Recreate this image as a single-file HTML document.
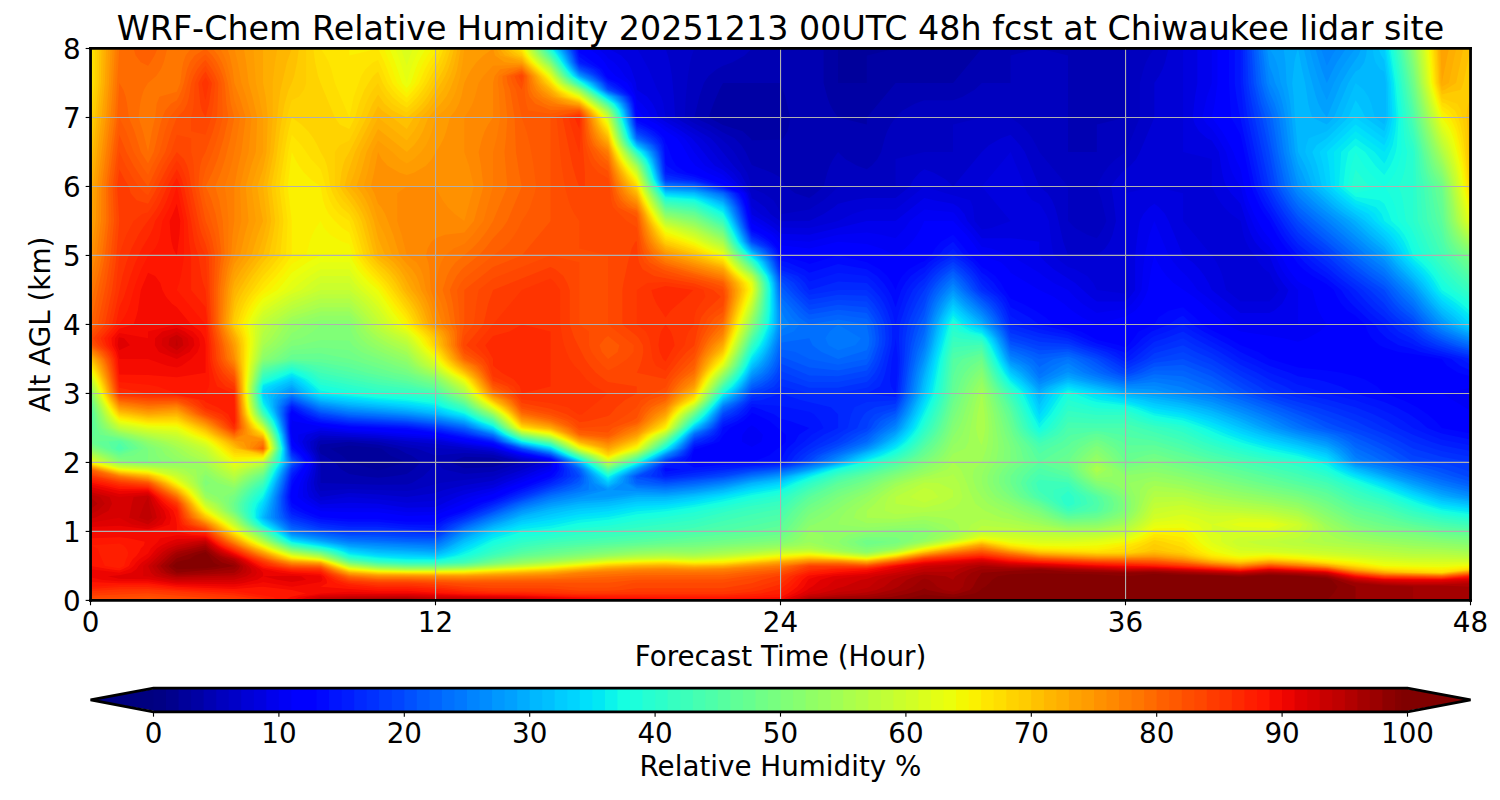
<!DOCTYPE html>
<html lang="en"><head><meta charset="utf-8"><title>WRF-Chem Relative Humidity</title>
<style>html,body{margin:0;padding:0;background:#fff;overflow:hidden}svg{display:block}</style></head>
<body>
<svg  width="1500" height="800" viewBox="0 0 1080 576"><defs><style type="text/css">*{stroke-linejoin: round; stroke-linecap: butt}</style></defs><g id="figure_1"><g id="patch_1"><path d="M0 576l1080 0l0-576l-1080 0z" style="fill: #ffffff"/></g><g id="axes_1"><g id="patch_2"><path d="M65.2 432.3l993.6 0l0-397.4l-993.6 0z" style="fill: #ffffff"/></g><g id="patch_3"><path d="M65.2 432.3l993.6 0l0-397.4l-993.6 0z" clip-path="url(#p21d3d19bf5)" style="fill: #000084"/></g><g id="patch_4"><path d="M65.2 432.3l993.6 0l0-397.4l-993.6 0z" clip-path="url(#p21d3d19bf5)" style="fill: #00008d"/></g><g id="patch_5"><path d="M65.2 432.3l993.6 0l0-397.4l-993.6 0z" clip-path="url(#p21d3d19bf5)" style="fill: #00009b"/></g><g id="patch_6"><path d="M65.2 432.3l993.6 0l0-397.4l-414 0l-20.7 5l0 19.9l-20.7 0l0-24.9l-538.2 0zM272.2 338.5l-3-0.6l-17.7-5l-5.2-4.9l-8.6-5l13.8-2.2l20.7 1.8l2.3 0.4l6.5 5l11.9 4.9l-17.8 5z" clip-path="url(#p21d3d19bf5)" style="fill: #0000a4"/></g><g id="patch_7"><path d="M65.2 432.3l993.6 0l0-397.4l-351.9 0l-20.7 24.9l-41.4 0l-20.7 24.8l0 24.8l0-19.8l-20.7-5l-3.5-5l-2.5-4.9l-1.8-5l-2.6-9.9l0-24.9l-527.8 0zM272.2 344l-10.4-1.1l-10.3-1.7l-6-3.3l-4.4-5l-7.8-4.9l-2.5-1.3l-1.2-3.7l1.2-3l20.7-2l20.7 2.3l13.8 2.7l6.9 3.7l3.4 1.3l6.9 4.9l-5.5 5l-4.8 3.3l-10.4 1.7zM334.3 337.1l-10.4-4.2l10.4-4.1l20.7 0.8l10.3 3.3l-10.3 3.4zM541.3 100.9l-1-1.4l-5.6-5l-14.1-4.5l-10.4-5.4l3.5-9.9l4.3-10l2.6-4.9l41.4 0l3.4 9.9l3.5 14.9l-0.7 5l-1.2 4.9l-3.1 5l-1.9 1.2z" clip-path="url(#p21d3d19bf5)" style="fill: #0000b2"/></g><g id="patch_8"><path d="M65.2 432.3l993.6 0l0-397.4l-248.4 0l0 49.7l-20.7 5l0 19.8l-20.7 0l0-69.5l-20.7-5l-20.7 5l0 19.9l-20.7 0l-5.2 4.9l-8.6 5l-6.9 2.5l-20.7 0l-6.9 2.5l-8.7 4.9l-5.1 5l-3.5 5l-2.5 4.9l-1.8 5l-2.6 9.9l-2.6 5l-4.3 5l-3.4 2.4l-6.9-2.4l-8.7-5l-5.1-5l-3.5 5l-2.5 5l-1.8 4.9l-2.6 10l-5.7 4.9l-4.6 3.3l-10.1-3.3l-6.7-4.9l-3.9-6.5l-6.2-3.5l-14.5-5.5l-4.4-9.4l-3.1-4.9l-4.8-5l-8.4-4.1l-9.8-5.8l-10.9-5l3.6-14.9l3.3-9.9l3.4-5l5.8-5l4.6-2.5l6.9-2.4l8.6-5l5.2-5l-476.1 0zM230.8 347.8l0-14.9l-1.2-4.9l-2-5l1.4-5l1.8-1l20.7-0.2l20.7 1.2l20.7 4.1l6.9 0.9l13.8 5l20.7-1.8l20.7 1.2l20.7 5.5l-20.7 6.7l-20.7 1.6l-15.1-3.3l-5.6-5l-3.7 5l-5.2 5l-8.1 4.9l-3.7 1l-20.7 0.2z" clip-path="url(#p21d3d19bf5)" style="fill: #0000bf"/></g><g id="patch_9"><path d="M65.2 432.3l993.6 0l0-397.4l-227.7 0l-3.5 5l-2.5 5l-1.8 4.9l-2.6 10l0 24.8l-2.1 5l-8.2 19.8l-6.9 5l-5 5l-3.7 4.9l-2.8 5l-2.3 5l3.4 9.9l3.5 14.9l-2.2 5l-2.9 4.9l-1.8 2.5l-6.9-2.5l-8.7-4.9l-5.1-5l0-24.8l-20.7-24.9l-2.3-4.9l-2.9-5l-3.7-5l-4.9-4.9l-6.9-5l-20.7 0l-20.7 5l0 19.8l-20.7 0l-20.7 5l0 19.9l-41.4 0l-4.6 4.9l-5.8 5l-10.3 6.6l-20.7 3.5l-2-5.1l-3.1-5l-7.2-5l-8.4-3.6l-1.7-6.3l-1.7-5l-9.4-14.9l-4.2-4.9l-3.7-3.1l-1.8-1.9l-7.5-5l-11.4-5.8l-6.9-4.1l0.8-14.9l1.5-14.9l1.6-9.9l1.2-5l1.8-5l-434.7 0zM230.8 353.6l-0.6-0.8l-1.9-5l1.2-14.9l-1.4-4.9l-2.4-5l0.5-5l4.6-2.8l20.7 0.4l20.7 1.2l11.5 1.2l9.2 1.9l20.7 2.6l20.7 1.4l20.7 2.2l5.6 1.9l15.1 4l6.9 0.9l-6.9 2.8l-7.2 2.2l-13.5 5l-38.5 4.9l-18.5 5l-5.1 0.8l-41.4-1.5z" clip-path="url(#p21d3d19bf5)" style="fill: #0000c8"/></g><g id="patch_10"><path d="M65.2 432.3l993.6 0l0-397.4l-217.4 0l-2.6 10l-1.8 4.9l-2.5 5l-3.4 5l0 24.8l-10.4 24.8l-2.6 5l-4.3 5l-3.4 2.4l-2.6 2.5l-4.3 5l-3.5 5l1.7 9.9l1.8 14.9l-2.5 9.9l-2.1 5l-3.3 5l-5.9 4.9l-20.7 0l-3.5-9.9l-4.5-19.9l-1.4-4.9l-2.1-5l-3.3-5l-5.9-4.9l-10.4-24.9l-3.4-4.9l-6.9-7.5l-6.9 2.5l-8.7 5l-5.1 4.9l-20.7 24.9l-5.2-5l-8.6-5l-6.9-2.5l-3.5 2.5l-4.3 5l-2.6 5l-10.3 8.2l-20.7 0l-10.4 1.7l-10.3 2.5l-3 2.5l-7.4 4.9l-10.3 5l-20.7 0.2l-7.3-5.2l-3.8-4.9l-6.8-5l-2.8-1.4l-0.8-3.6l-2.2-4.9l-5.4-10l-4.7-4.9l-11.8-14.9l-4.7-5l-25.6-14.9l-0.9-14.9l-1.4-14.9l-1.7-9.9l-1.2-5l-1.7-5l-414 0zM230.8 357.8l-3.7-5l-1.2-5l2.4-14.9l-1.7-4.9l-2.9-5l-0.4-5l7.5-4.6l41.4 2.2l41.4 4.1l41.4 5.2l9.4 3.1l11.3 3l13.8 1.9l-13.8 5.5l-13.3 4.5l-7.4 3.3l-20.7 3.1l-14.8 3.5l-5.9 2.2l-20.7 2.8l-20.7-1.7l-20.7-1.1z" clip-path="url(#p21d3d19bf5)" style="fill: #0000d6"/></g><g id="patch_11"><path d="M65.2 432.3l993.6 0l0-397.4l-207 0l0 74.5l20.7 5l0 19.9l2.3 4.9l2.8 5l3.7 5l5 4.9l6.9 5l2.1 9.9l1.7 5l2.5 5l4 4.9l2.6 5l4.3 5l3.5 2.5l3.6 7.4l3.3 5l-3.5 4.9l-3.4 3.3l-20.7 0l-10.4-8.2l-2.6-10l-1.8-4.9l-2.5-5l-3.4-5l-20.7-24.8l0-19.9l-20.7-4.9l-20.7 4.9l0 44.7l1.1 10l1.2 14.9l-2.3 2.7l-20.7-2.7l-2.6-5l-4.3-5l-8.7-4.9l-5.1-1.7l-4.6-3.3l-5.8-5l-1.7-9.9l-1.7-14.9l-2.2-5l-2.9-4.9l-1.8-2.5l-5.2-2.5l-3.7-5l-1.5-4.9l-10.3-24.9l-20.7 24.9l20.7 24.8l-13.8 5l-6.9 1.2l-5.2-6.2l-1.1-9.9l-2-5l-17.6-5l-15.5-4.9l-20.7 16.5l-20.7 0l-10.4 3.3l-10.3 5l-20.7 5l-20.7-0.3l-6.3-4.7l-8.2-5l-6.2-5.3l-2.1-9.6l-3.5-4.9l-7.7-10l-6.5-4.9l-4.3-5l-7.7-9.9l-4.9-5l-15.9-9.9l-9.5-5l-1.6-9.9l-1.5-5l-2.9-5l-6.1-14.9l-5.4-9.9l-3.2-5l-393.3 0zM230.8 360.5l-4.2-2.7l-2.5-5l-0.6-5l3.6-14.9l-2-4.9l-3.3-5l-1.4-5l5.8-4.9l4.6-1.4l41.4 2.6l20.7 2.1l20.7 1.1l20.7 3.6l20.7 2.5l13.1 4.4l7.6 2l20.7 2.9l-26.7 10l-14.7 6.1l-20.7 3.8l-15.6 5l-5.1 2.7l-20.7 1.4l-20.7-2.5l-20.7-1.6z" clip-path="url(#p21d3d19bf5)" style="fill: #0000df"/></g><g id="patch_12"><path d="M65.2 432.3l993.6 0l0-397.4l-196.7 0l0 24.9l-1.7 9.9l-1.7 14.9l1.7 5l2.9 4.9l5.7 5l3.5 1.6l5.1 8.3l2.3 14.9l1.2 5l1.7 5l3.5 4.9l6.9 7.5l5.6 17.4l2 4.9l2.7 5l4 5l6.4 4.9l3.9 10l2.6 4.9l3.2 5l4.1 5l-1.8 4.9l-2.8 5l-5.8 5l-3.4 1.6l-20.7 0l-20.7-16.5l-2.3-5l-2.9-5l-3.7-4.9l-4.9-5l-6.9-5l-10.4-24.8l-2.6-5l-4.3-4.9l-3.4-2.5l-3.5 2.5l-4.3 4.9l-2.6 5l-1.7 9.9l-1.7 14.9l0 24.9l-3.7 4.9l-3.2 3.3l-20.7 0l-4.6-3.3l-11-9.9l-15.5-9.9l-5.7-5l-4.6-5l0-9.9l-20.7-2.5l-20.7 0l-6-7.4l-4.4-5l-2.1-5l-4.1-4.9l-4.1-2.5l-13.8-2.5l-6.9-1.7l-20.7 16.6l-20.7 0l-41.4 9.9l-20.7-0.7l-4.8-4.2l-7.5-5l-8.4-4.6l-1.8-10.3l-1.6-5l-14.8-14.9l-2.5-1.9l-6-3l-4.3-5l-7.7-9.9l-2.7-2.8l-1.8-2.2l-7.2-5l-16.9-9.9l-1.7-5l-2.4-4.9l-3.9-5l-7.5-5l-0.6-4.9l-3.4-10l-2.6-4.9l-4.6-5l-9.5-5l-372.6 0zM230.8 363.2l-8.3-5.4l-1.5-5l0-5l4.9-14.9l-2.3-4.9l-3.8-5l-2.3-5l2.9-4.9l10.4-3.2l20.7 1.9l20.7 1.3l20.7 1.9l20.7 1.3l20.7 3.6l20.7 2.7l20.7 6.4l20.7 3.5l0.9 0.4l-0.9 2.1l-8.1 2.9l-12.6 5.4l-12.3 4.5l-8.4 3.6l-7.8 1.4l-12.9 3.3l-5.2 1.7l-15.5 7.2l-20.7 0.6l-20.7-2.9l-20.7-0.8z" clip-path="url(#p21d3d19bf5)" style="fill: #0000ed"/></g><g id="patch_13"><path d="M65.2 432.3l993.6 0l0-397.4l-186.3 0l0 24.9l-3.5 9.9l-3.4 14.9l3.4 5l3.5 3.3l1.2 1.6l3.4 5l5.7 9.9l2.6 10l1.8 4.9l2.5 5l3.5 5l2.4 9.9l1.6 5l6.3 14.9l2.7 4.9l3.8 5l3.9 3.7l4.1 6.2l4.7 10l3.1 4.9l3.9 5l4.9 5l0 24.8l-20.7 0l-20.7 0l-24.5-19.9l-6.6-4.9l-3.4-5l-4.4-5l-5.1-4.9l-4.3-5l-3.5-5l-10.3-24.8l-3.5 9.9l-3.4 14.9l-1.2 10l-1.1 14.9l-2.8 4.9l-4.1 5l-4.6 3.9l-10.4 1.1l-10.3 1.6l-10.4-6.6l-5.7-5l-4.6-4.9l-10.4-5l-7.4-5l-2.9-2.4l-20.7-12.5l-13.8-4.9l-6.9-1.3l-6.6-8.7l-9-9.9l-3.8-5l-1.3-1.2l-20.7-2.1l-10.4 8.3l-3.4 5l-6.9 7.4l-10.4-2.5l-10.3-1.6l-20.7 1.6l-20.7 5l-20.7-1.3l-2.8-3.7l-7.1-4.9l-10.8-6.4l-2.8-13.5l-1.8-5l-12.6-9.9l-3.5-3.3l-13-6.6l-7.7-9.6l-3.3-5.3l-3.8-5l-7.6-5l-6-3.4l-1.9-1.5l-8.5-5l-2.6-5l-4-4.9l-3.7-3.3l-0.3-1.7l-3.4-9.9l-5-5l-3.1-5l-4.7-4.9l-4.2-3l-1.5-2l-5.4-5l-365.7 0zM292.9 368.8l-20.7-2.9l-41.4-0.2l-5.7-3l-6.8-4.9l-0.3-5l0.6-5l6.1-14.9l-2.6-4.9l-4.2-5l-3.2-5l0-4.9l16.1-5l20.7 2.5l20.7 1.2l41.4 3.3l20.7 3.7l20.7 3.1l2.7 1.1l18 5l20.7 4l1.8 0.9l-1.8 4.2l-41.4 16.5l-16.6 4.2l-24.8 10.6z" clip-path="url(#p21d3d19bf5)" style="fill: #0000f6"/></g><g id="patch_14"><path d="M65.2 432.3l993.6 0l0-136.6l-20.7-12.4l20.7-4.2l0-244.2l-182.2 0l0 24.9l-2 14.9l-2.1 9.9l7.3 9.9l3 5l5.2 9.9l1.7 5l3.5 7.4l2.5 12.5l2.9 9.9l4.2 9.9l5.4 10l3.5 4.9l2.2 2.5l4.6 7.5l3.6 4.9l5.6 10l3.6 4.9l3.3 3.8l10.3 6.2l2.6 9.9l1.8 5l2.5 4.9l3.5 5l-5.2 5l-8.6 4.9l-6.9 2.5l-10.4-2.5l-31-4.9l-10.4-5l-10.3-8.3l-6.9-6.6l-6.3-5l-14.4-9.9l-5-5l-3.7-4.9l-2.8-5l-2.3-5l-2.3 10l-2.3 14.9l-2 4.9l-2.8 5l-4.4 5l-6.9 4.4l-3 0.5l-17.7 5l-10.4-5l-7.4-4.9l-5.9-5l-7.4-5l-10.3-4.9l-20.7-12.4l-1.6-2.5l-5.3-5l-13.8-5l-7.2-9.9l-4.1-5l-9.4-9.9l-20.7 0l-2.3 5l-2.9 4.9l-3.7 5l-4.9 5l-6.9 4.9l-10.4-4.9l-10.3-3.3l-20.7-1.7l-20.7 5l-20.7-2.4l-1.6-2.6l-4.5-5l-14.6-8.2l-3.8-16.6l-2.1-5l-14.8-9.7l-11.4-5.2l-8.5-4.9l-4-5l-5.5-9.9l-3.7-5l-8.3-5.2l-5.9-4.7l-9.7-5l-5.1-6.6l-1.2-8.3l-5.6-9.9l-8.4-5l-5.5-5.9l-2.5-4l-4.3-5l-7-5l-358.8 0zM230.8 368.1l-10.4-5.4l-6.2-4.9l0.7-5l1.2-5l2.2-4.9l5.2-10l-2.9-4.9l-8.8-10l-1.7-3.7l-0.5-6.2l0.5-6.2l1 1.2l19.7 4l20.7 2.3l20.7 1.2l41.4 3.2l22.5 4.2l18.9 3.1l4.5 1.9l16.2 4.5l20.7 4l2.8 1.4l-1.8 5l-1 1.2l-20.7 8.3l-14.7 5.4l-6 2.9l-8.3 2.1l-33.1 13l-20.7 0.8l-20.7-2.8l-20.7 0zM541.3 321.9l-7.1-3.9l0.3-4.9l3.9-5l2.9-2l3.3 2l4.7 5l-1.1 4.9z" clip-path="url(#p21d3d19bf5)" style="fill: #0000ff"/></g><g id="patch_15"><path d="M65.2 432.3l993.6 0l0-124.2l-20.7-12.4l-3-2.5l-7.4-5l-10.3-4.9l0-19.9l0 5l20.7 2.5l6.9 2.4l13.8 1.7l0-240.1l-178.1 0l0 24.9l-1.3 24.8l6.5 9.9l2.7 5l4.6 9.9l5.1 24.9l3.4 9.9l2.1 5l2.7 4.9l7.4 11.2l5 8.7l3.4 5l4 4.9l2.9 5l5.4 7.5l2.9 2.4l7.4 5l10.4 5l1.2 4.9l1.7 5l2.7 5l4.7 4.9l10.4 5l0 24.8l-41.4 0l-10.4-4.9l-10.3-3.3l-3.5-1.7l-17.2-5l-9.4-4.9l-11.3-5l-4.5-5l-5.1-4.9l-6-5l-5.1-3.7l-10.4-1.3l-10.3-4.9l-1.1 4.9l-1.6 5l-2.5 5l-4.6 4.9l-10.9 5l0 9.9l-20.7-3.7l-1.9-1.2l-18.8-5l-4.6-5l-5.8-4.9l-7.4-5l-9.8-5l-13.8-4.9l-2-5l-2.9-5l-4.7-4.9l-8.8-5l-2.3-0.8l-4.2-4.2l-7.5-9.9l-9-9.9l-13 4.9l-4.3 5l-2.1 5l-1.3 4.9l-13.8 5l-5.3 5l-1.6 2.5l-1.9-2.5l-5.9-5l-12.9-5l-20.7-4.9l-20.7 4.9l-20.7-3.6l-0.5-1.3l-3.3-5l-5.6-5l-11.3-5.4l-3.3-14.4l-1.5-5l-2.4-5l-13.5-8.1l-19-6.8l-7.8-4.9l-3.5-5l-4.6-9.9l-3.4-5l-3.1-1.9l-2.7-3.1l-7.2-4.9l-10.8-5l-1-9.9l-1.1-5l-7.8-9.9l-10.8-4.8l-1.9-5.2l-4.8-4.9l-5.3-5l-8.7-5l-351.9 0zM292.9 373.8l-20.7-2.2l-20.7 0l-20.7-1.4l-6.2-2.5l-8.9-5l-5.6-4.9l3.6-10l2.6-4.9l5.9-10l-3.1-4.9l-9-9.1l-0.9-10.8l0.9-10.5l1 0.6l5.2 4.9l14.5 2.9l20.7 2.1l41.4 2.8l20.7 1.8l27.2 5.3l14.2 2.3l6.3 2.7l14.4 4l20.7 4.1l3.7 1.8l-0.9 5l-2.8 3.1l-17.3 6.8l-13.8 5l-10.3 5l-16.2 4.9l-4.5 2.3l-20.7 8.2zM541.3 327.4l-16.6-4.4l-0.6-5l3.7-4.9l4.2-5l7.8-5l1.5-1.4l3.1 1.4l7.9 5l5.1 5l0.6 4.9z" clip-path="url(#p21d3d19bf5)" style="fill: #0000ff"/></g><g id="patch_16"><path d="M65.2 432.3l993.6 0l0-120.1l-20.7-4.1l-4.6-5l-5.8-4.9l-7.4-5l-9.8-5l-13.8-4.9l-5.2-5l-8.6-5l-6.9-2.4l-10.4-2.5l-10.3-1.7l-20.7-2.1l-20.7-6.2l-7.8-4.9l-12.9-5l-8.7-5l-12-5.8l-6.9-4.1l-5-5l-8.8-7.4l-10.4 2.5l-7.4 4.9l-2.9 5l-11.3 5l-3.4 4.9l-4 5l-2 1.7l-4.6-1.7l-16.1-3.9l-11.3-6l-19.8-5l-5.7-5l-7.2-4.9l-9.3-5l-8.8-3.7l-4.2-6.2l-2.7-5l-4.1-5l-6.6-4.9l-3.1-1.7l-2.8-3.3l-5.5-5l-7.9-9.9l-4.5-5l-8.7 5l-4.3 5l-2.6 4.9l-5.1 4.2l-2.3 0.8l-8.9 5l-4.7 4.9l-2.9 5l-1.9 5l-2.5-5l-3.5-5l-5.3-4.9l-9.4-5l-20.7-5l-20.7 6.2l-2.6-1.2l-18.1-4.9l-1.9-5l-4.1-5l-6.7-5l-8-3.7l-4.1-16.1l-1.6-5l-2.7-5l-10-4.9l-2.3-1.5l-20.7-7.2l-5.4-1.3l-7.6-4.9l-2.9-5l-3.7-9.9l-1.1-1.7l-0.9-3.3l-4.6-5l-8.3-4.9l-6.9-3.2l-1.6-11.7l-1.4-5l-4.6-5l-5.4-4.9l-7.7-3.4l-1.5-1.6l-2.6-5l-13.1-9.9l-3.5-2l-0.8-3l-351.1 0zM251.5 373.8l-20.7-1.5l-11.4-4.6l-9.3-5.8l-0.9-4.1l0.9-7.2l1.2-2.8l2.9-4.9l6.8-10l-3.4-4.9l-7.5-7.1l-1.3-12.8l0.4-9.9l0.9-2.2l11.3 7.1l9.4 1.9l20.7 2.2l20.7 0.9l20.7 1.4l20.7 2.3l32 6.2l9.4 1.6l8.1 3.4l12.6 3.5l20.7 4.1l4.7 2.3l-0.1 5l-4.6 5l-26.8 9.9l-14.6 6.4l-11.7 3.5l-9 4.6l-15.8 5.4l-4.9 2.8l-20.7 0.2l-20.7-1.9zM499.9 334.3l-2.6-1.4l1-4.9l1.6-4.3l3.5-0.7l14.4-5l2.8-4.4l5-5.5l9.8-5l5.2-4.9l0.7-1l2.8 1l10 4.9l7.9 6.9l3.9 3.1l-0.1 4.9l-3.8 3.8l-2.1 1.2l-6.2 5l-12.4 4.9l-20.7 0zM1049.9 268.4l8.9 2.5l0-236l-173.9 0l0 24.9l1.4 24.8l3 5l3.9 7.4l7.7 37.3l1.8 4.9l4.5 10l3 4.9l3.7 5l5.3 9.9l3.2 5l3.7 5l4.3 4.9l4.2 6.2l3.8 3.8l6.5 4.9l10.4 5.8l5.1 4.2l2.2 4.9l3 5l4.7 5l5.7 3.7l6.9 6.2l1.7 5l2.9 4.9l5.7 5l3.5 1.7l10.3 3.3l10.4 1.4l20.7 3.5l3.7 5z" clip-path="url(#p21d3d19bf5)" style="fill: #0008ff"/></g><g id="patch_17"><path d="M65.2 432.3l993.6 0l0-115.9l-20.7-4.2l-10.4-4.1l-5.7-5l-7.2-4.9l-9.3-5l-8.8-3.7l-20.7-6.2l-10.4-5l-10.3-3.3l-6.9-1.7l-13.8-2.4l-6-2.5l-14.7-5l-20.7-9.9l-8-5l-18.7-9.9l-7.8-5l-6.9-6.2l-3 1.2l-7.4 5l-12.2 5l-6.7 4.9l-4.9 5l-7.2 5.8l-1.3-0.8l-14.8-5l-4.6-1.1l-20.7-8.8l-20.7-5l-6.9-5l-8.7-4.9l-5.1-2.5l-1-2.5l-2.7-5l-4.6-4.9l-3.6-5l-5.2-5l-3.6-2.4l-1.8-2.5l-4.5-5l-6.2-5l-8.2-9.9l-6.5 5l-3.9 4.9l-7 5l-3.3 3.3l-3.2 1.7l-6.6 4.9l-4 5l-2.8 5l-4.1 12.4l-2.6-7.5l-2.6-4.9l-3.4-5l-4.7-5l-7.4-4.9l-20.7-3.8l-20.7 6.3l-3.7-2.5l-11.8-5l-5.2-1.4l-1-3.6l-2.3-4.9l-5-5l-7.7-5l-4.7-2.2l-1.2-2.7l-3.7-14.9l-1.8-5l-3-5l-11-4.9l-20.7-7l-12.3-3l-7.6-4.9l-0.8-1.6l-1-13.3l-1.9-5l-5.4-5l-12.4-6.3l-0.9-3.6l-1.3-9.9l-1.7-5l-5.6-5l-6.6-4.9l-4.6-2.1l-2.7-2.9l-3.5-5l-8.9-4.9l-5.6-4l-1.6-6l-350.3 0zM292.9 377.6l-20.7-1.9l-20.7 0l-20.7-1.8l-4.2-1.2l-12.4-5l-4.1-2.5l-0.8-2.5l-0.9-4.9l1.7-11.6l2-3.3l7.7-10l-3.7-4.9l-6-5l-1.7-14.9l0.1-9.9l1.6-3.7l6.2 3.7l10.3 4.9l4.2 0.9l20.7 2.3l41.4 1.8l20.7 2.8l41.4 7.9l9.9 4.2l10.8 3l20.7 4.2l5.6 2.7l0.8 5l-3.5 5l-2.9 1.6l-22.5 8.3l-18.9 7.7l-7.2 2.2l-13.5 6.1l-11.6 3.9l-9.1 5.2zM479.2 339.4l-1-1.5l1-0.9l11.2 0.9zM499.9 336.6l-7.2-3.7l4.1-4.9l3.1-6l13.6-4l5.1-4.9l2-5.4l10.3-4.6l6.7-4.9l3.7-5.2l2 0.2l13.9 5l4.8 3.3l6.5 1.6l14.2 5l-7.5 5l-2.9 4.9l-5.7 5l-2.9 5l-1.7 4.9l-41.4 1.7zM1051.2 263.4l7.6 3.3l0-231.8l-169.8 0l0 24.9l1.2 9.9l1.7 9.9l11.6 54.7l4.3 9.9l2.7 5l3.4 4.9l8.6 14.9l3.5 5l4 5l9.2 9.9l5.7 5l10.4 6.6l10.3 8.3l3.1 4.9l4.3 5l10.7 9.9l6.1 5l3.4 5l5.2 4.9l8.6 5l10.4 2.8l5.1 2.2l15.6 3.2l6.9 1.7z" clip-path="url(#p21d3d19bf5)" style="fill: #0014ff"/></g><g id="patch_18"><path d="M65.2 432.3l993.6 0l0-111.8l-20.7-4.1l-9.2-3.3l-11.5-5l-6.9-5l-8.7-4.9l-11.1-5l-14.7-5l-20.7-4.9l-15.6-5l-5.1-1.2l-7.8-3.8l-12.9-4.9l-9.4-5l-11.3-5l-7.4-4.9l-26.6-14.9l-7.4-5l-11.5 5l-9.2 3.3l-2.5 1.6l-18.2 14.9l-7.3-4.9l-16.5-5l-17.6-7.4l-13-2.5l-7.7-1.9l-10.4-3.1l-10.3-6.2l-1.2-3.7l-2.2-5l-3.3-5l-5.8-4.9l-4.3-5l-3.9-3.3l-4.8-6.6l-4.9-5l-6.9-5l-4.1-4.9l-5.2 4.9l-8.1 5l-5.4 5l-2 2.5l-3.7 2.4l-5.2 5l-3.6 5l-2.1 4.9l-3.5 10l-2.6 9.9l0 9.9l1.6 14.9l-0.3 10l-1.3 14.9l-3.2-5l-0.8-5l1.4-14.9l2.1-9.9l0.5-5l0-9.9l-2.6-9.9l-1.9-5l-2.4-5l-3.5-4.9l-4.3-5l-6-5l-20.7-2.4l-20.7 6.2l-3.1-3.8l-9.9-4.9l-7.7-2.9l-2-7.1l-2.7-4.9l-5.8-5l-10.2-5.7l-1.8-4.2l-3.9-14.9l-2-5l-3.3-5l-9.7-4.3l-20.7-6l-19.2-4.6l-1.5-1l-1.2-13.9l-1-4.9l-2.7-5l-6.3-5l-9.5-4.6l-1.3-5.3l-1.5-9.9l-2-5l-6.6-5l-7.8-4.9l-1.5-0.7l-8.4-9.3l-10.9-4.9l-1.4-1.1l-2.4-8.9l-349.5 0zM251.5 377.6l-20.7-2.1l-9.4-2.8l-11.3-4.6l-0.3-0.4l-1.5-5l-0.8-4.9l2.6-14.9l8.5-10l-4-4.9l-4.5-3.7l-0.3-1.3l-1.8-14.9l-0.1-9.9l2.2-5.2l8.8 5.2l11.9 4.7l20.7 2.5l41.4 1.9l6.9 0.8l13.8 1.9l41.4 8l11.7 5l9 2.5l20.7 4.2l6.5 3.2l1.7 5l-2.3 5l-5.9 3.3l-20.7 7.4l-23.4 9.1l-18 7.5l-7.5 2.5l-10.1 4.9l-3.1 2.7l-20.7-1l-20.7-1.7zM479.2 341.6l-2.5-3.7l2.5-2.3l9-2.7l7.1-4.9l4.6-7.3l9.3-2.7l7.2-4.9l4.2-7.3l5.9-2.7l8.1-4.9l6.7-7.3l20.7 1.5l20.7 4.1l3.4 1.7l4.3 4.9l2.6 5l-8.6 5l-5.6 4.9l-6.5 5l-4.3 5l-2.6 4.9l-3.4 0.7l-41.4 2.7l-20.7 2.3zM1051.9 258.4l6.9 4.2l0-227.7l-165.6 0l0 24.9l1.9 19.8l0.6 5l10.4 49.7l4.7 9.9l15.1 24.8l3.7 5l5 5.8l5.1 4.1l5.2 5l6.5 5l3.9 2.5l8.8 7.4l6.7 5l3.9 4.9l9.8 10l5.7 4.9l6.5 5l3.8 5l6.5 4.9l10.4 4.3l1 0.7l12.8 5l6.9 1.4z" clip-path="url(#p21d3d19bf5)" style="fill: #001cff"/></g><g id="patch_19"><path d="M65.2 432.3l993.6 0l0-107.6l-20.7-4.2l-7.8-2.5l-12.9-4.9l-10.4-5l-8-5l-10.1-4.9l-12.9-5l-20.7-5.8l-20.7-4.1l-9.2-5l-11.5-5l-8.7-4.9l-12-5.8l-14.8-9.1l-18.7-10l-7.9-4.9l-13 4.9l-7.7 2.5l-15.6 12.4l-5.1 2.5l-13.4-7.4l-15.6-5l-12.4-5l-20.7-3.7l-20.7-6.2l-1.4-5l-1.8-4.9l-2.6-5l-4-5l-6.8-4.9l-4.1-4.2l-3.7-5.8l-4-4.9l-5.4-5l-7.6-5l-9.1 5l-6.1 5l-5.5 6.6l-4 3.3l-4.3 5l-4.6 9.9l-4.9 14.9l-0.5 9.9l0.7 14.9l-0.5 10l-1.4 14.9l-1.2 2.5l-20.7-2.5l9.5-5l2.3-5l1.5-4.9l4.5-19.9l0.5-5l-0.2-9.9l-3.3-9.9l-2.3-5l-3.1-5l-4.3-4.9l-5.1-5l-20.7-1.2l-20.7 6.2l-3.1-5l-5.1-5l-12.5-4.6l-1.2-5.3l-1.7-5l-3.2-4.9l-6.6-5l-8-4.3l-2.4-5.6l-4.2-14.9l-2.1-5l-3.6-5l-8.4-3.7l-20.7-5.7l-5.8-0.5l-14.9-3.6l-2-16.3l-1.3-4.9l-3.6-5l-7.1-5l-6.7-3.2l-1.8-6.7l-0.6-5l-1.1-4.9l-2.2-5l-15-9.4l-5.2-5.5l-5.4-5l-10.1-4.3l-3.2-10.6l-348.7 0zM313.6 382.6l-41.4-3.3l-20.7 0l-20.7-2.3l-14.5-4.3l-6.2-2.5l-1.5-2.5l-1.3-5l-0.6-4.9l1.6-10l1.8-6.9l7.3-8l-4.3-4.9l-3-2.5l-0.7-2.5l-1.8-14.9l-0.4-9.9l1.8-5l1.1-1.1l2.4 1.1l8.9 5l9.4 3.7l20.7 2.7l41.4 2l20.7 2.4l20.7 4.1l20.7 4.4l13.5 5.5l7.2 2l20.7 4.2l7.5 3.7l2.5 5l-1.2 5l-8.8 4.9l-20.7 7.2l-44.8 17.7l-11.4 4.9zM479.2 343.3l-1.8-0.4l-2.1-5l3.9-3.6l4.5-1.4l10-4.9l6.2-8.5l5-1.5l9.3-4.9l3.8-5l2.6-4.3l11-5.6l9.7-9.4l6.9-0.6l13.8-4.9l15.1 4.9l21.1 5l5.2 5l0 9.9l-10.4 5l-14.9 9.9l-5.8 5l-3.4 4.9l-6.9 1.4l-20.7 1.4l-41.4 4.6zM1058.8 258.4l0-223.5l-164 0l0.2 24.9l1.8 14.9l1.5 9.9l10.4 49.7l7.8 14.9l9.3 14.9l3.4 4.9l5.4 6.7l16.1 13.2l4.6 3.3l7.5 6.6l13.2 10l9.2 9.9l5.4 5l6.1 4.9l10.3 10l10.4 5.6l6.5 4.3l15.2 5z" clip-path="url(#p21d3d19bf5)" style="fill: #0028ff"/></g><g id="patch_20"><path d="M65.2 432.3l993.6 0l0-103.5l-20.7-4.1l-6-1.7l-14.7-5l-9.4-4.9l-11.3-5l-9.2-5l-11.5-4.9l-14.8-5l-17.8-5l-8.8-1.8l-10.4-3.1l-10.3-5l-8-5l-12.7-6.6l-20.7-12.4l-12.1-5.8l-8.6-5l-14.8 5l-5.9 1.7l-10.4 8.2l-10.3 5l-8.3-5l-11.2-4.9l-14.7-5l-7.2-2.9l-20.7-2.7l-20.7-6.2l-1.5-3.1l-1.6-5l-2.1-4.9l-3-5l-4.6-5l-7.9-4.9l-2.8-5l-3.5-5l-4.4-4.9l-5.9-5l-4.1-2.7l-5 2.7l-6.8 5l-4.8 4.9l-4.1 5.8l-4.2 4.2l-2.7 4.9l-4.5 10l-3.4 9.9l-1.1 9.9l-0.1 14.9l-1.2 14.9l-1.1 10l-2.4 4.9l-20.7 1.3l-8.9 3.7l-2.4 5l-2.5 9.9l-6.9 4.1l-20.7 11.4l-6.1 4.4l-4.3 4.9l-10.3 2.1l-20.7 1.6l-12.1 1.3l-35.6 5l-14.4 1.4l-6.2-1.4l0.8-5l5.4-5l13-4.9l4.3-5l3.4-4.7l12.2-5.2l4.7-5l3.8-5.9l8-4l6.3-5l5.3-5l1.1-1.4l13.2-3.5l7.5-5.4l20.7 5.4l20.7 0l20.7-4.2l1.6-0.8l5.3-5l2.7-4.9l1.9-5l4-14.9l0.5-5l-0.5-9.9l-3.9-9.9l-2.8-5l-3.7-5l-5.1-4.9l-20.7 0l-20.7 3.5l-3.6-3.5l-3.4-5l-6.3-5l-7.4-2.7l-2-7.2l-1.9-5l-3.6-4.9l-7.4-5l-5.8-3.1l-3-6.8l-4.4-14.9l-2.3-5l-3.8-5l-7.2-3.2l-20.7-5.5l-13.2-1.2l-7.5-1.8l-0.9-3.2l-1.9-14.9l-1.7-4.9l-4.5-5l-7.8-5l-3.9-1.9l-2.2-8l-0.7-5l-1.2-4.9l-2.5-5l-14.1-8.3l-1.3-1.6l-5.2-5l-6.3-5l-7.9-3.4l-1-1.5l-3-10l-347.9 0zM292.9 382.6l-20.7-1.6l-20.7 0l-20.7-2.5l-20.7-6.2l-2.7-4.6l-1.1-5l-0.5-4.9l1.8-10l2.5-8.9l6-6l-6-6.2l-1.7-8.7l-1.2-9.9l-0.6-9.9l1.5-5l2-1.9l4.5 1.9l9.4 5l6.8 2.7l20.7 2.8l41.4 2.1l20.7 2.3l20.7 4.1l2.5 0.9l18.2 3.8l1.9 1.1l13.4 5l5.4 1.5l20.7 4.3l8.4 4.1l3.3 5l0.1 5l-8.1 4.9l-24.4 8.6l-16.7 6.3l-36.6 14.9l-6.8 5l-2 1.2zM1044.6 253.5l14.2 3.6l0-222.2l-162.5 0l0.6 24.9l1.3 9.9l1.7 9.9l11.4 54.7l7.9 14.9l9.7 14.9l5.7 7.4l8.8 7.5l11.9 9.1l12.2 10.7l13.6 10l9.8 9.9l5.8 5l4.5 4.9l5.8 5l6.5 5l3.9 2.1l3.1 2.8l8.8 5z" clip-path="url(#p21d3d19bf5)" style="fill: #0030ff"/></g><g id="patch_21"><path d="M65.2 432.3l993.6 0l0-99.4l-20.7-4.1l-20.7-5.8l-8.7-5l-10.2-4.9l-12.2-5l-10.3-5l-13-4.9l-14.6-5l-13.8-3.7l-20.7-6.2l-7.4-5l-13.3-7.4l-20.7-12.5l-11.3-4.9l-9.4-5l-20.7 5.8l-5.2 4.1l-15.5 7.5l-12.5-7.5l-8.2-3.5l-20.7-7.2l-20.7-1.7l-20.7-6.2l-7.2-16.1l-3.4-5l-5.3-5l-4.8-3l-2.1-1.9l-3-5l-3.7-5l-4.8-4.9l-7.1-5.5l-8.3 5.5l-5.3 4.9l-4 5l-6.2 9.9l-2.7 5l-4.3 9.9l-1.8 5l-1.6 9.9l-0.9 14.9l-2.7 24.9l-3.6 7.4l-14.8 2.5l-5.9 3.3l-1.9 1.7l-2.9 4.9l-2.1 5l-9.5 5l-4.3 3.3l-3 1.6l-11.5 5l-6.2 3.7l-1.8 1.3l-5.1 4.9l-13.8 2.8l-24.2 2.2l-34.2 5l-24.4 2.5l-10.6-2.5l3.7-5l5.9-5l12.5-4.9l4.9-5l4.3-5.7l10-4.2l5.8-5l4.9-7.4l5-2.5l7.3-5l5.9-5l2.5-3.4l5.8-1.5l10.2-5l4.7-5.8l20.7 6.6l20.7 0l20.7-4.1l1.9-1.7l4-4.9l2.6-5l1.8-5l2.8-9.9l0.5-5l-0.7-9.9l-2-5l-2.5-4.9l-3.3-5l-5.1-5.8l-20.7-0.6l-20.7 3.6l-7.2-7.1l-3.7-5l-7.6-5l-2.2-0.8l-2.7-9.1l-2.2-5l-4-4.9l-11.8-6.9l-3.6-8l-4.6-14.9l-2.5-5l-4.1-5l-5.9-2.6l-20.7-5.5l-20.7-1.8l-1.3-5l-2.3-14.9l-2.1-4.9l-5.3-5l-9.7-5.5l-2.6-9.4l-0.8-5l-1.3-4.9l-2.8-5l-13.2-7.1l-2.1-2.8l-5.6-5l-7.2-5l-5.8-2.5l-1.6-2.4l-3.2-10l-347.1 0zM251.5 382.6l-20.7-2.7l-20.7-6l-1.3-1.2l-2.6-5l-0.9-5l-0.3-4.9l3.1-14.9l2-5.5l4.8-4.5l-4.8-4.9l-1.3-5l-2-14.9l-0.9-9.9l1.3-5l2.9-2.8l20.7 9.4l20.7 3l41.4 2.2l20.7 2.4l20.7 4l5.1 1.7l15.6 3.3l2.9 1.6l17.8 6l20.7 4.3l9.4 4.6l4.1 5l1.2 5l-7.2 4.9l-42 14.9l-36.7 14.9l-7.5 5l-4.1 2.3l-41.4-2.3zM1050 253.5l8.8 2.2l0-220.8l-160.9 0l0.9 24.9l0.7 4.9l1.8 10l12.6 59.6l5 9.9l6.1 9.9l9.6 13.3l7.5 6.6l13.2 9.9l10.8 10l6.1 4.9l14.1 10l10.4 9.9l3.9 5l5.1 4.9l11.7 8.6l1.2 1.4l5.9 4.9l10.3 5z" clip-path="url(#p21d3d19bf5)" style="fill: #003cff"/></g><g id="patch_22"><path d="M65.2 432.3l993.6 0l0-92.4l-5.2-2l-15.5-5l-20.7-4.9l-8-5l-9.3-5l-11-4.9l-13.1-5l-11.5-5l-13-4.9l-44.5-14.9l-34.5-20.7l-10.4-4.2l-10.3-4.9l-20.7 4.9l-9.8 5l-10.9 5l-9-5l-7.6-5l-4.1-1.7l-20.7-7.1l-20.7-0.5l-20.7-6.2l-1.7-4.3l-2.8-5l-2-5l-2.7-4.9l-3.8-5l-5.9-5l-1.8-1.1l-4.2-3.8l-3.2-5l-4-5l-5.2-4.9l-4.1-3.2l-4.9 3.2l-5.8 4.9l-4.3 5l-3.4 5l-2.3 6.2l-4.7 8.7l-2.2 4.9l-2 5l-2.2 9.9l-4.8 39.8l-4.8 9.9l-15.2 5l-3.9 4.9l-1.6 5l-10.9 5l-7.1 4.9l-12.1 5l-9.3 5l-5.5 4.9l-17.2 3.5l-20.7 2l-28.3 4.5l-33.8 3.5l-15-3.5l15-11.1l9.9-3.8l5.6-5l5.2-6.6l7.9-3.3l6.7-5l3.8-5l2.3-3.9l10.3-6l6.5-5l3.9-5.3l11.7-4.6l5.7-5l3.3-6.1l15.3 6.1l5.4 1.7l20.7 0l20.7-4.1l2.2-2.5l3.2-5l2.3-5l3.1-9.9l0.5-5l-1-9.9l-2.3-5l-2.9-4.9l-5.1-6.7l-20.7-1.1l-20.7 3.5l-10.7-10.6l-4-5l-6-3.7l-3.5-11.2l-2.3-5l-4.5-4.9l-10.4-5.7l-4.2-9.2l-4.8-14.9l-2.7-5l-4.4-5l-4.6-2l-20.7-5.4l-20.7-1.8l-1.8-5.7l-1.4-9.9l-1.2-5l-2.5-4.9l-6.1-5l-7.7-4.3l-1.8-5.6l-1.3-5l-0.7-5l-1.5-4.9l-3.1-5l-12.3-6l-3-3.9l-6-5l-8.1-5l-3.6-1.5l-2.2-3.4l-1.5-5l-1.9-5l-346.3 0zM292.9 385.3l-20.7-1.4l-20.7-0.2l-20.7-2.5l-20.7-5.7l-2.8-2.8l-2.3-5l-0.7-5l-0.2-4.9l2.1-10l3-9.9l0.9-1.6l3.6-3.4l-3.6-3.7l-0.5-1.2l-1.9-10l-2.4-19.8l1-5l3.8-3.7l20.7 9.3l20.7 3.1l41.4 2.3l20.7 2.4l20.7 4l7.7 2.5l13 2.7l3.9 2.2l15 5l22.5 4.9l10.3 5l5 5l2.4 5l-6.4 4.9l-43 14.9l-9.7 4.3l-27 10.6l-14.4 8.5zM1055.5 253.5l3.3 0.8l0-219.4l-159.3 0l1.2 24.9l1.8 9.9l3.6 14.9l10.1 49.7l5.2 9.9l6.4 9.9l6.8 9.1l6.3 5.8l5.9 5l8.5 6.4l9.4 8.5l11.3 9.2l7.8 5.7l7.7 5l5.2 4.9l3.5 5l4.4 5l5.6 4.9l7.2 5l4.4 5l6.7 4.9l9.6 4.3z" clip-path="url(#p21d3d19bf5)" style="fill: #0044ff"/></g><g id="patch_23"><path d="M65.2 432.3l993.6 0l0-88.3l-20.7-6.9l-20.7-4.2l-7.4-4.9l-8.6-5l-9.9-5l-11.8-4.9l-14.1-5l-10.3-4.1l-13.2-5.8l-42-14.9l-27.6-16.6l-20.7-8.3l-20.7 2.8l-15 7.2l-5.7 1.6l-5-1.6l-8.5-5l-7.2-5l-20.7-7.1l-20.7 0.9l-10.4-3.7l-10.3-3l-2.9-6.9l-3.1-5l-2.2-5l-3-4.9l-4.2-5l-5.3-4.2l-6.3-5.7l-3.4-5l-4.3-5l-6.7-5.8l-7.7 5.8l-4.8 5l-3.6 5l-2.3 4.9l-2.3 7.5l-6 12.4l-1.5 5l-2.3 9.9l-4.9 34.8l-4.8 9.9l-1.2 2.3l-8.3 2.7l-6.6 4.9l-2.9 5l-2.9 2.5l-5.5 2.5l-8 4.9l-22.4 10l-5.5 4.9l-20.7 4.2l-20.7 2.2l-20.7 3.8l-41.4 4.3l-19.4-4.5l9.6-5l9.8-6.7l8.4-3.2l6.3-5l6-7.5l5.7-2.4l7.8-5l4-5l3.2-5.3l8.2-4.6l7.1-5l5.4-7l7.4-2.9l7.1-5l3.5-4.9l2.7-6.6l20.7 8.6l20.7 0.5l20.7-4.2l2.4-3.3l2.7-5l3.3-9.9l0.5-5l-1.2-9.9l-2.6-5l-5.1-7.4l-20.7-1.8l-20.7 3.6l-9.6-9.3l-9-9.9l-2.1-1.3l-0.9-3.7l-3.3-9.9l-2.6-5l-4.9-4.9l-9.3-5l-4.5-9.9l-5-14.9l-2.9-5l-4.7-5l-3.3-1.5l-20.7-5.3l-20.7-1.7l-0.9-1.4l-1.3-5l-1.6-9.9l-1.3-5l-3-4.9l-6.9-5l-5.7-3.2l-2.2-6.7l-2.1-10l-1.6-4.9l-3.4-5l-11.5-5l-3.7-4.9l-6.4-5l-10.5-5.6l-2.8-4.3l-1.6-5l-2-5l-345.5 0zM272.2 385.3l-20.7-0.5l-20.7-2.2l-20.7-5.6l-4.4-4.3l-1.9-5l-0.5-5l0-4.9l2.2-10l3.1-9.9l1.5-2.7l2.4-2.3l-2.4-2.4l-0.9-2.5l-1.8-10l-2.7-19.8l0.8-5l4.6-4.6l20.7 9.2l20.7 3.2l41.4 2.5l20.7 2.4l20.7 3.9l10.3 3.3l10.4 2.2l4.9 2.7l15.8 5l20.7 4.5l11.3 5.4l5.8 5l3.6 5l-5.7 4.9l-43.8 14.9l-11.6 5l-25.1 9.9l-17.3 9.7l-20.7-0.7zM1044.4 248.5l14.4 4.4l0-218l-157.7 0l1.5 24.9l3.2 14.9l2.9 9.9l5.2 24.8l4.6 24.9l5.5 9.9l3.1 5l7.5 9.9l10.8 9.9l9.9 7.8l20.7 17.8l12.8 9.2l7.9 5l3.2 4.9l3.9 5l4.8 5l8.8 6.8l2.5 3.1l5 5l7.6 4.9z" clip-path="url(#p21d3d19bf5)" style="fill: #0050ff"/></g><g id="patch_24"><path d="M65.2 432.3l993.6 0l0-85.6l-13.2-3.8l-15.1-5l-13.1-2.9l-6.9-2.1l-13.8-8.2l-13.8-6.7l-6.9-2.8l-3.5-2.1l-17.2-5l-9.6-5l-24.4-9.9l-28.1-9.9l-20.7-12.4l-20.7-8.3l-20.7 1.4l-9.2 4.4l-11.5 3.3l-9.9-3.3l-16-10l-15.5-5.3l-20.7 2.2l-3.9-1.8l-16.8-5.5l-4.1-9.4l-3.3-5l-2.5-5l-3.3-4.9l-4.7-5l-11.1-9.9l-3.7-5l-4.6-5l-4.1-3.6l-4.8 3.6l-5.1 5l-3.9 5l-2.6 4.9l-2 5l-2.3 8.7l-3 6.2l-3.3 9.9l-2.5 10l-2.5 14.9l-2.1 14.9l-4.8 9.9l-2.5 4.5l-1.4 0.5l-9.4 4.9l-4 5l-5.9 5l-9 4.9l-11.1 5l-12.4 5l-6.4 4.9l-23.2 4.9l-20.7 2.4l-20.7 3.8l-41.4 4.5l-6.9-0.7l-13.8-3.1l-0.9-1.8l10.4-5l11.2-7.3l6.9-2.6l6.9-5l6.9-8.4l3.6-1.5l8.7-5l4.3-5l4.1-6.4l6.2-3.5l7.7-5l4.3-4.9l2.5-3.8l3.1-1.2l8.5-5l4.3-4.9l2.5-5l2.3-6.9l20.7 8.1l20.7 2.1l20.7-4.1l2.5-4.2l3.6-9.9l0.4-5l-1.4-9.9l-5.1-8.3l-20.7-2.3l-20.7 3.5l-3.4-2.8l-9.8-10l-7.5-8.1l-1.4-6.8l-3.5-9.9l-2.9-5l-5.3-4.9l-7.6-4l-0.9-1l-4.5-9.9l-5.3-14.9l-3-5l-4.9-5l-2.1-0.9l-20.7-5.2l-20.7-1.7l-1.4-2.1l-1.3-5l-1.7-9.9l-1.5-5l-3.3-4.9l-11.5-7.1l-2.7-7.8l-2.1-10l-1.8-4.9l-3.6-5l-11.2-5l-3.9-4.9l-6.9-5l-9.2-4.8l-3.4-5.1l-1.6-5l-2.2-5l-344.7 0zM292.9 387.9l-20.7-1.3l-20.7-0.7l-25.9-3.3l-15.5-4.1l-5.9-5.8l-1.6-5l-0.3-5l0.1-4.9l3.8-14.9l1.8-5l2.1-3.9l1.2-1.1l-1.2-1.2l-1.3-3.7l-4.8-29.8l0.6-5l4.6-5l0.9-0.5l20.7 9.1l20.7 3.3l41.4 2.6l20.7 2.4l20.7 3.8l12.9 4.2l7.8 1.6l5.9 3.3l14.8 4.7l20.7 4.5l12.2 5.7l6.7 5l1.8 2.5l1.2 2.5l-1.2 3.3l-1.9 1.6l-12.9 5l-5.9 1.4l-25.9 8.5l-36.8 14.9l-9.8 5l-10.3 5.8zM1048.9 248.5l9.9 3l0-216.6l-156.1 0l1.8 24.9l3.5 14.9l3.3 9.9l9.5 49.7l5.7 9.9l3.3 5l4.8 6.3l9.4 8.6l29.4 24.8l12.9 9.9l10.4 6.9l2.9 3.1l3.5 4.9l4.3 5l5.2 5l4.8 3.7l5.1 6.2l5.5 5l8.5 4.9z" clip-path="url(#p21d3d19bf5)" style="fill: #005cff"/></g><g id="patch_25"><path d="M65.2 432.3l993.6 0l0-83.3l-20.7-5.7l-17-5.4l-3.7-0.8l-13.8-4.2l-8.4-4.9l-9.7-5l-9.5-4.2l-9.2-5.7l-18.4-5l-21.6-9.9l-25.9-10l-14.6-4.9l-13.8-8.3l-20.7-8.3l-20.7 0l-3.5 1.7l-17.2 4.9l-14.8-4.9l-16.3-10l-10.3-3.5l-20.7 3.5l-10.4-4.9l-10.3-3.3l-5.3-11.6l-3.6-5l-2.7-5l-3.6-4.9l-15.9-14.9l-3.9-5l-6.4-6.3l-7.3 6.3l-4.2 5l-3 4.9l-2.2 5l-1.6 5l-2.4 9.9l-3.9 9.9l-3 10l-3.1 14.9l-2.2 14.9l-4.7 9.9l-3.8 6.6l-6.7 3.3l-5.2 5l-6.3 5l-2.5 2.5l-4.5 2.4l-24.5 10l-7.3 4.9l-25.8 5.6l-20.7 2.6l-20.7 3.8l-20.7 2.5l-20.7 2.1l-18.3-1.7l-2.4-0.5l-2.1-4.4l10.1-5l12.7-7.9l5.3-2l7.6-5l7.8-9.3l11.2-5.6l4.6-5l4.9-7.6l12.5-7.3l4.6-4.9l3.6-5.4l8.8-4.6l4.9-4.9l3-5l2-5l2-7l10.7 2.1l10 4.9l20.7 4.2l20.7-4.2l3.7-9.9l0.5-5l-0.8-4.9l-0.9-5l-2.5-4.1l-20.7-3l-20.7 3.6l-2.1-1.5l-5.4-4.9l-13.2-14.2l-0.8-5.7l-1.1-5l-3.8-9.9l-3-5l-5.8-4.9l-6.2-3.3l-1.4-1.7l-4.6-9.9l-5.5-14.9l-3.1-5l-5.3-5l-0.8-0.3l-20.7-5.2l-20.7-1.5l-1.8-2.9l-1.4-5l-1.8-9.9l-1.7-5l-3.7-4.9l-10.3-5.9l-3.1-9l-2.2-10l-1.9-4.9l-3.9-5l-10.9-5l-4.2-4.9l-7.2-5l-8-4.1l-4-5.8l-1.7-5l-2.3-5l-343.9 0zM272.2 387.9l-20.7-0.9l-31.1-4.4l-10.3-2.7l-7.5-7.2l-1.2-5l-0.1-5l0.3-4.9l3.9-14.9l1.9-5l2.7-5l-1.7-4.9l-5-29.8l0.3-5l4.1-5l2.3-1.4l20.7 9.1l20.7 3.3l41.4 2.7l20.7 2.4l20.7 3.8l15.5 5l5.2 1.1l6.9 3.8l13.8 4.4l20.7 4.4l13.1 6.1l7.6 5l2.3 5l-1.3 4.9l-1 1l-9.9 4l-10.8 2.6l-23 7.3l-39.1 15.8l-8.3 4.1l-12.4 7l-20.7-0.5zM1053.4 248.5l5.4 1.7l0-215.3l-154.5 0l2 24.9l4 14.9l3.6 9.9l4.1 24.8l5.1 24.9l5.9 9.9l3.4 5l2.2 2.8l2.3 2.1l39.1 33.4l8.1 6.4l12.6 8.7l5.9 6.2l3.8 4.9l4.5 5l6.5 5.6l7.7 9.3l6.1 5l9.2 4.9z" clip-path="url(#p21d3d19bf5)" style="fill: #0064ff"/></g><g id="patch_26"><path d="M65.2 432.3l993.6 0l0-81.4l-20.7-5.5l-41.4-12.5l-8.9-4.9l-11.8-5.7l-4.8-4.3l-10.2-4.9l-19.5-5l-21.2-9.9l-25.8-10l-15.1-4.9l-6.9-4.2l-20.7-8.2l-20.7-1.4l-12.1 3.8l-8.6 1.3l-5.2-1.3l-14.6-4.9l-16.5-10l-5.1-1.7l-10.4 1.7l-8.9 5l-1.4 1.2l-0.7-1.2l-4.5-5l-11.7-4.9l-3.8-1.3l-3.9-8.7l-2.6-4.9l-3.9-5l-2.9-5l-3.9-4.9l-16-14.9l-4.1-5l-4.1-4.1l-4.7 4.1l-4.5 5l-3.3 4.9l-2.5 5l-3.3 9.9l-2.4 11.2l-5.1 13.7l-3.5 14.9l-2.4 14.9l-4.6 9.9l-5.1 8.7l-2.5 1.2l-13.2 10l-5 4.9l-25.6 10l-8.1 4.9l-28.4 6.4l-20.7 2.7l-20.7 3.8l-20.7 2.7l-20.7 2l-20.7-1.7l-1.7-1l-1.6-4.9l9.9-5l14.1-8.5l3.8-1.4l8.2-5l8.7-10.1l10-4.8l4.9-5l5.8-8.7l11-6.2l5-4.9l4.7-6.9l5.9-3.1l5.7-4.9l3.4-5l2.3-5l3.4-11.7l20.7-3.2l0-9.9l-7.3-5l-8.5-9.9l-4.9-5.2l-1.2-9.7l-1.3-5l-3.9-9.9l-3.3-5l-6.2-4.9l-4.8-2.6l-2-2.4l-4.6-9.9l-5.7-14.9l-3.3-5l-5.1-4.7l-20.7-5.1l-20.7-1.5l-2.3-3.6l-1.3-5l-2.1-9.9l-1.8-5l-4.1-4.9l-9.2-5l-3.4-9.9l-2.3-10l-2-4.9l-4.2-5l-8.7-3.8l-2-1.2l-4.3-4.9l-7.7-5l-6.7-3.5l-1.4-1.5l-3.2-4.9l-1.8-5l-2.4-5l-343.1 0zM292.9 390.2l-41.4-2.1l-36.3-5.5l-5.1-1.4l-9-8.5l-0.9-5l0.5-9.9l4.2-14.9l1.9-5l2.7-5l-1.5-4.9l-2.3-14.9l-3-14.9l0.1-5l3.5-5l3.8-2.3l20.7 9l20.7 3.5l41.4 2.7l20.7 2.5l20.7 3.8l20.7 6.2l7.8 4.4l12.9 4.1l20.7 4.3l14.1 6.5l6.6 4.4l0.8 0.6l2.7 5l-0.5 4.9l-3 3l-5 2l-15.7 3.8l-20.7 6.4l-41.4 16.5l-6.2 3.1l-14.5 8.1zM603.4 258.4l20.7-6.2l1.4-3.7l0.4-5l-1.8-9.9l-20.7-3.5l-20.7 3.5l0 9.9l2.3 5l6.5 5zM1057.9 248.5l0.9 0.3l0-213.9l-152.9 0l2.3 24.9l2.7 9.9l5.3 14.9l3.9 24.8l5.3 24.9l6.1 9.9l3.8 5l40.7 34.7l12.6 10l8.1 5.6l8.8 9.3l4.1 4.9l7.8 7.5l5.9 7.4l4.4 5l6.6 5l3.8 2.1l6.1 2.8z" clip-path="url(#p21d3d19bf5)" style="fill: #0070ff"/></g><g id="patch_27"><path d="M65.2 432.3l993.6 0l0-79.5l-20.7-5.4l-29.9-9.5l-18.4-5l-13.8-7l-2.5-2.9l-6.3-5l-11.9-4.9l-20.7-5l-9.2-5l-23.7-9.9l-13.7-5l-15.5-4.9l-20.7-8.3l-10.4-1.7l-10.3-1.1l-3.5 1.1l-17.2 2.5l-10.4-2.5l-14.5-4.9l-16.5-10l-11.9 5l-6.5 5l-2.3 1.2l-3.9-6.2l-6.5-5l-10.3-4.1l-4.9-10.8l-2.8-4.9l-4.2-5l-3.1-5l-4.1-4.9l-16.1-14.9l-6.2-6.8l-6.9 6.8l-3.7 4.9l-2.7 5l-2 5l-3 9.9l-2.4 11.9l-3.3 8l-2.9 9.9l-2 9.9l-1.6 10l-4.6 9.9l-2.6 5l-3.7 5.8l-13.2 9.1l-5.3 4.9l-2.2 1.4l-22.1 8.6l-9 4.9l-31 7.1l-20.7 2.9l-20.7 3.8l-20.7 2.8l-20.7 2.1l-20.7-1.6l-3.9-2.2l-0.6-4.9l9.6-5l9-5l6.6-4l2.3-0.9l8.9-5l9.5-10.7l8.9-4.2l5.1-5l6.7-9.8l9.6-5.1l5.3-4.9l5.8-8.4l3-1.6l6.4-4.9l3.9-5l2.5-5l1.9-4.9l3-11.2l9.5-3.7l4.2-5l-5.5-5l-3.3-4.9l-4.9-6.2l-1.7-13.7l-1.3-5l-4.2-9.9l-3.5-5l-6.6-4.9l-3.4-1.8l-2.6-3.2l-4.6-9.9l-5.9-14.9l-3.5-5l-4.1-3.8l-3.4-1.2l-17.3-4.2l-20.7-1.4l-2.7-4.3l-3.6-14.9l-2-5l-4.5-4.9l-7.9-4.3l-0.5-0.7l-3.4-9.9l-2.4-10l-2.1-4.9l-4.5-5l-7.8-3.4l-2.6-1.6l-4.6-4.9l-8-5l-5.5-2.8l-1.9-2.2l-3.3-4.9l-1.9-5l-2.5-5l-342.3 0zM272.2 390.2l-20.7-1.1l-41.4-6.5l-4.9-5l-5.7-4.9l-0.5-5l0.9-9.9l4.3-14.9l2-5l2.7-5l-1.3-4.9l-2.2-14.9l-3.3-14.9l-0.2-5l3-5l5.2-3.2l20.7 9l20.7 3.4l41.4 2.9l20.7 2.5l20.7 3.9l3.3 1.4l17.4 5l8.8 4.9l11.9 3.8l20.7 4.3l15 6.8l7.3 5l3.1 5l0.3 4.9l-5 5l-20.7 5l-20.7 6.3l-41.4 16.4l-20.7 11.4zM596.5 248.5l6.9 3.7l12.4-3.7l4.1-5l-16.5-9.9l-6 5l-3.2 4.9zM1048 243.5l10.8 3.9l0-212.5l-151.3 0l2.6 24.9l2.9 9.9l3.9 9.9l1.6 5l3.6 24.8l3.2 14.9l2.4 10l3 4.9l3.9 5.7l4.6 4.3l40.9 34.7l6.2 5l10.4 7.5l16.1 17.3l4.6 4.4l4.2 5.6l8.7 9.9l7.8 5.3z" clip-path="url(#p21d3d19bf5)" style="fill: #0078ff"/></g><g id="patch_28"><path d="M65.2 432.3l993.6 0l0-77.8l-20.7-5.2l-35.7-11.4l-19.5-5l-6.9-3.5l-5.5-6.4l-7.3-5l-7.9-3.3l-20.7-5l-5.2-1.6l-9.8-5l-11.5-4.9l-14.9-5.9l-20.7-7l-10.4-2l-10.3-4.2l-3-0.8l-17.7-3.3l-20.7 2.1l-15.6-3.8l-14.5-4.9l-11.3-6.9l-4.5 1.9l-8.2 5l-8 4.3l-7.2-9.3l-8.4-5l-5.1-2l-5.9-12.9l-3-4.9l-4.4-5l-3.4-5l-4-4.5l-11.4-10.4l-9.3-9.4l-4.6 4.5l-4 4.9l-3 5l-2.2 5l-3.3 9.9l-3.6 16.6l-1.5 3.3l-3.2 9.9l-2.2 9.9l-1.7 10l-4.5 9.9l-2.6 5l-5 7.8l-10.6 7.1l-5.7 4.9l-4.4 2.7l-19.2 7.3l-9.3 4.9l-33.6 7.9l-20.7 2.9l-20.7 4l-20.7 2.8l-20.7 2.1l-20.7-1.4l-6-3.4l0.3-4.9l18.8-10l7.6-4.6l10.3-5.3l10.4-11.2l7.7-3.7l5.5-5l7.5-10.6l8.2-4.3l5.6-4.9l3.7-5l3.2-4.9l7.3-5l4.3-5l2.8-5l2-4.9l3-10l1.3-5.6l6.8-4.3l-3.8-5l-3-6l-2.2-18.8l-1.3-5l-4.4-9.9l-3.7-5l-7.1-4.9l-2-1.1l-3.2-3.9l-4.7-9.9l-6.1-14.9l-3.6-5l-3.1-2.9l-5.9-2.1l-14.8-3.6l-20.7-1.3l-3.2-5l-3.7-14.9l-2.2-5l-4.9-4.9l-6.7-3.6l-1-1.4l-3.3-9.9l-2.5-10l-2.2-4.9l-4.8-5l-6.9-3l-3.2-2l-4.8-4.9l-12.7-7.2l-2.5-2.8l-3.3-4.9l-2-5l-2.6-5l-341.5 0zM313.6 393l-62.1-2.9l-41.4-6.8l-12.1-10.6l-0.2-5l1.3-9.9l4.5-14.9l2-5l2.8-5l-1.2-4.9l-0.5-5l-1.7-9.9l-3.6-14.9l-0.4-5l2.5-5l6.6-4l20.7 8.8l20.7 3.5l41.4 3.1l20.7 2.5l20.7 3.9l4.9 2.1l15.8 4.5l9.8 5.4l10.9 3.5l20.7 4.2l16 7.2l7.2 5l3.4 5l1.1 4.9l-0.4 5l-27.3 6.4l-11.3 3.5l-9.4 2.5l-41.4 16.4l-10.3 6zM1051.9 243.5l6.9 2.5l0-211.1l-149.7 0l2.9 24.9l1.9 6.2l3.9 8.7l3 9.9l3.4 24.8l5.8 24.9l4.6 7.1l8.4 7.8l12.3 9.9l28.9 24.8l12.5 9.3l4.7 5.6l16 16.2l6.5 8.7l9 9.9l5.2 3.6l2.6 1.4z" clip-path="url(#p21d3d19bf5)" style="fill: #0084ff"/></g><g id="patch_29"><path d="M65.2 432.3l993.6 0l0-76.2l-20.7-5.1l-41.4-13.1l-20.7-5l-3.5-4.9l-5.1-5l-8.2-5l-3.9-1.6l-20.7-5.2l-10.4-3.1l-10.3-5l-11.5-4.9l-12.9-5l-17-5.8l-20.7-4.1l-17.8-5l-2.9-0.5l-20.7 0.5l-20.7-5l-14.5-4.9l-6.2-3.8l-6.9 3.8l-13.8 6.6l-10.4-11.6l-10.3-5l-6.9-14.9l-3.2-4.9l-4.7-5l-3.6-5l-2.3-2.6l-13.6-12.3l-7.1-7.2l-6.7 7.2l-3.2 5l-2.4 5l-2 4.9l-1.6 5l-3.2 14.9l-6.2 19.9l-2.7 14.9l-4.5 9.9l-2.6 5l-6.3 9.9l-8.1 5l-6 4.9l-6.6 4l-16.6 6l-9.3 4.9l-36.2 8.6l-20.7 3l-20.7 4.1l-20.7 3l-20.7 2l-20.7-1.3l-8.2-4.5l1.2-4.9l7-3.9l12.2-6.1l8.1-4.9l9.8-5l9.2-9.9l2.1-1.9l6.5-3.1l5.8-5l8.4-11.3l6.7-3.6l5.9-4.9l4-5l4.1-6.3l5.1-3.6l4.7-5l3.2-5l2.2-4.9l3.3-10l2.1-9.9l-0.5-9.9l-2.1-19.9l-1.4-5l-4.5-9.9l-4-5l-8.1-5.3l-3.8-4.6l-4.7-9.9l-1.8-5l-4.5-9.9l-3.8-5l-2.1-2l-8.4-3l-12.3-3l-20.7-1.3l-3.6-5.6l-3.9-14.9l-2.3-5l-5.4-4.9l-5.5-3l-1.4-2l-3.4-9.9l-2.5-10l-2.4-4.9l-5-5l-6-2.6l-3.8-2.4l-5-4.9l-11.9-6.6l-3.1-3.4l-3.3-4.9l-2.1-5l-2.7-5l-340.7 0zM292.9 393.2l-41.4-2.3l-41.4-7l-2-1.3l-11.7-9.9l0.2-5l1.6-9.9l4.7-14.9l2.1-5l2.8-5l-1.1-4.9l-0.3-5l-1.7-9.9l-2.4-10l-1.5-4.9l-0.7-5l1.9-5l8.1-4.9l20.7 8.8l20.7 3.4l41.4 3.3l20.7 2.5l20.7 4.1l6.6 2.7l14.1 4l10.8 5.9l9.9 3.1l20.7 4.3l16.9 7.5l7.1 5l3.8 5l1.9 4.9l4.3 5l-20.2 5l-13.8 2.7l-6.9 2.2l-13.8 3.7l-41.4 16.2l-12.5 7.5l-8.2 4zM1055.7 243.5l3.1 1.1l0-209.7l-96.6 0l-3.1 5l-3.8 7.4l-4.2-12.4l-40.4 0l3.2 24.9l2.8 4.9l2.2 5l3 9.9l1.2 5l3.2 24.8l6 24.9l2.3 3.5l12.2 11.4l12.6 9.9l22.9 19.9l14.4 11.1l7.4 8.7l13.3 13.1l8.9 11.8l9.2 9.9l2.6 1.8l6 3.2z" clip-path="url(#p21d3d19bf5)" style="fill: #008cff"/></g><g id="patch_30"><path d="M65.2 432.3l993.6 0l0-74.5l-20.7-5l-45.8-14.9l-16.3-3.9l-2.1-1.1l-3.9-4.9l-5.6-5l-9.1-5l-20.7-5.2l-15.6-4.7l-10.6-5l-11.8-4.9l-24.1-8.7l-20.7-4.5l-10.4-1.7l-10.3-2.8l-20.7-1l-25.9-6.2l-14.5-4.9l-1-0.6l-20.7 9.3l-8-8.7l-5.6-5l-7.1-3.4l-8-16.5l-3.4-4.9l-4.9-5l-4.4-5.7l-10.4-9.2l-10.3-9.9l-4.7 4.9l-3.5 5l-2.6 5l-2.1 4.9l-1.8 5l-3.3 14.9l-2.7 9.9l-3.3 10l-2.8 14.9l-6.9 14.9l-6.3 9.9l-1.4 1.6l-5.6 3.4l-6.3 4.9l-8.4 5l-14.4 5l-9.3 4.9l-38.8 9.4l-20.7 3.1l-20.7 4.2l-20.7 3l-20.7 2.1l-38.2-1.9l7.2-5l2.1-4.9l8.2-4.6l11.3-5.4l8.1-4.9l9.8-5l5-5l4.4-4.9l2.8-2.4l5.4-2.6l6-5l9.3-12.1l5.3-2.8l6.2-4.9l4.1-5l5.1-7.8l3-2.1l5.1-5l3.4-5l2.5-4.9l3.5-10l2.3-9.9l-0.3-9.9l-1.4-14.9l-0.6-5l-1.4-5l-4.8-9.9l-4.1-5l-7.2-4.6l-4.4-5.3l-11.2-24.8l-4-5l-1.1-1.1l-10.8-3.9l-9.9-2.4l-20.7-1.3l-4-6.2l-4.1-14.9l-2.5-5l-5.7-4.9l-4.4-2.4l-1.8-2.6l-3.4-9.9l-2.6-10l-2.5-4.9l-5.3-5l-5.1-2.2l-4.5-2.8l-5.2-4.9l-11-5.9l-3.6-4.1l-3.3-4.9l-2.2-5l-2.9-5l-339.9 0zM313.6 395.2l-41.4-2l-20.7-1.5l-41.4-7.1l-3-2l-12.2-9.9l0.5-5l2-9.9l4.9-14.9l2.1-5l2.8-5l-0.9-4.9l-0.2-5l-1.8-9.9l-2.5-10l-1.6-4.9l-1-5l1.4-5l6.5-4.9l3-1.6l2 1.6l18.7 8l20.7 3.2l41.4 3.5l20.7 2.5l20.7 4.2l8.2 3.4l12.5 3.6l11.8 6.3l8.9 2.8l20.7 4.2l17.8 7.9l7 5l4.2 5l2.7 4.9l8.9 5l-19.9 5l-20.7 4.1l-20.7 5.6l-12.3 5.2l-8.4 2.9l-17.8 7l-2.9 1.4l-14.8 8.6zM1047.4 238.6l11.4 4.7l0-208.4l-89.7 0l-6.5 10l-2.7 4.9l-4.6 10l-3.8-10l-4.5-14.9l-34.7 0l1.6 12.4l2.8 7.5l1.3 5l2.3 4.9l1.7 5l1.4 5l2 9.9l3 24.8l6.2 24.9l10.3 9.9l5.8 5l12.8 9.9l22.8 19.9l10.4 8l5.5 6.9l4.5 4.9l10.7 10l7.2 9.9l8.5 9.9l5 5z" clip-path="url(#p21d3d19bf5)" style="fill: #0098ff"/></g><g id="patch_31"><path d="M65.2 432.3l993.6 0l0-73.3l-6.9-1.2l-13.8-3.3l-20.7-6.7l-29.4-9.9l-12-2.9l-4.2-2.1l-4.2-4.9l-6.3-5l-6-3.3l-25.3-6.6l-16.1-5l-20.7-9l-20.7-7.5l-20.7-4.8l-20.7-3.5l-20.7-2.5l-31.1-7.5l-10.3-3.5l-8.7 3.5l-12 5.8l-10.4-10.7l-6.5-5l-3.8-1.9l-1.9-3.1l-7.1-14.9l-3.6-4.9l-5.2-5l-2.9-3.8l-12.5-11.1l-8.2-7.9l-2.8 2.9l-3.7 5l-2.8 5l-2.3 4.9l-1.8 5l-3.4 14.9l-5.8 19.9l-3 14.9l-6.8 14.9l-6.1 9.9l-2.9 3.1l-3.1 1.9l-6.6 4.9l-8.3 5l-14.1 5l-9.3 4.9l-41.4 10.2l-20.7 3.1l-20.7 4.4l-20.7 3l-20.7 2.1l-20.7-0.7l-20.7 2.8l-20.7 1.6l-20.7 4l-20.7 5.4l-9.1 3.9l-11.6 4l-14.8 5.9l-5.9 2.8l-12.3 7.2l-8.4 3.6l-41.4-2l-20.7-1.6l-41.4-7.3l-4-2.7l-12.8-9.9l2-10l2.8-9.9l3.5-9.9l2.2-5l2.9-5l-0.8-4.9l-0.2-5l-1.7-9.9l-2.7-10l-1.8-4.9l-1.1-5l0.8-5l5-4.9l5.9-3.1l4.1 3.1l16.6 7.1l20.7 3.2l41.4 3.5l20.7 2.6l20.7 4.3l9.9 4.1l10.8 3.1l2.9 1.9l9.9 4.9l7.9 2.5l20.7 4.2l18.8 8.2l6.9 5l4.5 5l3.5 4.9l7.7 4.1l8.2-4.1l3.1-4.9l8.8-5l10.9-5l8.3-4.9l9.8-5l5.1-5l4.5-4.9l3.4-3l4.2-2l6.4-5l10.1-12.8l3.9-2.1l6.5-4.9l4.3-5l3.5-5l2.5-4.3l6.4-5.6l3.7-5l2.7-4.9l3.7-10l2.5-9.9l-0.2-9.9l-1.2-14.9l-0.6-5l-1.4-5l-5-9.9l-4.4-5l-6.2-4l-4.9-5.9l-11.5-24.8l-4.3-5.2l-13.3-4.8l-7.4-1.8l-20.7-1.2l-4.5-6.9l-4.2-14.9l-2.7-5l-6.1-4.9l-3.2-1.8l-2.3-3.2l-3.3-9.9l-2.7-10l-2.6-4.9l-5.7-5l-4.1-1.8l-5.1-3.2l-5.4-4.9l-10.2-5.3l-4.2-4.7l-3.3-4.9l-2.3-5l-3-5l-339.1 0zM1050.7 238.6l8.1 3.3l0-207l-82.8 0l-3.9 5l-6.5 9.9l-5.2 10l-5.1 12.4l-3.5-7.5l-3.4-9.9l-3-9.9l-2.6-10l-28.9 0l3.1 5l2 5l1.4 4.9l1.7 10l1.8 4.9l2.3 10l1.5 9.9l2.7 24.8l4.2 16.6l3.4 8.3l10.6 9.9l12 9.9l7.1 5l16.7 14.9l12.3 9.9l8 10l4.7 4.9l8 7.5l9.4 12.4l8.8 9.9l5.4 5z" clip-path="url(#p21d3d19bf5)" style="fill: #00a0ff"/></g><g id="patch_32"><path d="M65.2 432.3l993.6 0l0-72.2l-13.8-2.3l-6.9-1.7l-54.4-18.2l-7.7-1.8l-6.2-3.2l-4.7-4.9l-6.8-5l-3-1.6l-31.1-8.3l-10.3-3.2l-5.2-1.8l-11.2-5l-12.4-4.9l-14.1-5l-19.2-4.6l-31.1-5.3l-10.3-1.3l-36.3-8.7l-5.1-1.7l-16.2 6.7l-4.5 2.9l-12.7-12.8l-8-5.3l-2.9-4.7l-7.1-14.9l-3.8-4.9l-5.5-5l-1.4-1.9l-9.3-8l-11.4-10.8l-4.8 5.8l-3 5l-4.4 9.9l-3.5 14.9l-6.8 24.8l-1.9 10l-6.7 14.9l-5.9 9.9l-4.4 4.7l-7.5 5.2l-8.3 5l-13.7 5l-9.9 4.9l-40.4 10l-3 1.1l-20.7 3l-20.7 4.6l-20.7 3.1l-20.7 2l-20.7-0.3l-20.7 3l-20.7 1.7l-20.7 3.8l-20.7 5.3l-5.9 2.5l-14.8 5.2l-11.9 4.7l-8.8 4.2l-9.9 5.8l-5 2.4l-5.8 2.2l-41.4-2l-20.7-1.8l-3.1-0.8l-38.3-6.7l-18.3-13.2l3.9-14.9l3.4-10l4.1-9.9l2.9-5l-0.6-4.9l-0.1-5l-1.8-9.9l-2.8-10l-1.9-4.9l-1.4-5l0.2-5l3.5-4.9l8.9-4.7l6.2 4.7l14.5 6.2l20.7 3.1l41.4 3.6l20.7 2.8l20.7 4.3l11.6 4.8l9.1 2.6l3.7 2.4l10.1 4.9l6.9 2.2l20.7 4.1l7.8 3.7l11.9 4.9l6.8 5l4.9 5l4.3 4.9l5.7 3l6-3l4.1-4.9l9-5l11-5l8.4-4.9l9.7-5l5.3-5l4.5-4.9l4.1-3.5l3.1-1.5l6.6-5l11-13.6l2.5-1.3l6.8-4.9l4.4-5l3.6-5l3.4-5.8l4.7-4.1l4-5l2.8-4.9l2.3-5l1.8-5l2.7-9.9l-0.1-9.9l-1.1-14.9l-0.6-5l-1.5-5l-5.2-9.9l-4.6-5l-5.2-3.4l-5.5-6.5l-9.1-19.9l-2.6-4.9l-3.5-4.2l-15.8-5.8l-4.9-1.2l-20.7-1.2l-2-2.5l-2.9-5l-4.4-14.9l-2.9-5l-6.5-4.9l-2-1.1l-2.7-3.9l-3.3-9.9l-2.8-10l-2.7-4.9l-6-5l-3.2-1.4l-5.7-3.6l-5.6-4.9l-9.8-5l-4.4-5l-3.3-4.9l-2.4-5l-3.1-5l-338.3 0zM1054.1 238.6l4.7 1.9l0-205.6l-78.7 0l-2 5l-6.7 9.9l-5.8 10l-10.3 24.8l-3.5-5l-2.5-4.9l-1.8-5l-5.4-19.9l-3.4-14.9l-14.5 0l1.3 10l0.8 14.9l1.1 4.9l1.6 10l3.5 34.7l2.1 8.3l3.1 6.6l3.8 10l16.6 14.9l6.4 4.9l7.3 5l16.4 14.9l8.5 6.8l6.2 8.1l4.4 5l10.1 9.9l11.7 14.9l9 9.9l5.9 5z" clip-path="url(#p21d3d19bf5)" style="fill: #00acff"/></g><g id="patch_33"><path d="M65.2 432.3l993.6 0l0-71l-20.7-3.5l-20.7-7l-7.4-3l-30.6-9.9l-3.4-0.8l-8.3-4.2l-5-4.9l-7.4-5l-41.4-11.3l-10.4-3.6l-11.4-5l-12.7-4.9l-6.9-2.5l-8.9-2.5l-11.8-2.8l-41.4-7.1l-41.4-10l-13 5l-7.7 5l-4.5-5l-10.6-9.9l-5.6-3.8l-3.8-6.2l-4.5-9.9l-2.7-5l-4-4.9l-17.2-14.9l-9.2-8.7l-3.1 3.7l-3.2 5l-2.6 4.9l-2.1 5l-3.5 14.9l-6.8 24.8l-1.9 10l-6.6 14.9l-5.7 9.9l-5.9 6.2l-5.3 3.7l-8.2 5l-13.4 5l-10.4 4.9l-40 10l-5.5 2l-20.7 2.9l-20.7 4.8l-20.7 3.1l-20.7 2.1l-20.7 0l-20.7 3.3l-20.7 1.6l-20.7 3.8l-20.7 5.1l-16 6l-4.7 1.5l-8.9 3.5l-11.8 5.5l-12.2 6.9l-8.5 3.1l-41.4-1.9l-20.7-2l-6.3-1.6l-35.1-6l-19.9-13.9l4.6-14.9l3.6-10l4.2-9.9l2.9-5l-0.4-4.9l0-5l-1.8-9.9l-3-10l-3.7-9.9l-0.3-5l2-4.9l9-5l2.8-1.2l8.2 6.2l12.5 5.3l20.7 3l41.4 3.6l20.7 3l20.7 4.4l13.2 5.5l7.5 2.1l4.4 2.9l10.3 4.9l6 1.9l20.7 4.1l8.5 4l12.2 4.9l6.6 5l10.4 9.9l3.7 2l3.9-2l5-4.9l9.1-5l11.1-5l8.6-4.9l9.6-5l5.4-5l4.7-4.9l4.7-4.1l1.9-0.9l6.9-5l11.9-14.3l8.2-5.5l4.6-5l3.7-5l4.2-7.3l3-2.6l4.3-5l3-4.9l2.4-5l3.5-9.9l1.3-5l0-9.9l-0.9-14.9l-0.6-5l-1.5-5l-5.4-9.9l-4.8-5l-4.3-2.8l-2.2-2.1l-3.9-5l-9.3-19.9l-2.7-4.9l-2.6-3.2l-3.9-1.8l-16.8-5.6l-20.7-1.2l-2.5-3.1l-2.9-5l-2.8-9.9l-1.7-5l-3.1-5l-7.7-5.4l-3.1-4.5l-3.3-9.9l-2.8-10l-2.9-4.9l-6.3-5l-2.3-1l-6.3-4l-5.9-4.9l-9.5-5l-4.3-5l-3.4-4.9l-2.5-5l-3.2-5l-337.5 0zM1057.4 238.6l1.4 0.5l0-204.2l-74.6 0l-0.6 5l-1.3 5l-3.4 4.9l-2.9 1.7l-2.2 3.3l-3 5l-10.4 24.8l-5.1 5l-10.4-5l-1.7-5l-1.2-4.9l-2.3-14.9l-2.3-10l-2.8-14.9l-1.6 5l-1 5l-1.6 14.9l1 9.9l0.9 14.9l2.3 24.8l5.1 10l2 4.9l3.2 10l16.8 14.9l6.6 4.9l7.7 5l10.3 9.9l10.4 8.7l8.6 11.2l4.5 5l9.8 9.9l11.7 14.9l6.8 7.5l8.8 7.4z" clip-path="url(#p21d3d19bf5)" style="fill: #00b8ff"/></g><g id="patch_34"><path d="M65.2 432.3l993.6 0l0-69.8l-20.7-3.3l-20.7-7l-11.1-4.4l-30.3-9.7l-10.4-5.2l-5.4-4.9l-4.9-3.3l-42.6-11.6l-14.4-5l-11.7-5l-14.1-5.3l-16.3-4.6l-4.4-1.1l-20.7-3.5l-20.7-4.1l-41.4-9.9l-9.7 3.7l-8.5 5l-2.5 4.1l-1.8-4.1l-4.5-5l-11.1-9.9l-3.3-2.2l-4.7-7.8l-4.6-9.9l-2.7-5l-4.2-4.9l-4.5-4l-2.3-1l-18.4-16.6l-4.8 6.7l-2.8 4.9l-2.2 5l-10.2 39.7l-2 10l-6.4 14.9l-5.6 9.9l-7.4 7.8l-11.3 7.1l-13.1 5l-10.8 4.9l-20.7 5l-6.2 1.9l-12.7 3.1l-8 2.9l-20.7 3.2l-20.7 4.6l-20.7 3.1l-20.7 2.5l-20.7 0.2l-20.7 3.3l-20.7 1.8l-20.7 3.6l-20.7 4.9l-12 4.6l-8.7 2.7l-6 2.3l-14.7 6.9l-9.5 5.5l-6.1 2.5l-5.1 1.5l-41.4-1.8l-20.7-2.2l-9.4-2.4l-32-5.3l-21.1-14.6l5-14.9l5.7-14.9l2.2-5l3-5l-0.1-9.9l-1.9-9.9l-3.1-10l-4.1-9.9l-0.8-5l0.4-4.9l8.5-5l6.3-2.8l10.3 7.8l10.4 4.4l20.7 2.8l41.4 3.8l20.7 2.8l3.3 1.1l17.4 3.7l14.9 6.2l5.8 1.7l5.1 3.3l10.6 4.9l5 1.6l20.7 4l9.3 4.4l12.1 4.9l6.8 5l11.5 9.9l1.7 0.9l1.7-0.9l6-4.9l9.2-5l11.3-5l18.2-9.9l5.6-5l4.8-4.9l5.3-4.6l8-5.4l12.7-15.1l7.1-4.7l4.7-5l3.8-5l5.1-8.8l5.8-6.1l3.3-4.9l2.5-5l3.7-9.9l1.4-5l0-14.9l-0.6-9.9l-0.6-5l-1.5-5l-5.7-9.9l-5-5l-3.3-2.1l-2.9-2.8l-3.8-5l-9.4-19.9l-2.8-4.9l-1.8-2.2l-6.1-2.8l-14.6-5l-20.7-1.2l-3-3.7l-2.8-5l-2.9-9.9l-1.8-5l-3.3-5l-6.9-4.8l-3.5-5.1l-6.2-19.9l-3.1-4.9l-6.5-5l-8.4-5l-6-4.9l-7.7-3.9l-1.6-1.1l-4.3-5l-3.4-4.9l-2.6-5l-3.3-5l-336.7 0zM1049.9 233.6l8.9 4.1l0-202.8l-70.4 0l0.6 5l1.3 5l3.4 4.9l3 1.7l1.1 8.3l0.3 24.8l-1.4 5l-6.9-5l-2.5-9.9l-2.1-5l-3.3-5l-5.9-4.9l-10.4 24.8l-10.3 9.9l-13 5l-1.8 5l-0.8 4.9l4.3 10l4.4 14.9l10.9 9.9l6 5l14.1 9.9l10.6 9.9l6.7 5.6l3.6 4.4l3.3 4.9l4.1 5l14.2 14.9l11.7 14.9l4.5 5l6.2 4.9z" clip-path="url(#p21d3d19bf5)" style="fill: #00c0ff"/></g><g id="patch_35"><path d="M65.2 432.3l993.6 0l0-68.6l-20.7-3.2l-20.7-6.9l-14.8-5.8l-26.6-8.5l-3.3-1.4l-9.2-5l-5.8-4.9l-2.4-1.7l-20.7-5.8l-10.4-2.5l-17.2-4.9l-13.8-5l-20.7-8.3l-20.7-5.9l-20.7-3.5l-7.8-2.2l-12.9-2.4l-41.4-10l-6.5 2.5l-9.1 5l-5.1 8.3l-3.5-8.3l-4.7-5l-5.4-5l-7.1-5.5l-5.7-9.4l-4.5-9.9l-2.8-5l-4.4-4.9l-3.3-2.9l-4.6-2.1l-16.1-14.5l-3.3 4.6l-2.9 4.9l-2.4 5l-8.9 34.8l-3.2 14.9l-6.4 14.9l-5.5 9.9l-4.3 5l-4.5 4.3l-9 5.6l-12.8 5l-11.4 4.9l-20.7 5l-8.2 2.5l-10.1 2.5l-10.6 3.8l-20.7 3.4l-20.7 4.6l-41.4 5.8l-20.7 0.6l-20.7 3.4l-20.7 1.8l-8.3 1.4l-12.4 2.5l-10.4 2.5l-10.3 1.8l-8 3.1l-12.7 3.8l-3 1.2l-10 5l-7.7 3.4l-6.8 4l-5.7 2.5l-8.2 2.4l-41.4-1.8l-20.7-2.2l-2.3-0.9l-10.2-2.4l-28.9-4.7l-15.6-10.3l-5.1-3.5l-1.3-1.4l1.3-5l9.6-24.8l2.3-5l3.1-5l0.1-9.9l-1.9-9.9l-3.3-10l-4.5-9.9l-2.4-9.9l7.9-5l9.8-4.3l6.3 4.3l6.1 5l8.3 3.5l20.7 2.7l41.4 3.9l20.7 2.7l6.6 2.1l14.1 3l3.9 1.9l12.6 5l4.2 1.2l5.9 3.8l10.8 4.9l4 1.3l20.7 3.9l10.1 4.8l12 4.9l6.9 5l12.4 9.8l6.5-4.8l9.4-5l11.4-5l18.3-9.9l16.5-15.1l7.1-4.8l13.6-15.8l6-4l4.9-5l3.9-5l3.1-4.9l2.8-5.4l4.4-4.6l3.5-4.9l2.6-5l3.9-9.9l1.5-5l0.2-14.9l-0.5-9.9l-0.6-5l-1.6-5l-5.8-9.9l-5.3-5l-2.3-1.5l-3.5-3.4l-3.8-5l-9.5-19.9l-2.9-4.9l-1-1.3l-8.2-3.7l-12.5-4.2l-20.7-1.4l-3.4-4.3l-2.9-5l-2.9-9.9l-1.9-5l-3.4-5l-6.2-4.3l-4-5.6l-6.2-19.9l-3.2-4.9l-6.8-5l-8.1-5l-6.3-4.9l-6.8-3.5l-2.2-1.5l-4.3-5l-3.4-4.9l-2.7-5l-3.4-5l-335.9 0zM1052.8 233.6l6 2.8l0-201.5l-66.3 0l2 5l2.2 3.3l2.3 16.6l0.6 24.8l-2.9 9.9l-13.8-9.9l-2.2-5l-2.9-4.9l-1.8-2.5l-5.2 12.4l-15.5 14.9l-7.4 5l-3 4.9l3.5 10l3.4 14.9l10.8 9.9l6.2 5l14.1 9.9l13.8 12.4l2.3 2.5l3.9 5l3 4.9l18.2 19.9l7.5 9.9l4.2 5l2.3 2.5l9.4 7.4z" clip-path="url(#p21d3d19bf5)" style="fill: #00ccff"/></g><g id="patch_36"><path d="M65.2 432.3l993.6 0l0-67.3l-20.7-3.1l-20.7-6.9l-18.5-7.2l-22.9-7.4l-6-2.5l-8.5-5l-6.2-4.9l-20.7-5.9l-20.7-5.1l-12.7-3.9l-8-2.9l-20.7-8.3l-11.7-3.7l-9-2.5l-20.7-3.6l-14.3-3.9l-6.4-1.2l-41.4-9.9l-3.3 1.2l-9.7 5l-7.7 12l-5.2-12l-4.8-5l-5.6-5l-5.1-4l-0.7-0.9l-5.9-10l-4.5-9.9l-2.9-5l-4.6-4.9l-2.1-1.9l-6.9-3.1l-13.8-12.4l-4.9 7.4l-2.4 5l-6.5 24.8l-5.6 24.9l-6.4 14.9l-5.3 9.9l-4.2 5l-5.1 4.9l-7.8 5l-24.3 9.9l-20.7 5l-10.3 3.1l-7.6 1.9l-13.1 4.8l-20.7 3.5l-20.7 4.5l-13.8 2.1l-6.9 1.4l-20.7 2.7l-20.7 0.8l-20.7 3.6l-20.7 1.8l-22.5 4.6l-18.9 3.4l-4 1.5l-16.7 5l-9.7 5l-11 5l-4.1 2.4l-5.3 2.5l-8.3 2.5l-3 0.6l-41.4-1.6l-20.7-2.3l-4.5-1.7l-11.1-2.4l-25.8-4.2l-17-10.8l-3.7-2.6l-2.3-2.3l1.1-5l8.1-19.9l4.4-9.9l3.1-5l0.4-9.9l-2-9.9l-3.4-10l-9.4-19.8l7.4-5l13.3-5.7l1.4 0.7l7.1 5l6 5l6.2 2.6l20.7 2.5l41.4 3.9l20.7 2.8l10 3.1l10.7 2.2l5.3 2.7l15.4 5.7l6.6 4.3l11.1 4.9l3 1l20.7 3.9l10.8 5.1l12 4.9l18.6 13.9l5.2-3.9l9.6-5l11.5-5l18.4-9.9l5.9-5l4.9-4.9l6.6-5.7l6.2-4.3l4.7-4.9l9.8-11.6l4.9-3.3l5-5l4-5l3.3-4.9l3.5-6.9l3-3.1l3.6-4.9l2.8-5l2.3-5l3.4-9.9l0.5-9.9l-0.5-14.9l-0.6-5l-1.6-5l-6-9.9l-5.5-5l-1.4-0.9l-4.1-4l-3.8-5l-7-14.9l-5.8-10.2l-10.4-4.7l-10.3-3.5l-20.7-1.5l-3.9-4.9l-2.8-5l-3-9.9l-2-5l-3.6-5l-5.4-3.7l-4.4-6.2l-6.3-19.9l-3.3-4.9l-6.7-4.8l-8.2-5.2l-6.5-4.9l-6-3.1l-2.8-1.9l-4.2-5l-3.5-4.9l-2.7-5l-3.6-5l-335.1 0zM1055.8 233.6l3 1.4l0-200.1l-62.1 0l3.4 24.9l1 24.8l-2.4 9.9l-2 5l-20.7-14.9l-25.9 24.8l2.6 10l2.6 14.9l5 4.9l5.6 5l10.1 7.4l4.7 2.5l16.7 14.9l4.6 5l3.5 5l2.7 4.9l4.3 5l9.8 9.9l4.1 5l3.4 5l8.3 9.9l6.6 5l5.9 4.9z" clip-path="url(#p21d3d19bf5)" style="fill: #00d4ff"/></g><g id="patch_37"><path d="M65.2 432.3l993.6 0l0-66.1l-20.7-2.9l-1.9-0.6l-18.8-6.3l-22.3-8.6l-19.1-6.3l-8.8-3.6l-7.8-5l-4.1-3.3l-20.7-6l-23.3-5.6l-18.1-5.8l-23-9.1l-15.9-4.9l-2.5-0.7l-20.7-3.6l-20.7-5.7l-41.4-9.9l-10.4 5l-6.2 9.9l-4.1 5.6l-6.9-15.5l-5-5l-8.8-7.4l-4.9-7.5l-2.7-5l-4.5-9.9l-3-5l-5.6-5.8l-9.2-4.1l-11.5-10.3l-3.5 5.3l-2.6 5l-6.6 24.8l-5.3 24.9l-6.5 14.9l-5.1 9.9l-4.1 5l-4.9 4.9l-2.8 2.3l-4.5 2.7l-24.5 9.9l-20.7 5l-17.5 5l-15.6 6l-20.7 3.5l-20.7 4.3l-6.9 1.1l-13.8 2.7l-20.7 2.9l-20.7 1.1l-20.7 3.6l-20.7 2.1l-20.7 4.1l-20.7 3.3l-20.7 6.7l-20.7 9.9l-6.2 3.3l-7.9 2.5l-6.6 1.3l-20.7-0.5l-20.7-0.9l-20.7-2.4l-6.7-2.5l-12-2.4l-22.7-3.6l-18.3-11.4l-2.4-1.7l-3.2-3.2l0.7-5l10.8-24.8l2.4-5l3.1-5l0.7-9.9l-2.1-9.9l-3.5-10l-8.9-17.2l-0.4-2.6l0.4-2.3l3.9-2.7l16.8-6.9l3.9 1.9l6.9 5l5.7 5l4.2 1.7l41.4 4.5l20.7 1.7l20.7 2.8l13.3 4.2l7.4 1.5l6.7 3.4l14 5.2l7.4 4.8l11.3 4.9l2 0.7l20.7 3.9l11.6 5.4l12 4.9l17.8 13l4-3l9.7-5l11.7-5l18.4-9.9l6-5l5.1-4.9l7.2-6.3l5.4-3.7l4.7-4.9l10.6-12.4l3.8-2.5l5.2-5l4.1-5l3.3-4.9l4.3-8.3l5.4-6.6l3-5l2.3-5l3.6-9.9l0.6-9.9l-0.3-14.9l-0.6-5l-1.6-5l-6.3-9.9l-6.1-5.3l-4.7-4.6l-3.8-5l-7.1-14.9l-5.1-9.1l-12.5-5.8l-8.2-2.8l-20.7-1.5l-4.4-5.6l-2.8-5l-3-9.9l-2.1-5l-3.8-5l-4.6-3.2l-1.6-1.7l-3.2-5l-6.4-19.9l-3.4-4.9l-6.1-4.4l-8.8-5.6l-6.7-4.9l-5.2-2.7l-3.4-2.3l-4.2-5l-3.5-4.9l-2.8-5l-3.7-5l-334.3 0zM1058.8 233.6l0-198.7l-61.1 0l3.6 24.9l1.3 24.8l-2 9.9l-1.5 5l-2.4 5l-20.7-14.9l-20.7 19.8l1.6 10l1.3 14.9l5.2 4.9l5.9 5l6.7 5l9.4 4.9l4.4 5l11 9.9l4.1 5l3.1 5l2.5 4.9l14.3 14.9l3.8 5l3.2 5l6.3 7.4l10 7.5l5.6 4.9z" clip-path="url(#p21d3d19bf5)" style="fill: #00e0fb"/></g><g id="patch_38"><path d="M65.2 432.3l993.6 0l0-64.8l-20.7-2.8l-6.6-2l-14.1-4.9l-26.3-10l-15.1-5.1l-11.5-4.8l-9.2-6.6l-20.7-6.1l-10.4-2.2l-19.4-5l-15.1-4.9l-17.2-7.1l-8.1-2.9l-12.6-3.9l-20.7-3.5l-6.6-2.5l-14.1-3.7l-8.7-1.3l-12-2.9l-5.2-2l-15.5-3.8l-7.8 3.8l-6.2 9.9l-3.6 5l-3.1 3.7l-2-3.7l-6.7-14.9l-5-5l-7-5.9l-2.9-4l-5.6-10l-4.5-9.9l-3.1-5l-4.6-4.7l-11.5-5.2l-9.2-8.3l-4.9 8.3l-6.6 24.8l-5.1 24.9l-6.5 14.9l-5 9.9l-4 5l-4.7 4.9l-4.6 3.6l-2.3 1.4l-11.4 5l-7 2.3l-6.2 2.6l-20.8 5l-17 5l-13 4.9l-5.1 2.4l-20.7 3.4l-41.4 8.3l-20.7 3l-20.7 1.4l-20.7 3.9l-20.7 2.1l-20.7 4.1l-20.7 2.9l-20.7 6.6l-23.8 11.6l-7.4 2.5l-10.2 2l-20.7-0.3l-20.7-1.1l-20.7-2.4l-8.9-3.2l-11.8-2.3l-20.7-3.2l-10.9-6.9l-8.8-5l-5.1-4.9l0.4-5l2.1-5l1.6-2l10.1-22.8l3.2-5l0.9-9.9l-2.1-9.9l-3.7-10l-8.4-14.6l-0.8-5.2l0.8-4.7l0.4-0.3l13.3-5l7-3l6.4 3l6.6 5l5.6 5l2.1 0.9l41.4 4.2l20.7 1.6l20.7 3l16.7 5.2l4 0.8l8.1 4.1l12.6 4.7l8.1 5.3l11.6 4.9l21.7 4.2l12.3 5.8l12 4.9l17.1 12.1l2.8-2.1l9.8-5l11.8-5l18.5-9.9l6.2-5l13-11.8l4.5-3.1l4.9-4.9l11.3-13.1l2.7-1.8l5.3-5l4.2-5l3.4-4.9l5.1-9.8l4.2-5.1l3.1-5l2.5-5l3.7-9.9l0.8-9.9l-0.1-14.9l-0.7-5l-1.6-5l-6.5-9.9l-5.8-5l-5-4.9l-3.6-5l-7.3-14.9l-4.4-7.9l-14.6-7l-6.1-2.1l-20.7-1.5l-4.9-6.3l-2.7-5l-3.1-9.9l-2.2-5l-4-5l-3.8-2.6l-2.1-2.3l-3.2-5l-6.4-19.9l-3.5-4.9l-21.9-14.9l-4.3-2.2l-4-2.8l-4.2-5l-3.5-4.9l-2.9-5l-3.8-5l-333.5 0zM1056.9 228.6l1.9 1.9l0-195.6l-60 0l3.6 24.9l1.7 24.8l-1.5 9.9l-1.1 5l-1.8 5l-3 4.9l-20.7-14.9l-15.6 14.9l0.8 24.9l5.4 4.9l9.4 7.5l7.4 2.5l6.7 4.9l3.1 5l5.9 5l5.1 4.9l3.7 5l2.7 5l2.2 4.9l4.6 5l5.4 5l4.4 4.9l3.7 5l3 5l4.2 4.9l7.1 5l6.2 5z" clip-path="url(#p21d3d19bf5)" style="fill: #02e8f4"/></g><g id="patch_39"><path d="M65.2 432.3l993.6 0l0-63.5l-20.7-2.7l-11.3-3.4l-9.4-3.3l-20.7-8l-23.7-8.5l-11.2-5l-6.5-5l-20.7-6.2l-17.8-3.7l-18.5-5l-14.3-4.9l-11.5-5l-13.8-5l-6.9-2.1l-20.7-3.5l-11.3-4.3l-9.4-2.5l-17.3-2.5l-3.4-0.8l-10.4-4.1l-10.3-2.5l-5.2 2.5l-9.7 14.9l-5.8 6.8l-3.7-6.8l-6.7-14.9l-5.2-5l-5.1-4.3l-4-5.6l-5.4-10l-4.6-9.9l-3.1-5l-3.6-3.7l-4.6-1.2l-9.2-5l-6.9-6.2l-3.7 6.2l-6.7 24.8l-4.8 24.9l-4.3 9.9l-7.2 14.9l-3.7 5l-4.6 4.9l-6.4 5l-10.9 5l-9.8 3.2l-4.2 1.7l-20.7 5l-16.5 5l-12.8 4.9l-7.9 3.7l-20.7 3.5l-20.7 4.4l-20.7 4l-20.7 3.1l-20.7 1.6l-20.7 4.2l-20.7 2l-20.7 4.2l-20.7 2.5l-20.7 6.6l-15.1 7.4l-12.4 5l-12.5 2.5l-22.1 0l-20.7-1.2l-20.7-2.4l-3.1-1.4l-8-2.5l-9.6-1.9l-20.7-3l-11.9-7.5l-9-5l-4.8-4.9l0-5l1.9-5l3.1-4l7.1-15.8l2.4-5l3.2-5l1.2-9.9l-2.2-9.9l-1.7-5l-2.1-5l-7.9-13.1l-1.2-6.7l1.2-5.9l11-4.1l9.7-4.2l8.8 4.2l6.5 5l5.4 5l41.4 4.1l20.7 1.5l20.7 2.8l3.1 1.5l17.6 5.1l9.5 4.8l11.2 4.2l8.8 5.8l11.9 4.9l20.7 3.9l13.1 6.1l11.9 4.9l16.4 11.2l1.6-1.2l10-5l11.9-5l18.5-9.9l6.4-5l13.7-12.4l3.7-2.5l4.9-4.9l12.1-13.9l7.1-6l4.3-5l3.5-4.9l2.8-5l3-6.3l2.9-3.6l3.3-5l2.6-5l3.9-9.9l0.9-9.9l0.1-14.9l-0.7-5l-1.7-5l-6.7-9.9l-5.7-5l-4.9-4.9l-3.6-5l-7.3-14.9l-3.8-6.7l-6.1-3.2l-10.7-5l-3.9-1.3l-20.7-1.6l-5.4-7l-2.7-5l-3.1-9.9l-2.3-5l-4.2-5l-3-2.1l-2.5-2.8l-3.2-5l-6.5-19.9l-3.7-4.9l-22-14.9l-3.5-1.8l-4.6-3.2l-4.1-5l-3.6-4.9l-3-5l-3.8-5l-332.8 0zM1054.8 223.7l4 3.7l0-192.5l-58.9 0l3.7 24.9l1.9 24.8l-0.9 9.9l-1.9 10l-4.2 9.9l-1.8 3.3l-6.9-8.3l-13.8-9.9l-10.4 9.9l-1.5 24.9l5.6 4.9l6.3 5l14.7 5l4.1 4.9l1.9 5l6.6 5l4.4 4.9l3.2 5l2.3 5l1.9 4.9l2.3 2.5l8.1 7.5l4.2 4.9l3.4 5l2.9 5l2.1 2.5l10.7 7.4z" clip-path="url(#p21d3d19bf5)" style="fill: #0cf4eb"/></g><g id="patch_40"><path d="M65.2 432.3l993.6 0l0-62.1l-20.7-2.8l-16-4.7l-25.4-9.9l-27.4-9.9l-10.2-5l-3.8-2.9l-5.2-2.1l-15.5-4.6l-20.7-4.2l-20.7-5.6l-15-5.4l-10.9-5l-15.5-5.3l-20.7-3.6l-16-6l-4.7-1.2l-20.7-2.5l-4.5-1.3l-11.1-4.9l-5.1-1.3l-2.6 1.3l-9.6 14.9l-8.5 9.9l-5.3-9.9l-6.8-14.9l-8.6-7.8l-5.1-7.1l-2.9-5l-6.9-14.9l-3.2-5l-2.6-2.7l-8.5-2.2l-7.6-5l-4.6-4.1l-2.5 4.1l-6.7 24.8l-4.6 24.9l-4.2 9.9l-7.2 14.9l-3.6 5l-4.4 4.9l-6.2 5l-10.2 5l-14.6 4.9l-20.7 5l-15.7 5l-12.9 4.9l-10.7 5l-20.7 3.6l-20.7 4.7l-20.7 4l-20.7 3l-20.7 2.1l-20.7 4.1l-20.7 2.1l-20.7 4.1l-20.7 2.1l-6.8 2.5l-13.9 4.1l-16.8 8.3l-7.1 2.5l-11.8 2.5l-5.7 0.7l-20.7-0.1l-20.7-1.1l-20.7-2.4l-4.7-2.1l-8.6-2.5l-7.4-1.4l-20.7-3.1l-5.3-2.9l-7.6-5l-8.9-5l-4.8-4.9l-0.3-5l1.6-5l4.6-5.9l6.4-13.9l2.5-5l3.2-5l1.5-9.9l-2.2-9.9l-1.8-5l-2.2-5l-7.4-11.6l-0.9-3.3l-0.7-4.9l0.8-5l0.8-1.9l8.3-3.1l12.4-5.3l11.3 5.3l9.4 7.9l10.3 2.1l31.1 3.1l20.7 1.4l20.7 2.7l5.7 2.7l15 4.4l10.9 5.5l9.8 3.7l1.6 1.3l8 5l11.1 4.6l20.7 3.8l13.8 6.5l11.9 4.9l15.7 10.3l10.5-5.3l12.1-5l18.8-10l6.3-4.9l14.4-13l2.8-1.9l5.1-4.9l9-10l3.8-4.6l6.1-5.3l4.5-5l3.5-4.9l2.9-5l3.7-7.8l5.1-7.1l2.7-5l4.1-9.9l1-9.9l0.3-14.9l-0.6-5l-1.8-5l-6.9-9.9l-5.7-5l-4.8-4.9l-3.6-5l-7.4-14.9l-3.1-5.5l-8.3-4.4l-12.4-5.6l-20.7-1.6l-5.8-7.7l-2.7-5l-3.2-9.9l-2.5-5l-4.2-5l-2.3-1.6l-3-3.3l-3.1-5l-6.6-19.9l-3.8-4.9l-30.1-19.9l-4.1-5l-6.7-9.9l-3.9-5l-332 0zM1058.1 223.7l0.7 0.6l0-189.4l-57.8 0l3.7 24.9l2.3 24.8l-1.2 19.9l-0.9 4.9l-1.7 5l-2.2 5l-4.3 6.6l-6.4-6.6l-7.4-10l-6.9-4.9l-5.2 4.9l-2 10l-1.7 14.9l8.9 7.4l17.2 2.5l3.5 2.5l3.4 7.4l1.7 5l5.6 5l3.7 4.9l2.7 5l3.6 9.9l6 5l4.9 5l3.8 4.9l3.3 5l2.7 5l7.6 4.9l6.6 5z" clip-path="url(#p21d3d19bf5)" style="fill: #16ffe1"/></g><g id="patch_41"><path d="M65.2 432.3l993.6 0l0-60.7l-20.7-2.8l-20.7-6.1l-20.7-8.2l-31.1-11.6l-10.3-5.8l-10.4-4.2l-10.3-3.1l-20.7-3.9l-20.7-5.4l-7.8-2.5l-12.9-4.9l-10.4-5l-10.3-3.5l-20.7-3.6l-20.7-7.8l-20.7-1.6l-11.9-3.4l-8.8-4.9l-9.6 14.9l-8.2 9.9l-2.9 1.8l-1.9-1.8l-2.7-5l-9.2-19.8l-6.9-6.2l-3-3.8l-6-9.9l-6.8-14.9l-3.3-5l-1.6-1.6l-12.3-3.3l-8.4-7.1l-1.3 2.1l-6.8 24.8l-4.4 24.9l-3.9 9.9l-7.3 14.9l-3.5 5l-4.2 4.9l-5.9 5l-4.1 2.5l-5.5 2.5l-15.2 4.9l-20.7 5l-14.8 5l-13 4.9l-13.6 6.7l-20.7 3.3l-20.7 4.9l-20.7 4l-20.7 3.5l-20.7 2.1l-20.7 4.1l-20.7 2.1l-20.7 4.1l-20.7 2.1l-8.6 2.9l-12.1 3.4l-12.8 6.5l-7.4 2.5l-11.2 2.5l-10 1.2l-20.7-0.1l-20.7-0.9l-20.7-2.5l-6.3-2.7l-9.3-2.5l-25.8-4.1l-6.2-3.3l-7.6-5l-8.9-5l-4.8-4.9l-0.7-5l1.4-5l3.5-4.9l2.6-2.7l8.3-17.2l3.3-5l1.7-9.9l-0.9-5l-1.4-4.9l-1.8-5l-2.3-5l-6.9-10.1l-1.3-4.8l-0.6-4.9l0.7-5l1.2-2.9l5.6-2.1l11.1-4.9l4-1.4l4.5 1.4l9.3 4.9l6.9 5.8l20.7 4.2l20.7 2l20.7 1.4l20.7 2.5l8.2 4l12.5 3.6l12.3 6.3l8.4 3.2l2.2 1.8l8.1 5l10.4 4.3l20.7 3.8l14.6 6.8l11.9 4.9l14.9 9.6l9.4-4.6l12.2-5l19.8-10.6l5.5-4.3l15.2-13.5l1.9-1.4l5.3-4.9l9.1-10l4.4-5.4l5.2-4.5l4.5-5l3.6-4.9l3-5l4.4-9.3l4-5.6l2.9-5l4.2-9.9l1.2-9.9l0.4-14.9l-0.6-5l-1.8-5l-7.2-9.9l-5.6-5l-4.8-4.9l-3.5-5l-7.4-14.9l-2.5-4.3l-10.5-5.6l-10.2-4.9l-20.7-1.6l-6.3-8.4l-2.7-5l-3.3-9.9l-2.5-5l-9.4-9.9l-3-5l-4.8-14.9l-1.9-5l-3.9-4.9l-30.1-19.9l-4.1-5l-6.8-9.9l-4-5l-331.2 0zM1055.9 218.7l2.9 2.5l0-186.3l-56.7 0l3.8 24.9l2.6 24.8l0.6 24.8l-2.6 10l-2.1 4.9l-3 5l-4.7 5l3.4 4.9l2.5 5l1.8 5l2.6 9.9l4.6 5l3 4.9l6.2 14.9l5.7 5l4.5 5l3.6 4.9l3.5 5.8l4.1 4.2l7.4 4.9zM976 139.2l20.7-4.9l-5.7-5l-4.7-5l-4-4.9l-6.3-10l-3.2 10l-2.8 14.9z" clip-path="url(#p21d3d19bf5)" style="fill: #1cffdb"/></g><g id="patch_42"><path d="M65.2 432.3l993.6 0l0-59.3l-20.7-2.8l-10.2-2.5l-10.5-3.2l-20.7-8.4l-9.9-3.3l-11.8-5l-13.1-4.9l-6.6-3.7l-15.6-6.3l-5.1-1.5l-20.7-3.8l-20.7-5l-14.3-4.6l-6.4-2.4l-5.8-2.5l-9.8-5l-5.1-1.8l-20.7-3.5l-20.7-7.8l-20.7-1.3l-2.6-0.5l-16.7-5l-1.4-0.8l-6.9 10.8l-7.9 9.9l-5.9 3.6l-3.8-3.6l-11.8-24.8l-5.4-5l-3.9-5l-3.1-4.9l-2.7-5l-6.8-14.9l-3.3-5l-0.6-0.6l-16.1-4.3l-4.6-5l-6.9 24.8l-4.2 24.9l-3.8 9.9l-7.3 14.9l-3.4 5l-4.1 4.9l-5.5 5l-6.2 3.7l-2.8 1.3l-17.9 6l-20.7 4.9l-11.9 4l-13.1 4.9l-16.4 8.3l-20.7 3.8l-20.7 4.8l-16.6 3l-4.1 1.1l-20.7 3.5l-20.7 2.4l-20.7 3.8l-20.7 2l-20.7 3.8l-20.7 2.5l-20.7 6.2l-8.8 4.5l-7.4 2.5l-11 2.5l-14.2 1.8l-20.7-0.1l-20.7-1l-20.7-2.5l-7.8-3.2l-10-2.5l-23.6-3.7l-2.9-1.2l-11.9-7.5l-8.8-5l-4.8-4.9l-1-5l1.1-5l3.4-4.9l4.2-4.4l7.7-15.5l3.3-5l2-9.9l-0.9-5l-1.4-4.9l-1.9-5l-2.5-5l-6.7-9.9l-1.3-5l-0.6-4.9l0.7-5l1.6-3.9l13.8-6l6.9-2.3l7.7 2.3l8.5 4.9l4.5 3.8l31 6.2l10.4 1l20.7 1.2l20.7 2.5l10.8 5.2l9.9 2.9l3.4 2.1l10.3 4.9l7 2.7l2.8 2.3l8.2 5l9.7 4l20.7 3.8l15.4 7.1l11.8 4.9l14.2 9.1l8.4-4.1l12.3-5l18.9-9.9l1.8-1.2l4.8-3.8l22.3-19.8l9.3-10l5-6.2l4.2-3.7l4.7-5l3.7-4.9l3-5l5.1-10.8l3-4.1l2.9-5l4.4-9.9l1.3-9.9l0.6-14.9l-0.6-5l-1.9-5l-7.3-9.9l-5.6-5l-4.7-4.9l-3.5-5l-9.3-18.1l-12.8-6.7l-7.9-3.8l-20.7-2l-6.8-9.1l-2.6-5l-3.4-9.9l-2.6-5l-9.3-9.9l-3-5l-4.7-14.9l-2-5l-4-4.9l-30.1-19.9l-4-5l-6.9-9.9l-4.2-5l-330.4 0zM1053.4 213.7l5.4 4.4l0-183.2l-55.6 0l3.8 24.9l3 24.8l1.1 14.9l0.8 5l1.3 4.9l-1.3 10l-1 4.9l-1.5 5l-2.4 5l1.7 4.9l1.3 5l2.2 14.9l3.5 5l1.7 3.3l6.9 16.5l5.2 5l4.2 5l4.4 6.6l3 3.3l5.2 5zM973 134.3l3 2.4l10.3-2.4l-4.7-5l-5.6-7.5z" clip-path="url(#p21d3d19bf5)" style="fill: #26ffd1"/></g><g id="patch_43"><path d="M65.2 432.3l993.6 0l0-58l-20.7-2.7l-15.9-3.9l-4.8-1.5l-9.4-3.5l-11.3-4.9l-14.8-5l-23.7-9.9l-2.9-1.7l-9.8-3.3l-10.9-5l-27.6-4.9l-19.8-5l-14.7-5l-11.5-4.9l-9.2-5l-20.7-3.5l-5.2-1.5l-15.5-6.3l-20.7-0.6l-15.6-3l-5.1-1.6l-4.3 6.6l-7.6 9.9l-8.8 5.3l-5.7-5.3l-6.6-14.9l-5-9.9l-5.1-5l-3.7-5l-5.6-9.9l-6.7-14.9l-3-4.4l-4.6-0.6l-15.4-4.9l-0.7-0.9l-5.8 20.7l-3.9 24.9l-1.7 4.9l-4.1 10l-2.4 4.9l-6.1 10l-3.9 4.9l-5.3 5l-8.2 5l-13.8 4.9l-6.9 2.1l-20.7 4.9l-8.9 3l-13.3 4.9l-19.2 10l-47.6 9.9l-14.5 3.9l-20.7 3.1l-20.7 2.5l-20.7 3.3l-20.7 2.1l-14.7 2.5l-26.7 3.7l-20.7 6.2l-4.8 2.5l-7.4 2.5l-10.7 2.5l-18.5 2.3l-20.7 0l-20.7-1.1l-20.7-2.5l-9.4-3.7l-10.6-2.5l-21.4-3.3l-3.9-1.6l-11.9-7.5l-8.7-5l-4.8-4.9l-1.4-5l1-5l3.2-4.9l5.8-5.9l7.1-14l3.3-5l2.3-9.9l-0.9-5l-1.5-4.9l-2-5l-2.5-5l-5.8-8.3l-0.8-1.6l-1.3-5l-0.6-4.9l0.6-5l2.1-4.9l11-5l9.7-3.3l11 3.3l7.7 4.9l2 1.7l41.4 8.3l20.7 1.1l20.7 2.4l2.4 1.4l11 5l7.3 2.1l4.6 2.9l10.5 4.9l5.6 2.1l3.5 2.9l8.3 5l8.9 3.7l20.7 3.7l16.1 7.5l11.8 4.9l13.5 8.6l7.3-3.6l13.4-5.4l18.2-9.5l2.5-1.8l4.1-3.2l11.5-9.9l10.8-9.9l9.4-10l5.6-7l3.3-2.9l4.7-5l3.8-4.9l3.1-5l5.8-12.3l4.9-7.6l4.6-9.9l1.5-9.9l0.7-14.9l-0.6-5l-1.9-5l-7.5-9.9l-5.6-5l-4.6-4.9l-3.5-5l-8.7-16.9l-20.7-10.7l-20.7-2.3l-7.3-9.8l-2.6-5l-3.4-9.9l-2.7-5l-9.1-9.9l-3-5l-4.7-14.9l-2.1-5l-4.1-4.9l-23.1-15l-7-4.9l-4-5l-7-9.9l-4.2-5l-329.7 0zM1057.2 213.7l1.6 1.3l0-180.1l-54.5 0l3.9 24.9l4.4 34.7l0.9 5l1.4 5l2.5 4.9l0 49.7l10.3 24.8l4.9 5l5.5 7.5l6.9 7.4l5.5 5z" clip-path="url(#p21d3d19bf5)" style="fill: #2cffca"/></g><g id="patch_44"><path d="M65.2 432.3l993.6 0l0-56.6l-20.7-2.7l-20.7-5l-14.2-5.3l-6.5-2.8l-6.9-2.1l-12.9-5l-21.6-9.5l-15.9-5.4l-4.8-2.2l-10.4-2.8l-25.9-4.9l-18.4-5l-13.9-5l-14.2-6.8l-10.4-3.1l-10.3-1.8l-11.7-3.2l-9-4.3l-20.7 0l-20.7-3.1l-5.1 7.4l-3.8 5l-6.9 5l-4.9 2.1l-2.8-2.1l-4.8-5l-6.3-14.9l-5.1-9.9l-4.8-5l-3.5-5l-5.4-9.9l-6.7-14.9l-2-3l-16.1-2l-4.6-1.6l-4.6 16.5l-3.7 24.9l-3.5 9.9l-4.4 9.9l-2.7 5l-7.2 9.9l-5 5l-7.8 5l-2.5 1.2l-10.4 3.7l-10.3 3.2l-20.7 4.8l-18.9 6.9l-10 5l-9.1 5l-3.4 2.7l-20.7 3.7l-16.1 3.5l-25.3 6.6l-62.1 8.3l-20.7 2.1l-41.4 6.1l-14.8 4.2l-14 5l-12.6 3l-15.8 2l-25.6 0.2l-20.7-1l-20.7-2.5l-10.9-4.2l-9.8-2.2l-20.7-3.2l-4.8-2l-20.6-12.5l-4.8-4.9l-1.7-5l0.7-5l3.1-4.9l4.5-5l2.9-2.3l6.5-12.6l3.4-5l2.4-9.9l-0.9-5l-1.4-4.9l-2.1-5l-2.6-5l-5.3-7.4l-1.2-2.5l-1.3-5l-0.6-4.9l0.6-5l2.5-6.1l8.1-3.8l12.6-4.2l14.2 4.2l6.5 4.5l2 0.4l39.4 7.9l41.4 4.4l4.4 2.6l11.6 5l4.7 1.4l5.8 3.6l10.7 4.9l4.2 1.6l4.1 3.4l8.4 5l8.2 3.4l20.7 3.7l16.9 7.8l11.7 4.9l12.8 8.1l6.2-3.1l14.5-5.8l17.4-9.1l3.3-2.3l15-12.6l10.7-9.9l9.6-10l6.1-7.8l7.2-7.1l3.9-4.9l3.1-5l6.5-13.7l4-6.2l4.7-9.9l1.6-9.9l0.9-14.9l-0.6-5l-1.9-5l-7.8-9.9l-5.5-5l-4.5-4.9l-3.4-5l-8.2-15.8l-20.7-10.7l-20.7-2.6l-7.8-10.6l-2.5-5l-3.5-9.9l-2.8-5l-9-9.9l-2.9-5l-4.8-14.9l-2-5l-4.4-4.9l-14.9-10l-8.1-4.9l-7-5l-11.1-14.9l-4.3-5l-328.9 0zM769 364.6l-3-1.9l-2.2-4.9l5.2-4.2l4.1 4.2l0.6 4.9zM1054.6 208.8l4.2 3.1l0-177l-53.4 0l8.2 54.7l1 4.9l1.3 5l1.5 3.7l1.3 6.2l2.1 49.7l10.4 24.8l12.6 14.9l5 5z" clip-path="url(#p21d3d19bf5)" style="fill: #36ffc1"/></g><g id="patch_45"><path d="M65.2 432.3l993.6 0l0-55.2l-20.7-2.6l-9.5-1.8l-11.2-2.8l-6.4-2.2l-14.3-5.8l-13.8-4.1l-6.9-2.8l-4.2-2.2l-16.5-7.4l-8.9-2.5l-11.8-4.4l-20.7-5.6l-24.2-4.9l-17.2-5l-13-5l-7.7-3.7l-20.7-6.2l-18.2-5l-2.5-1.2l-20.7 0l-20.7-2.1l-6 8.3l-5.6 5l-9.1 3.9l-5.1-3.9l-4.3-5l-6.2-14.9l-2.5-5l-2.6-4.9l-4.5-5l-3.3-5l-2.8-4.9l-9-19.9l-1.1-1.7l-20.7-0.8l-3.5 12.4l-3.4 24.9l-3.3 9.9l-4.2 9.9l-2.6 5l-7.3 9.9l-4.7 5l-7.3 5l-5.1 2.5l-6.9 2.4l-13.8 4.2l-20.7 4.8l-15.1 5.9l-10.7 5l-8.7 5l-6.9 5.6l-25.3 4.3l-16.1 3.9l-20.7 5.5l-41.4 5.5l-41.4 4.2l-20.7 2.4l-20.7 3.4l-24.8 7.4l-16.6 3.9l-8.4 1.1l-12.3 0.6l-20.7 0l-20.7-0.9l-20.7-2.5l-12.5-4.7l-8.2-1.9l-20.7-3l-5.8-2.5l-20.5-12.5l-4.8-4.9l-2.1-5l0.5-5l2.9-4.9l4.4-5l4.7-3.7l5.9-11.2l3.4-5l2.7-9.9l-0.9-5l-1.5-4.9l-2.1-5l-2.7-5l-4.8-6.5l-1.6-3.4l-1.3-5l-0.6-4.9l0.6-5l2.9-7.5l5.3-2.4l15.4-5.2l17.4 5.2l3.3 2.2l12.4 2.7l29 5.8l20.7 2.4l10.3 1.8l10.4 1.2l6.5 3.7l14.2 5.6l7 4.4l13.7 6l4.7 3.9l8.6 5l7.4 3.1l20.7 3.7l17.6 8.1l11.8 4.9l12 7.5l5.1-2.5l15.6-6.2l16.6-8.7l6.7-5l11.7-9.9l15.7-14.9l4.7-5l6.7-8.7l6.3-6.2l4-4.9l3.2-5l7.2-15.2l3-4.7l4.9-9.9l1.8-9.9l1-14.9l-0.6-5l-2-5l-7.9-9.9l-5.5-5l-4.5-4.9l-3.3-5l-7.6-14.7l-20.7-10.8l-20.7-2.7l-8.3-11.5l-2.4-5l-3.6-9.9l-2.9-5l-8.9-9.9l-2.9-5l-4.7-14.9l-2.1-5l-4.5-4.9l-14.9-10l-8.3-4.9l-6.8-5l-11.2-14.9l-4.3-5l-328.2 0zM769 366.5l-6-3.8l-4.4-4.9l0-5l10.4-2.5l2.4 2.5l5.8 5l1.2 4.9zM1058.8 208.8l0-173.9l-52.3 0l6.9 44.7l1.9 10l2.1 7.4l2.5 12.4l1.2 14.9l1.4 10l1.8 24.8l10.3 24.8l8.1 10l4.6 4.9l5.3 5z" clip-path="url(#p21d3d19bf5)" style="fill: #3cffba"/></g><g id="patch_46"><path d="M65.2 432.3l993.6 0l0-53.8l-20.7-2.4l-20.7-4.2l-12-4.2l-8.7-3.6l-20.7-6.3l-9.4-5l-11.3-5.4l-16.3-4.5l-4.4-1.7l-31.1-8.3l-10.3-2l-12.1-2.9l-8.6-2.5l-7.4-2.5l-13.3-5.6l-41.4-12.4l-20.7 0l-20.7-1l-3 4.1l-4.5 5l-13.2 6l-7.4-6l-3.9-5l-5.9-14.9l-5.1-9.9l-4.2-5l-3.3-5l-4.9-9.9l-6.7-15.2l-6.9 0.3l-13.8 1.7l-2.3 8.2l-3.3 24.9l-3.1 9.9l-4 9.9l-2.4 5l-7.4 9.9l-4.5 5l-6.7 5l-7.7 3.7l-20.7 6.5l-20.7 4.7l-20.7 9l-10.4 5.9l-10.3 8.7l-8.3 1.2l-12.4 2.5l-41.4 9.7l-20.7 2.7l-82.8 8.3l-20.7 3.3l-10.9 3.3l-31.5 7.5l-19.7 0.9l-20.7 0l-20.7-0.8l-20.7-2.5l-14-5.1l-6.7-1.5l-20.7-3.1l-6.7-2.8l-20.5-12.5l-4.8-4.9l-2.4-5l0.2-5l2.8-4.9l4.2-5l6.5-5.1l5.3-9.8l3.4-5l3-9.9l-0.9-5l-1.5-4.9l-2.2-5l-2.8-5l-4.3-5.6l-2.1-4.3l-1.2-5l-0.6-4.9l0.6-5l3.3-8.8l2.4-1.1l14.1-5l4.2-1.1l7.7 1.1l13 5l22.7 4.9l18.7 3.8l20.7 2.6l20.7 3.6l8.5 4.9l12.2 4.8l8.2 5.2l12.5 5.5l5.4 4.4l8.6 5l6.7 2.8l20.7 3.6l7.3 3.5l22.8 9.9l11.3 7l4.1-2l16.6-6.6l15.9-8.3l6.7-5l11.8-9.9l15.6-14.9l4.8-5l7.3-9.5l5.5-5.4l4-4.9l3.3-5l7.9-16.7l4.8-8.1l2.3-5l1.9-9.9l1.2-14.9l-0.6-5l-2-5l-7.6-9.4l-6-5.5l-4.4-4.9l-3.3-5l-7-13.5l-20.7-10.9l-20.7-2.9l-8.7-12.4l-2.5-5l-3.6-9.9l-3-5l-8.8-9.9l-2.8-5l-4.7-14.9l-2.2-5l-4.6-4.9l-14.9-10l-8.4-4.9l-6.7-5l-11.3-14.9l-4.3-5l-327.5 0zM769 368.1l-8.9-5.4l-11.8-9.1l-0.7-0.8l-1.6-5l2.3-2.4l20.7 2l5.4 5.4l7 5l1.7 4.9l-11.2 5zM1056.5 203.8l2.3 1.9l0-170.8l-51.2 0l6.3 39.8l7.3 34.7l1.7 14.9l2.2 10l2.6 24.8l10.4 24.8l8 10l4.8 4.9z" clip-path="url(#p21d3d19bf5)" style="fill: #46ffb1"/></g><g id="patch_47"><path d="M65.2 432.3l993.6 0l0-52.4l-20.7-2.3l-20.7-3.8l-4.2-1.1l-16.5-6.3l-13.8-3.7l-6.9-2.2l-20.7-10.7l-62.1-16.9l-20.7-4.9l-14.8-5l-5.9-2.5l-20.7-6.2l-6.9-1.2l-13.8-5l-41.4 0l-3.4 5l-7.7 4.9l-9.6 3.9l-9.7-8.8l-3.5-5l-5.6-14.9l-5.1-9.9l-4-5l-3.1-5l-4.8-9.9l-5.6-13.2l-18.4 3.3l-2.3 0.8l-1.2 4.1l-3 24.9l-4.7 14.9l-4.3 9.9l-3.3 5l-8.4 9.9l-6.2 5l-10.3 4.9l-20.7 6.5l-15.3 3.5l-5.4 1.6l-20.7 9.1l-6.9 4.2l-6.3 4.9l-5.5 5l-2 2.5l-62.1 12.4l-74.6 7.5l-28.9 2.5l-20.7 3.3l-15.6 4.1l-5.1 0.8l-17.7 4.2l-3 0.3l-20.7 1l-20.7 0l-20.7-0.8l-20.7-2.5l-7.8-3l-7.8-2.5l-5.1-1.2l-20.7-3l-7.7-3.2l-20.4-12.5l-4.8-4.9l-2.8-5l0-5l2.7-4.9l4.1-5l8.2-6.3l4.7-8.6l3.5-5l3.2-9.9l-0.9-5l-1.6-4.9l-2.2-5l-2.9-5l-3.9-4.9l-2.4-5l-1.1-5l-0.7-4.9l0.6-5l3.7-10.1l13.1-4.8l7.6-2.1l14.2 2.1l6.5 2.5l33.1 7.4l8.3 1.7l20.7 3l20.7 4.1l10.5 6.1l10.2 4l9.5 6l11.2 4.9l6 5l8.7 5l6 2.5l20.7 3.6l8 3.8l22.8 9.9l10.6 6.5l3-1.5l17.7-7l15.1-7.9l6.8-5l11.9-9.9l15.6-14.9l4.8-5l7.9-10.3l4.6-4.6l4.2-4.9l3.4-5l8.5-18.2l3.9-6.6l2.4-5l2.1-9.9l0.6-5l0.7-9.9l-0.6-5l-2-5l-3.9-4.9l-3.2-3.8l-6.7-6.2l-4.3-4.9l-3.3-5l-6.4-12.4l-20.7-11l-20.7-3l-9.2-13.3l-2.4-5l-3.7-9.9l-3.1-5l-8.6-9.9l-2.8-5l-4.8-14.9l-2.2-5l-4.7-4.9l-15-10l-8.5-4.9l-6.5-5l-11.3-14.9l-4.5-5l-326.7 0zM769 369.4l-3.9-1.7l-8-5l-8.8-4.9l-4.2-5l-1.8-5l4.1-4.9l1.9-1.7l5.1 1.7l15.6 2.5l8.5 7.4l8 5l2.3 4.9l-7 5zM1054.5 198.8l4.3 3.8l0-167.7l-50.2 0l5.7 34.8l5.9 29.8l2.3 9.9l2.3 14.9l1.2 5l1.7 5l1.8 14.9l1.7 9.9l6.9 16.6l0.9 3.3l2 4.9l8.4 10z" clip-path="url(#p21d3d19bf5)" style="fill: #4dffaa"/></g><g id="patch_48"><path d="M65.2 432.3l993.6 0l0-51.1l-20.7-1.9l-10.4-1.7l-10.3-1.9l-11.4-3l-9.3-3.7l-20.7-5.7l-20.7-11l-72.5-19.4l-10.3-2.4l-8.7-2.5l-12-4.4l-20.7-6.2l-20.7-3.1l-2.6-1.2l-18.1-2.9l-18.2 2.9l-2.5 1.2l-4.2 3.7l-10.3 5l-6.2 3.7l-2.3-3.7l-9.7-9.9l-3.1-5l-5.3-14.9l-5.1-9.9l-3.8-5l-2.9-5l-2.4-4.9l-6.8-16.2l-6.9 1.3l-13.8 4.9l-2.8 24.9l-2.8 9.9l-3.6 9.9l-2.1 5l-3.1 5l-8.4 9.9l-5.7 5l-9.5 4.9l-3.4 1.4l-20.7 6.3l-9.8 2.3l-10.9 3.3l-20.7 9.5l-3.5 2.1l-6.2 4.9l-5.5 5l-5.5 6.6l-41.4 8.3l-74.6 7.5l-28.9 2.1l-20.7 2l-20.7 3.3l-10.4 2.5l-10.3 1.7l-14.1 3.3l-6.6 0.7l-20.7 0.9l-20.7 0l-20.7-0.8l-20.7-2.4l-9.1-3.4l-8-2.5l-3.6-0.8l-20.7-3l-8.6-3.6l-20.4-12.5l-4.8-4.9l-3.1-5l-0.3-5l2.6-4.9l3.9-5l6-5l4-2.6l4.1-7.3l3.5-5l3.5-9.9l-0.9-5l-1.6-4.9l-2.3-5l-3-5l-3.9-4.9l-2.3-5l-1.1-5l-0.6-4.9l0.5-5l4.1-11.4l9.6-3.5l11.1-3.1l20.7 3.1l20.7 4.4l23 5.5l18.4 2.9l7.3 2.1l13.4 2.6l3.4 2.4l9.1 4.9l8.2 3.2l2.2 1.8l8.5 5l10 4.4l6.6 5.5l8.9 5l5.2 2.2l20.7 3.5l8.7 4.2l22.8 9.9l9.9 6l20.7-8.4l14.3-7.5l6.8-5l12.1-9.9l4.8-5l10.8-9.9l4.8-5l8.5-11.1l3.8-3.8l4.2-4.9l3.5-5l9.2-19.7l3.1-5.1l2.4-5l2.2-9.9l0.7-5l0.8-9.9l-0.6-5l-2.1-5l-3.9-4.9l-2.6-3.1l-7.4-6.9l-4.3-4.9l-3.2-5l-5.8-11.3l-20.7-11l-20.7-3.2l-9.7-14.2l-2.4-5l-3.7-9.9l-3.2-5l-8.5-9.9l-2.7-5l-4.8-14.9l-2.3-5l-5-4.9l-14.8-10l-8.6-4.9l-6.4-5l-10.7-14.1l-5.2-5.8l-326 0l0 259.3l0.6 4l-0.6 9.9zM85.9 324.3l-2.9-1.3l2.9-4.1l3.4 4.1zM769 370.6l-6.8-2.9l-8-5l-9.4-4.9l-4.1-5l-2.1-5l3.1-4.9l6.6-5.8l18.1 5.8l2.6 0.4l11.5 9.5l9.2 5l2 4.9l-2 5zM1058 198.8l0.8 0.7l0-164.6l-49.1 0l5 29.8l5.6 29.8l3.5 14.9l1.6 10l1.2 4.9l1.5 5l2.2 5l2.3 14.9l2 9.9l3.5 8.3l1.5 6.6l1.7 5l2.7 4.9l8.8 10z" clip-path="url(#p21d3d19bf5)" style="fill: #56ffa0"/></g><g id="patch_49"><path d="M65.2 432.3l993.6 0l0-49.7l-20.7-1.6l-20.7-3.4l-18.7-4.9l-2-0.8l-20.7-5.8l-20.7-11.1l-6.9-2.2l-20-5l-55.9-14.9l-41.4-12.4l-20.7 0l-2.6-2.5l-13-4.9l-5.1-0.9l-5.2 0.9l-13 4.9l-2.5 2.5l-20.7 12.4l12.4 5l8.3 2.5l1.8 2.5l12.8 9.9l9.5 5l2.1 4.9l-1.8 5l-3.7 1.7l-20.7 2.5l-9.7-4.2l-11-6.6l-6.9-3.3l-4.2-5l-2.2-5l2-4.9l5-5l6.3-5l-3.5-4.9l-2.5-5l-8.3-9.9l-2.7-5l-3.7-11.6l-6.4-13.2l-3.6-5l-2.7-5l-8-19l-13.8 4.1l-4 5l-2.9 7.5l-1.4 12.4l-1.3 4.9l-2.9 10l-3.8 9.9l-2.9 5l-3.6 4.9l-10 10l-8.6 4.9l-6.9 2.8l-41.4 12.1l-20.7 10l-6.2 4.9l-5.6 5l-8.9 10.8l-20.7 4.1l-74.6 7.5l-49.6 3.6l-20.7 2.2l-20.7 2.9l-5.2 1.2l-15.5 2.5l-10.6 2.5l-10.1 1.1l-20.7 0.9l-20.7 0l-20.7-0.9l-20.7-2.3l-10.3-3.8l-8.4-2.5l-22.7-3.4l-9.6-4l-20.2-12.5l-4.9-4.9l-3.5-5l-0.5-5l2.4-4.9l3.9-5l5.9-5l5.8-3.8l3.5-6.1l3.5-5l3.8-9.9l-0.9-5l-1.7-4.9l-2.3-5l-3.1-5l-3.9-4.9l-2.2-5l-1.1-5l-0.6-4.9l0.4-5l3.4-9.9l1.2-2.7l6.2-2.3l14.5-4l20.7 1.5l20.7 3.7l12.4 3.8l22.1 4.9l6.9 1.1l13.4 3.9l7.3 1.4l5.1 3.6l9.5 4.9l6.1 2.4l3.3 2.6l8.6 5l8.8 3.9l7.3 6l8.9 5l4.5 1.8l20.7 3.6l9.4 4.5l22.9 9.9l9.1 5.4l20.7-8.2l13.6-7.1l7.1-5.1l11.9-9.8l4.7-5l10.8-9.9l4.9-5l7.4-9.9l8.9-9.9l3.6-5l4.9-9.9l5-11.2l4.7-8.7l2.4-9.9l1.3-10l0.3-4.9l-0.6-5l-2.1-5l-4.1-4.9l-1.9-2.3l-8.1-7.7l-4.2-4.9l-3.2-5l-5.2-10.2l-20.7-11.1l-20.7-3.3l-10.2-15.1l-2.3-5l-3.8-9.9l-3.3-5l-8.4-9.9l-2.7-5l-4.7-14.9l-2.4-5l-3.6-3.8l-1.6-1.1l-14.7-10l-8.8-4.9l-6.2-5l-10.1-13.3l-6-6.6l-325.2 0l0 256.7l1.5 6.6l0.1 9.9l-1.6 4.1zM85.9 325.5l-5.8-2.5l-1.8-5l7.6-0.6l2.3 0.6l4.6 5zM1056.1 193.9l2.7 2.5l0-161.5l-48 0l7.7 44.7l2.9 14.9l7 29.8l1.9 5l2.6 5l1.7 9.9l3.5 14.9l1.9 9.9l1.4 5l2.2 5l3.3 4.9z" clip-path="url(#p21d3d19bf5)" style="fill: #60ff97"/></g><g id="patch_50"><path d="M65.2 432.3l993.6 0l0-48l-20.7-1.7l-31.1-5l-31-8.6l-20.7-11.2l-15.6-5l-21.7-5l-55.9-14.9l-31-9.3l-20.7 3.1l-2.9-3.7l-6.2-5l-11.6-3.7l-11.7 3.7l-6.2 5l-2.8 3.7l-10.4 6.2l10.4 4.2l4.2 5.8l6.4 4.9l7 5l10 5l2 4.9l-1.5 5l-7.4 3.3l-15.6 1.7l-5.1 0.3l-1.3-0.3l-11.3-5l-8.1-5l-10.4-4.9l-4.1-5l-2.5-5l1-4.9l4.6-5l6.2-5l-2.6-4.9l-1.9-5l-6.9-9.9l-2.3-5l-3.1-9.9l-6.7-14.9l-3.4-5l-2.5-5l-6.8-16.9l-6.9 2l-6 5l-3.2 5l-2.1 4.9l-1.4 5l-2.3 9.9l-2.8 10l-3.6 9.9l-2.6 5l-3.3 4.9l-4.4 5l-5.4 5l-7.8 4.9l-10.3 4.2l-19.8 5.8l-21.6 7.2l-20.7 10.4l-8.3 7.2l-12.4 14.9l-74.6 7.5l-49.6 3.2l-20.7 1.7l-41.4 5l-20.7 3.3l-7.1 1.7l-13.6 1.5l-20.7 0.8l-20.7 0l-20.7-0.8l-20.7-2.3l-11.5-4.2l-8.7-2.5l-21.2-3l-10.5-4.4l-20.2-12.5l-4.9-4.9l-3.8-5l-0.7-5l2.2-4.9l3.7-5l5.9-5l7.6-5l6.5-9.9l4-9.9l-0.9-5l-1.8-4.9l-2.3-5l-3.2-5l-3.8-4.9l-2.2-5l-1.1-5l-0.6-4.9l0.4-5l3.2-9.9l1.8-4l20.7-6l20.7 0l20.7 3.1l22.5 6.9l18.9 4.1l1.9 0.8l18.8 5.2l6.9 4.8l9.7 4.9l4.1 1.6l4.3 3.4l8.8 5l7.6 3.3l7.9 6.6l9.1 5l3.7 1.5l20.7 3.6l10.1 4.8l22.9 9.9l8.4 4.9l20.7-8.1l12.8-6.7l7.9-5.6l11.3-9.3l4.6-5l10.9-9.9l4.9-5l7.3-9.9l8.9-9.9l3.6-5l4.9-9.9l5.7-12.7l3.9-7.2l2.5-9.9l1.5-10l0.3-4.9l-0.6-5l-2.1-5l-5.5-6.5l-8.8-8.4l-4.1-4.9l-3.1-5l-4.7-9l-20.7-11.2l-20.7-3.5l-10.7-16l-2.3-5l-3.9-9.9l-3.3-5l-8.2-9.9l-2.7-5l-4.7-14.9l-2.5-5l-3.1-3.3l-2.3-1.6l-14.6-10l-8.9-4.9l-6.1-5l-9.5-12.5l-6.7-7.4l-324.5 0l0 254.6l1.2 3.7l1.1 5l0.8 9.9l-0.1 5l-3 3.3zM85.9 326.7l-8.7-3.7l-8.3-5l17-1.4l5.1 1.4l5.2 5zM1054.4 188.9l4.4 4.3l0-158.3l-46.9 0l7.6 44.7l3 14.9l6.2 24.9l1.6 4.9l2.2 5l3 5l2.6 12.4l1.2 12.4l2.3 9.9l1.7 5l2.6 5z" clip-path="url(#p21d3d19bf5)" style="fill: #66ff90"/></g><g id="patch_51"><path d="M65.2 432.3l993.6 0l0-46.4l-20.7-1.6l-41.4-6.7l-20.7-5.7l-20.7-11.4l-6.9-2.7l-13.8-4.2l-27-5.8l-55.8-14.9l-20.7-6.2l-6.9 1.3l-13.8 4.9l-3.2-4.9l-4.4-5l-8-5l-5.1-1.6l-5.2 1.6l-8 5l-4.4 5l-3.1 4.9l2.7 5l3.8 5l6.6 4.9l7.6 5l10.3 5l2.1 4.9l-1.4 5l-11 5l-20.7 1.4l-5-1.4l-10.5-5l-5.2-3.2l-4.4-1.8l-9.4-4.9l-4.2-5l-2.7-5l0-4.9l4.1-5l6.2-5l-1.7-4.9l-1.2-5l-5.6-9.9l-5.3-14.9l-6.1-14.9l-3.1-5l-2.4-5l-4-9.9l-1.6-5l-7.9 5l-4.4 5l-2.6 4.9l-3.3 10l-2.5 6.2l-3.9 13.6l-1.8 5l-2.4 5l-3 4.9l-4 5l-5.6 5l-6.9 4.9l-12.1 5l-16.5 5l-5.9 2.5l-20.7 7l-20.7 11l-4.9 4.3l-12.4 14.9l-3.4 2.1l-53.9 5.4l-49.6 2.9l-27.6 2l-44.9 5l-10.3 0.8l-20.7 3.3l-3.6 0.9l-17.1 1.9l-20.7 0.7l-20.7 0l-20.7-0.8l-18.1-1.8l-2.6-0.4l-12.7-4.6l-8-2.3l-20.7-2.8l-11.5-4.8l-20.1-12.5l-4.9-4.9l-4.2-5l-1-5l2.2-4.9l3.6-5l5.7-5l7.3-4.9l2.2-1.1l5.9-8.9l4.3-9.9l-1-5l-1.7-4.9l-2.4-5l-7.1-9.9l-2.1-5l-1.1-5l-0.6-4.9l0.4-5l3-9.9l2.4-5.2l16.5-4.8l4.2-3.1l20.7-1l20.7 4.1l32 10l9.4 2l6.9 2.9l13.8 3.9l8.6 6.1l12.1 5.7l5.3 4.2l9 5l6.4 2.8l8.6 7.1l9.1 5l3 1.2l20.7 3.5l10.8 5.2l22.9 9.9l7.7 4.5l20.7-8.1l12-6.3l8.7-6.2l10.7-8.7l4.5-5l10.9-9.9l5-5l7.2-9.9l8.8-9.9l3.7-5l4.9-9.9l6.4-14.1l3.1-5.8l2.7-9.9l1.6-10l0.3-4.9l-0.6-5l-2.2-5l-4.9-5.8l-9.5-9.1l-4-4.9l-3.1-5l-4.1-7.9l-20.7-11.2l-20.7-3.7l-11.1-16.9l-6.3-14.9l-3.3-4.9l-4.5-5.1l-3.7-4.9l-2.6-5l-4.8-14.9l-2.5-5l-2.6-2.8l-3-2.1l-14.6-10l-9-4.9l-5.9-5l-8.9-11.7l-3.3-3.2l-4.1-5l-323.8 0l0 252.5l1.9 5.8l1.2 5l0.6 4.9l1 5l2.2 5l13.8 2.8l8 2.1l5.8 5l-13.8 5l-20.7-9.2zM1057.5 188.9l1.3 1.2l0-155.2l-45.8 0l7.5 44.7l4.4 19.9l5.4 19.9l1.8 4.9l2.5 5l3.5 5l2.4 24.8l1.1 5l1.6 4.9l2 5l3 5z" clip-path="url(#p21d3d19bf5)" style="fill: #70ff87"/></g><g id="patch_52"><path d="M65.2 432.3l993.6 0l0-44.7l-20.7-1.7l-6.1-0.8l-14.6-2.5l-20.7-2.5l-10.4-2.5l-10.3-2.8l-20.7-11.5l-13.8-5.5l-6.9-2.1l-37.3-7.9l-55.9-14.9l-10.3-3.1l-10.4 3.1l-10.3 2.1l-3.5-2.1l-3.7-4.9l-5.1-5l-8.4-4.5l-8.5 4.5l-5.1 5l-3.7 4.9l1.5 5l4 5l11.8 8.3l4.9 1.6l8.9 5l2 4.9l-1.1 5l-10 5l-4.7 1.3l-20.7 1.2l-8.8-2.5l-11.9-6.4l-8.7-3.6l-8.6-4.9l-4.3-5l-3.3-5l0-4.9l3.3-5l6-5l-1.4-9.9l-6.3-14.9l-3-9.9l-5.6-14.9l-2.9-5l-2.3-5l-4.3-11.8l-3 1.9l-5.5 5l-3.2 4.9l-5.8 14.9l-3.2 7.5l-3.8 12.4l-2.2 5l-2.7 4.9l-3.6 5l-5.1 5l-6.8 4.9l-11.2 5l-15.9 5l-10.8 4.5l-20.7 7.6l-5.2 2.8l-8.2 4.9l-7.3 3.8l-1.4 1.2l-12.4 14.9l-3.7 2.5l-3.2 1.7l-33.2 3.3l-28.9 2.1l-41.4 1.8l-13.8 1l-48.3 5l-20.7 1.7l-20.7 3.3l-20.7 2.3l-20.7 0.6l-20.7 0l-20.7-0.8l-20.7-2.1l-14-5l-6.7-1.9l-21.5-3.1l-11.7-4.9l-20-12.5l-9.5-9.9l-1.6-5l2.5-4.9l3.4-5l5.7-5l7.1-4.9l4.2-2.1l5.3-7.9l4.6-9.9l-1-5l-1.8-4.9l-2.4-5l-7.2-9.9l-2.1-5l-1-5l-0.6-4.9l0.4-5l2.9-9.9l2.9-6.4l12.4-3.6l8.3-6.2l20.7-2l20.7 2l1.4 1.3l8.9 4.9l31.1 10l11.8 4.9l8.9 2.5l10.3 7.5l10.4 4.9l6.4 5l9.1 5l5.2 2.2l9.2 7.7l9.2 5l2.3 0.9l20.7 3.5l11.5 5.5l9.2 4l2.8 1l10.9 4.9l7 4.1l20.7-8.2l11.2-5.8l6.6-5l2.9-1.7l10-8.2l4.5-5l11-9.9l5-5l7.2-9.9l8.6-9.9l3.8-5l5-9.9l6.6-14.9l2.7-5l2.8-9.9l1.7-10l0.5-4.9l-0.7-5l-2.2-5l-4.4-5.1l-10.2-9.8l-4-4.9l-3-5l-3.5-6.8l-20.7-11.1l-9-2l-11.7-2l-8.7-12.9l-2.9-4.9l-6.3-14.9l-2.8-4.2l-5-5.8l-3.7-4.9l-2.6-5l-4.7-14.9l-2.6-5l-2.1-2.3l-18.2-12.6l-9.1-4.9l-5.8-5l-8.3-11l-4.1-3.9l-4.1-5l-323 0l0 250.4l2.6 7.9l1.3 5l0.9 4.9l1.5 5l4.4 5l10 2l10.9 2.9l6.3 5l-6.9 5l-10.3 1.2l-2.2-1.2l-18.5-7.9zM624.1 392.6l-3.4-2.5l3.4-1.3l15.5 1.3zM1055.8 183.9l3 3.1l0-152.1l-44.7 0l3.3 18.6l3.2 21.2l3 14.9l2.5 9.9l5.8 19.9l2.1 4.9l4.1 6.9l0.9 3.1l2.7 24.8l1.3 5l1.7 4.9l2.4 5l3.4 5z" clip-path="url(#p21d3d19bf5)" style="fill: #77ff80"/></g><g id="patch_53"><path d="M65.2 432.3l993.6 0l0-43.1l-20.7-1.6l-20.7-2.9l-20.7-2.1l-20.7-5l-20.7-11.5l-6.9-3.4l-13.8-4.9l-25.3-5l-22.3-5l-55.9-14.9l-20.7 4.2l-6.9-4.2l-4.3-4.9l-5.8-5l-3.7-2l-3.8 2l-5.8 5l-4.2 4.9l0.3 5l4.1 5l9.4 6.6l9.8 3.3l7.4 5l2.1 4.9l-0.9 5l-9 5l-9.4 2.6l-20.7 1l-12.5-3.6l-8.2-4.6l-13-5.4l-7.7-4.9l-5.4-5l-2.9-5l0-4.9l2.9-5l5.4-5l0-9.9l-1.5-5l-2.2-4.9l-4.1-14.9l-5-14.9l-2.7-5l-5.2-13.7l-4.6 3.8l-3.8 4.9l-2.6 5l-5.7 14.9l-4 8.7l-1.9 6.2l-1.9 5l-2.5 4.9l-3.3 5l-4.5 5l-6.6 4.9l-10.4 5l-15.3 5l-12.3 4.9l-3.4 2l-20.7 8l-7.3 4.9l-13.4 7.5l-10.4 12.4l-3 2.5l-4.4 2.5l-2.9 1.2l-12.5 1.3l-49.6 3.6l-20.7 0.3l-20.7 1l-52.7 5l-30.1 2.5l-15.6 2.5l-24 2.5l-22.5 0.7l-20.7 0l-20.7-0.7l-20.7-2.2l-15.2-5.3l-5.5-1.6l-20.7-2.8l-1.8-0.6l-11.6-4.9l-12.4-7.5l-7.6-5l-8-8.4l-1.9-1.5l-2.2-5l0.6-4.9l3.5-2.1l2-2.9l5.6-5l6.9-4.9l6.2-3l4.8-7l4.8-9.9l-1-5l-1.8-4.9l-2.6-5l-7.1-9.9l-2.1-5l-1-5l-0.6-4.9l0.4-5l2.7-9.9l2-5l1.5-2.6l8.2-2.4l12.5-9.3l5.1-0.6l15.6-3.7l20.7 0.4l2.3 3.3l6.5 5l24.6 9.9l8 2.5l3.1 2.5l13.6 4.9l4 1.1l4.8 3.9l7.2 5l8.7 4.1l7.4 5.8l13.3 6.7l9.8 8.2l9.4 5l1.5 0.6l20.7 3.4l12.2 5.9l8.5 3.7l3.8 1.3l10.6 4.9l6.3 3.7l20.7-8.2l10.5-5.4l6.4-5l3.8-2.2l9.4-7.7l4.4-5l5.1-4.9l6-5l5-5l7.1-9.9l4-5l4.6-4.9l3.8-5l5-9.9l6.6-14.9l2.6-5l3-9.9l1.8-10l0.5-4.9l-0.7-5l-2.2-5l-3.9-4.4l-6.1-5.5l-4.8-5l-3.9-4.9l-5.9-10.7l-20.7-11l-14.3-3.2l-6.4-1.1l-9.2-13.8l-2.9-4.9l-6.3-14.9l-11.5-14.9l-2.5-5l-4.7-14.9l-2.7-5l-1.6-1.8l-4.4-3.1l-14.4-10l-9.3-4.9l-5.6-5l-7.7-10.2l-4.9-4.7l-4-5l-322.3 0l0 248.4l3.3 9.9l2.5 9.9l2.1 5l6.6 5l6.2 1.2l13.8 3.7l6.9 5l0 9.9l-20.7-2.4l-4.4-2.5l-16.3-6.6zM624.1 394.2l-5.8-1.6l-3.2-2.5l6-2.5l3-0.8l20.7 0l2.1 0.8l1.7 2.5l-3.8 1.3zM1058.8 183.9l0-149l-43.6 0l2.2 12.4l3.2 22.4l3 14.9l3.6 14.9l4.5 14.9l1.8 5l2.3 4.9l2.3 3.8l1.9 6.2l2.9 24.8l3.4 9.9l2.7 5l3.8 5z" clip-path="url(#p21d3d19bf5)" style="fill: #80ff77"/></g><g id="patch_54"><path d="M65.2 432.3l993.6 0l0-41.4l-20.7-1.7l-41.4-4.5l-10.4-2.1l-10.3-2.5l-5.2-2.5l-17.6-9.9l-10.6-5l-8-2.8l-41.4-8.1l-62.1-15.5l-20.7 3.3l-10.4-6.7l-4.8-4.9l-5.5-4.4l-5.6 4.4l-4.8 4.9l-0.9 5l4.2 5l7.1 4.9l14.7 5l6 5l1.6 4.9l-0.7 5l-0.9 1.1l-6.6 3.9l-14.1 3.9l-20.7 0.8l-16.3-4.7l-4.4-2.5l-6.9-2.5l-10.4-5l-8.6-4.9l-4.7-5l-2.6-5l0-4.9l2.6-5l4.7-5l0.8-9.9l-0.8-5l-1.5-4.9l-3.3-14.9l-1.4-5l-3-9.9l-2.5-5l-3.8-10.5l-5.2 5.5l-2.9 5l-2.3 5l-5.3 14.9l-2.2 4.9l-2.8 5l-1.7 5l-2.2 4.9l-2.9 5l-3.9 5l-5.9 4.9l-10.2 5l-14.6 5l-13 4.9l-7.7 4.5l-13.8 5.5l-23.9 14.9l-3.7 1.6l-9.4 10.8l-3.5 2.5l-5.3 2.5l-2.5 0.4l-41.4 2.8l-20.7 1.7l-20.7 0l-20.7 1.1l-82.8 7.2l-10.4 1.7l-25.4 2.5l-26.3 1l-20.7 0l-20.7-0.8l-20.7-2.1l-20.7-6.8l-20.7-2.8l-2.9-1l-11.5-4.9l-12.4-7.5l-7.5-5l-7.1-7.4l-3.3-2.5l-2.7-5l-1.8-4.9l7.8-4.6l5.7-5.4l6.7-4.9l8.3-4l4.2-6l2.8-4.9l2.3-5l-1-5l-1.9-4.9l-2.6-5l-7.2-9.9l-2-5l-1-5l-0.5-4.9l0.3-5l2.6-9.9l1.8-5l2.2-3.8l4.1-1.2l13.2-9.9l3.4-3.3l6.9-1.7l8.6-4.9l5.2-5l20.7 0l1.4 5l2.2 4.9l4.4 5l8.2 5l11.4 4.9l13.8 5l6.2 5l14.5 4.7l6.5 5.2l7.3 5l6.9 3.3l8.4 6.6l12.3 6.2l10.5 8.7l10.2 5.3l20.7 3.4l20.7 9.6l4.7 1.6l10.5 4.9l5.5 3.2l20.7-8.1l9.7-5l6.3-5l4.7-2.7l8.8-7.2l4.3-5l5-4.9l6.1-5l5.1-5l7-9.9l12.4-14.9l5-9.9l9.1-19.9l3.1-9.9l2-10l0.5-4.9l-0.6-5l-2.4-5l-3.3-3.8l-6.9-6.1l-4.8-5l-3.7-4.9l-5.3-9.5l-20.7-11l-20.7-4.6l-3.4-4.7l-9.2-14.9l-3.9-10l-2.4-4.9l-7.9-10l-3.5-4.9l-2.5-5l-4.8-14.9l-2.7-5l-1.1-1.2l-5.1-3.7l-14.3-10l-9.4-4.9l-5.5-5l-7.1-9.4l-5.7-5.5l-4-5l-321.5 0l0 247.1l4 11.2l2.9 9.9l2.6 5l8.9 5l18.9 4.9l4.1 2.9l4.7 2.1l1.7 5l3.9 4.9l-10.3 0.5l-10.4-0.5l-10.3-1.2l-6.5-3.7l-14.2-5.2zM148 350.3l-0.9-2.5l0.9-2.4l3.3 2.4zM624.1 395.9l-11.6-3.3l-3-2.5l4.2-2.5l10.4-2.9l20.7-2.1l20.7 0l-8 2.5l0 2.5l-4.1 2.5l-8.6 2.8l-16.9 2.1zM1055.1 179l3.7 3l0-147.1l-42.5 0l4.3 29.8l2.9 14.9l3.5 14.9l2.9 10l3.3 9.9l1.9 5l3 5.5l2.9 9.4l3.1 24.8l1.7 5l2.1 4.9l3 5z" clip-path="url(#p21d3d19bf5)" style="fill: #87ff70"/></g><g id="patch_55"><path d="M65.2 432.3l993.6 0l0-39.7l-30.1-2.5l-32-3.3l-9.8-1.7l-10.9-2.5l-10.4-5l-17.2-9.9l-13.8-5.8l-20.7-4.1l-27.6-5l-34.5-8.8l-20.7-4.4l-20.7 2.7l-6-4.4l-7.8-5l-6.9-6.2l-6.9 6.2l-2.1 5l4.3 5l4.7 3.3l11.5 1.6l9.2 5.8l3.4 4.2l0.8 4.9l-0.9 5l-3.3 3.9l-1.9 1.1l-18.8 5.2l-20.7 0.6l-4.9-0.9l-15.1-4.9l-13.4-5l-18.4-9.9l-4-5l-2.2-5l0-4.9l2.2-5l4-5l1.7-9.9l-0.2-5l-3.2-19.8l-1.2-5l-2.7-9.9l-2.3-5l-2.4-7.1l-2 2.1l-3.2 5l-2.6 5l-6.5 19.8l-2.3 5l-3.1 5l-1 1.2l-4 8.7l-3.4 5l-5.1 4.9l-10 5l-27.6 9.9l-12 7.2l-6.9 2.8l-8.3 4.9l-7 5l-6.1 5l-9.7 4.9l-3.4 0.9l-5.3 6.6l-2.6 2.5l-4.1 2.5l-8.7 1.7l-41.4 2.6l-20.7 2l-20.7-0.3l-20.7 1l-82.8 7l-5.2 0.9l-26.8 2.5l-9.4 0.7l-20.7 0.6l-20.7 0l-20.7-0.8l-20.7-2.1l-20.7-6.8l-20.7-2.8l-4-1.3l-11.3-4.9l-12.6-7.5l-7.3-5l-6.2-6.4l-4.6-3.5l-3.3-5l-4.2-4.9l-8.6-4.2l-2.4-5.8l1.3-4.9l1.1-1.3l8.8 6.2l11.9 3.6l3.9-3.6l6.5-4.9l10.3-5l3.6-5l3-4.9l2.4-5l-1-5l-1.9-4.9l-2.7-5l-7.3-9.9l-1.9-5l-1-5l-0.5-4.9l0.3-5l2.4-9.9l1.7-5l2.9-5l13.2-9.9l5-5l2.5-3.7l2.5-1.2l7.8-5l10.4-3.1l20.7 0l2.9 3.1l2.1 5l3.1 4.9l5.7 5l9.3 5l11.4 4.9l6.9 2.5l2.3 2.5l7.1 5l11.3 3.7l15.5 11.2l5.2 2.5l9.5 7.4l11.2 5.6l11.1 9.3l9.6 5l20.7 3.4l3.9 1.5l9.7 5l7.1 3.1l5.7 1.9l10.2 4.9l4.8 2.8l20.7-8.1l8.9-4.6l6.3-5l5.5-3.2l8.2-6.7l4.2-5l4.9-4.9l3.4-2.4l8-7.6l10.8-14.9l4.6-4.9l3.9-5l5.1-9.9l8.9-19.9l3.3-9.9l2-10l0.6-4.9l-0.6-5l-2.4-5l-2.8-3.2l-2.4-1.7l-10-10l-3.6-4.9l-4.7-8.4l-20.7-11l-20.7-4.8l-4.1-5.6l-9-14.9l-3.9-10l-2.4-4.9l-7.9-10l-3.5-4.9l-2.4-5l-4.8-14.9l-2.7-5l-6.5-4.9l-14.3-10l-9.5-4.9l-5.3-5l-6.5-8.7l-6.5-6.2l-3.9-5l-320.8 0l0 245.9l4.7 12.4l3.3 9.9l3.1 5l9.6 4.7l19.5 5.2l1.2 0.9l9.4 4.1l3.5 5l7.8 4.9l-20.7 1l-20.7-1l-8.7-4.9l-12-4.4zM624.1 397.5l-10.6-2.5l-6.8-2.4l-2.8-2.5l2.4-2.5l4.7-2.5l13.1-2.5l20.7-2.1l20.7-0.6l6.9 2.7l-3.4 2.5l-2.3 2.5l-18.2 5l-3.7 1.3l-9.1 1.1zM1057.4 179l1.4 1.1l0-145.2l-41.4 0l3.3 24.9l3.8 19.8l3.7 14.9l3 10l3.4 9.9l3.5 7.4l3.9 12.5l3.4 24.8l1.8 5l2.3 4.9l3.2 5z" clip-path="url(#p21d3d19bf5)" style="fill: #90ff66"/></g><g id="patch_56"><path d="M65.2 432.3l993.6 0l0-38.1l-41.4-3.3l-20.7-2.1l-8.9-1.2l-11.8-2.2l-6.9-2.8l-25.6-14.9l-8.9-3.7l-20.7-4.1l-20.7-3.3l-18.4-3.8l-23-6.1l-20.7-3.8l-18.3 4.9l4.5 10l0 4.9l-1.3 5l-4.1 5l-1.5 1.1l-13 3.8l-7.7 1.5l-20.7 0.4l-11-1.9l-9.7-3.3l-6.9-1.6l-22.7-10l-6.7-4.9l-3.3-5l-1.8-5l0-4.9l1.8-5l3.3-5l2.6-9.9l0.4-5l-0.4-9.9l-1.3-9.9l-3.3-14.9l-3.1-8.3l-5.2 8.3l-5.5 19.8l-3.5 10l-3.4 4.9l-3.1 2.5l-4 7.5l-4.3 4.9l-8.6 5l-13.6 5l-10.9 3.3l-4.4 1.6l-24.6 14.9l-6.5 5l-4.1 5l-1.8 4.9l20.7 2.3l41.4-2.8l2.3 0.5l11.5 5l-4.6 2.5l-3.2 2.5l-8.4 2.5l-11.8 2.5l-6.5 2.3l-20.7 3l-5.2-0.4l-12.5-2.5l-13.4-4.9l0-5l-10.3-2.5l-1.3 2.5l-1.7 2.5l-2.7 2.5l-12.1 2.5l-2.9 0.3l-41.4 2.7l-20.7 2.1l-20.7-0.6l-20.7 0.9l-41.4 3.2l-69.7 6.3l-13.1 0.9l-20.7 0.7l-20.7 0l-20.7-0.8l-20.7-2.1l-20.7-6.7l-20.7-2.8l-5-1.7l-11.3-4.9l-12.6-7.5l-7.2-5l-5.3-5.3l-6-4.6l-3.8-5l-6.6-4.9l-4.3-2.1l-3.9-7.9l0.2-4.9l3.7-4.4l5.2 4.4l9.1 4.9l6.4 2l8.4-6.9l9.6-5l2.7-0.8l3.1-4.2l3.1-4.9l2.4-5l-0.9-5l-2-4.9l-2.7-5l-7.3-9.9l-1.9-5l-1-5l-0.5-4.9l0.2-5l2.3-9.9l1.6-5l2.7-5l0.9-3.1l9.1-6.8l4.9-5l6.7-9.9l20.7-6.2l20.7 0l5.9 6.2l2.6 5l4.1 4.9l6.9 5l9.7 5l12.2 4.9l4.6 5l7.9 5l8.2 2.7l17.2 12.2l3.5 1.6l3.8 3.3l6.7 5l10.2 5.1l6.2 4.8l5.5 5l9 4.6l20.7 3.4l4.7 1.9l9.6 5l6.4 2.8l6.6 2.2l10 4.9l4.1 2.4l20.7-8.1l8.2-4.2l6.1-5l6.4-3.7l7.6-6.2l4.1-5l4.8-4.9l4.2-2.9l7.4-7.1l10.6-14.9l8.6-9.9l5.1-9.9l8.9-19.9l3.3-9.9l2.2-10l0.6-4.9l-0.6-5l-2.4-5l-2.3-2.6l-3.3-2.3l-9.8-10l-3.6-4.9l-4-7.3l-20.7-10.9l-5.9-1.7l-14.8-3.4l-4.7-6.5l-8.8-14.9l-4-10l-2.4-4.9l-4.2-5l-7.2-9.9l-2.4-5l-4.7-14.9l-2.8-5l-20.9-14.9l-9.6-4.9l-5.2-5l-5.9-8l-2.4-1.9l-4.9-5l-3.8-5l-320.1 0l0 244.6l1.7 3.8l7.4 19.8l3.6 5l8 3.9l5.1 1.1l18.5 4.9l11.2 5l5.3 5l8.2 4.9l-6.9 1.4l-20.7 0.1l-20.7-1l-1.8-0.5l-9-4.9l-9.9-3.6zM787.3 342.9l2.4 1.6l11.5-1.6l-0.5-5l-7.6-5l-3.4-3.1l-3.5 3.1l-3.3 5zM1054.6 174l4.2 4.2l0-143.3l-40.5 0l4.1 29.8l1.9 10l3.6 14.9l4.5 14.9l3.6 9.9l2.3 5l4.7 14.9l3.6 24.8l1.9 5l2.6 4.9z" clip-path="url(#p21d3d19bf5)" style="fill: #97ff60"/></g><g id="patch_57"><path d="M65.2 432.3l993.6 0l0-36.4l-41.4-2.9l-28.3-2.9l-13.1-2l-9.5-3l-4.3-2.5l-13.8-9.9l-9.7-5l-4.1-1.7l-20.7-4.1l-27.6-4.1l-13.8-2.8l-20.7-5.5l-20.7-3.3l-6.1 1.6l-4.3 5l0 5l-0.8 4.9l-1.5 5l-4 5l-4 3l-6.5 1.9l-14.2 2.7l-20.7 0.2l-17.1-2.9l-3.6-1.2l-15.6-3.7l-5.1-2.5l-6.9-2.5l-9.4-5l-4.4-4.9l-3.5-5l-2-5l-1-4.9l0.8-5l5.7-5l3.4-9.9l1-5l0.4-4.9l0.3-5l-0.8-9.9l-2.7-14.9l-1.6-4.2l-2.6 4.2l-2.6 9.9l-3.1 14.9l-1.3 9.9l-2.3 5l-8.8 3.7l-4.2 6.2l-6.2 5l-14.7 5l-16.3 4.9l-8.1 5l-7.5 5l-12.5 9.9l-2 5l9.4 4.1l20.7-0.6l20.7-1.9l13.8 3.3l6.9 5l-5.8 2.5l-4 2.5l-9.5 2.5l-12.7 2.5l-9.4 2.8l-20.7 2.9l-10.4-0.8l-14.2-2.5l-16.8-4.7l-8.9 2.3l-11.8 1.3l-41.4 2.9l-20.7 1.8l-20.7-0.6l-20.7 0.8l-124.2 9.9l-20.7 0.7l-20.7 0l-20.7-0.8l-20.7-2.1l-20.7-6.7l-20.7-2.8l-6.1-2l-11.1-4.9l-12.7-7.5l-7.1-5l-4.4-4.4l-7.3-5.5l-4.3-5l-9.1-4.9l-5.4-10l-1.5-9.9l-13.8-2.2l-41.4-1.9l-3.5-0.9l-9.5-4.9l-7.7-2.8zM167.8 347.8l0.9 0.3l6.4-5.2l9.1-5l5.2-1.6l5.7-8.3l2.6-5l-0.9-5l-2-4.9l-2.8-5l-4-5l-3.4-4.9l-1.8-5l-1-5l-0.5-4.9l0.2-5l2.2-9.9l1.5-5l2.4-5l1.8-6.2l4.9-3.7l5-5l6.6-9.9l4.2-2.8l20.7-6.5l20.7 0l8.8 9.3l3.3 5l5 4.9l7.9 5l10.3 5l6.1 2.5l6.9 7.4l8.7 5l5.1 1.6l5 3.3l6.7 5l7.2 5l1.8 0.8l4.7 4.1l6.9 5l9.7 5l6.3 4.9l5.5 5l8.3 4.3l20.7 3.4l5.6 2.2l9.4 5l5.7 2.5l7.6 2.5l13.1 6.9l17.1-6.9l3.6-1.2l7.4-3.8l6-5l7.3-4.2l7-5.7l4-5l4.7-4.9l5-3.5l6.8-6.5l10.5-14.9l8.6-9.9l5.2-9.9l8.7-19.9l3.4-9.9l2.4-10l0.6-4.9l-0.6-5l-2.5-5l-1.7-2l-4.1-2.9l-9.7-10l-3.5-4.9l-3.4-6.2l-20.7-10.8l-9.8-2.9l-10.9-2.5l-5.3-7.4l-6.1-10l-2.6-4.9l-3.9-10l-2.5-4.9l-4.4-5l-7-9.9l-2.3-5l-4.8-14.9l-2.5-4.5l-20.7-15l-10.4-5.3l-5-5l-5.3-7.3l-3.3-2.6l-4.8-5l-3.8-5l-319.3 0l0 243.4l2.3 5l1.7 4.9l6.2 14.9l4.1 5l6.4 3.1l8.8 1.9l11.9 3.3l7.8 1.6l11 5l6.2 5l9.5 4.9l6.9 2.8l2.3 2.2l6.6 5zM789.7 342.9l7.4-5l-7.4-5l-4.5 5zM1056.5 174l2.3 2.3l0-141.4l-39.6 0l3.1 24.9l3 14.9l3.7 14.9l4.6 14.9l5.9 14.9l3.2 9.9l1.3 5l3.8 24.8l2.1 5l2.8 4.9z" clip-path="url(#p21d3d19bf5)" style="fill: #a0ff56"/></g><g id="patch_58"><path d="M65.2 432.3l993.6 0l0-34.8l-20.7-1.6l-20.7-0.9l-46.6-4.9l-8.6-2.5l-4.4-2.5l-2.5-2.5l-3.5-5l-7.5-4.9l-9.7-4.7l-20.7-4.1l-20.7-2.6l-20.7-3.5l-20.7-5.5l-20.7-2.5l-4.6 3l-2.3 5l-3.5 9.9l-3.8 5l-6.5 4.9l-20.7 3.8l-20.7 0.2l-25.9-4l-15.5-3.7l-6.9-1.2l-11.5-5l-6.9-5l-4.6-9.9l-1.7-5l-4.2-9.9l-5.6-5l-3.9 5l-13.9 5l-2.9 0.4l-14.3 4.5l-6.4 2.8l-3.6 2.2l-6.8 5l-4.4 4.9l-5.9 5l0 5l20.7 1l20.7-2.1l13.8 1.1l6.9 1.6l3.7 3.3l1.4 5l-10 5l-24.3 5l-12.2 3.3l-20.7 2.9l-15.6-1.3l-15.7-2.5l-10.1-2.4l-20.7 2.3l-62.1 4.6l-20.7-0.7l-20.7 0.8l-20.7 1.2l-48.3 4.2l-55.2 4l-20.7 0.6l-20.7 0l-20.7-0.7l-20.7-2.1l-20.7-6.6l-20.7-2.8l-7.2-2.4l-11-4.9l-12.7-7.5l-7-5l-3.5-3.5l-8.6-6.4l-4.9-5l-7.2-3.9l-3.5-6l-3.3-5l-2-4.9l-6.8-5l-5.1-0.8l-20.7-1.8l-20.7-1.1l-5.2-1.3l-9.9-4.9l-5.6-2zM160.6 342.9l8.1 3.6l4.3-3.6l8.7-5l7.7-2.3l5.3-7.6l2.7-5l-1-5l-2-4.9l-2.8-5l-2.2-3l-2-2l-3.3-4.9l-1.8-5l-0.9-5l-0.5-4.9l0.2-5l2-9.9l1.4-5l2.3-5l2.6-9.3l5.8-5.6l6.6-9.9l8.3-5.5l20.7-6.9l20.7 0l7.5 7.4l8.2 10l5 4.3l9.8 5.6l10.9 5l4.1 4.9l5.1 5l9.6 5l1.9 0.6l6.5 4.3l14.2 10l5.7 4.9l6.9 5l9.5 5l6.2 4.9l5.4 5l7.7 4l20.7 3.3l6.4 2.6l9.3 5l5 2.2l8.5 2.8l12.2 6.5l15.8-6.5l4.9-1.6l6.6-3.4l5.9-5l8.2-4.8l6.4-5.1l3.9-5l4.6-4.9l5.8-4.1l6.2-5.9l10.3-14.9l8.7-9.9l5.2-9.9l8.6-19.9l3.6-9.9l2.4-10l0.7-4.9l-0.6-5l-2.5-5l-1.2-1.4l-5-3.5l-9.5-10l-3.4-4.9l-2.8-5l-20.7-10.8l-13.8-4.1l-6.9-1.6l-6-8.3l-5.9-10l-2.6-4.9l-3.9-10l-2.3-4.6l-4.7-5.3l-6.8-9.9l-2.3-5l-4.8-14.9l-2.1-3.8l-1.2-1.2l-19.5-14l-11.1-5.8l-4.9-5l-4.7-6.5l-4.2-3.4l-4.7-5l-3.7-5l-318.6 0l0 242.2l11.3 26l4.6 5l4.8 2.3l33.5 7.6l10.6 5l7.1 5l10.9 4.9l5.3 5zM787.4 337.9l2.3 2.5l3.7-2.5l-3.7-2.5zM705.3 318l1.6 2.5l1.8-7.4l0.7-5l-0.4-9.9l-2.1-14.9l-3.2 14.9l-1 9.9l0.9 5zM1058.4 174l0.4 0.4l0-139.5l-38.6 0l3 24.9l3 14.9l3.9 14.9l3 9.9l7.6 19.9l3 9.9l1.3 5l4 24.8l2.3 5l3 4.9z" clip-path="url(#p21d3d19bf5)" style="fill: #aaff4d"/></g><g id="patch_59"><path d="M65.2 432.3l993.6 0l0-33.4l-20.7-1.4l-20.7-0.4l-45.6-4.5l-18.1-2.5l-2.2-2.5l-3.1-10l-8.1-4.9l-5.7-2.8l-20.7-4.1l-27.6-3.1l-13.8-2.2l-20.7-5.5l-20.7-1.4l-3.5 4.2l-4.5 9.9l-3.7 5l-6.3 4.9l-2.7 1.7l-20.7 3.3l-20.7 0l-20.7-2.1l-41.4-6.8l-7.6 3.9l-2.8 5l-6.5 2.5l-3.8 2.5l-26.4 5l-15 3.8l-20.7 2.8l-20.7-1.7l-17.4-2.5l-3.3-0.8l-7.8 0.8l-12.9 0.6l-20.7 1.9l-41.4 2.8l-20.7-0.6l-20.7 0.6l-20.7 1.1l-41.4 3.6l-62.1 4.3l-20.7 0.6l-20.7 0l-20.7-0.7l-20.7-2.1l-20.7-6.6l-20.7-2.7l-8.2-2.8l-10.9-4.9l-12.8-7.5l-6.9-5l-2.6-2.6l-10-7.3l-5.4-5l-5.3-2.8l-11.4-17l-9.3-4.5l-1.7-0.5l-19-2.1l-20.7-1.2l-6.9-1.7l-10.4-4.9l-3.4-1.3zM637 367.7l7.8 2.5l34.5-2.5l6.9-1.6l4.6-3.4l2.3-4.9l-2.6-10l-4.3-6.6l-3 1.7l-17.7 2.5l-7.8 2.4l-12.9 5.8l-5.2 4.2l-2.2 4.9zM164.3 342.9l4.4 1.9l2.3-1.9l8.2-5l10.2-3.1l4.9-6.8l2.8-5l-1-5l-2-4.9l-2.9-5l-1.8-2.5l-2.6-2.5l-3.2-4.9l-1.7-5l-0.9-5l-0.5-4.9l0.2-5l3.1-14.9l2.1-5l3.5-13.2l1.6-1.7l6.6-9.9l12.5-8.3l20.7-7.2l20.7 0l6 5.6l13.2 14.9l1.5 1.2l5.4 3.7l15.3 7.5l6.2 7.4l5.3 5l9.2 4.5l8.1 5.4l12.6 8.8l0.9 1.2l5.7 4.9l7 5l7.1 3.5l2.2 1.5l11.5 9.9l7 3.7l20.7 3.3l7.2 2.9l9.2 5l4.3 1.9l9.5 3.1l11.2 6l14.6-6l6.1-2l5.9-3l5.8-5l9-5.3l5.7-4.6l3.9-5l4.5-4.9l6.6-4.6l5.6-5.4l10.1-14.9l8.8-9.9l5.2-9.9l8.6-19.9l3.6-9.9l2.6-10l0.7-4.9l-0.6-5l-2.5-5l-0.7-0.8l-5.9-4.1l-9.3-10l-3.4-4.9l-2.1-3.9l-20.7-10.7l-20.7-6l-6.6-9.2l-5.8-10l-2.6-4.9l-3.8-10l-1.9-3.7l-5.4-6.2l-6.6-9.9l-2.3-5l-4.7-14.9l-1.7-3l-1.9-2l-18.8-13.5l-3.2-1.4l-8.7-4.9l-4.7-5l-4.1-5.8l-5.1-4.1l-4.7-5l-3.5-5l-317.9 0l0 240.9l9.7 22.4l2.7 4.9l5.1 5l3.2 1.6l38.4 8.3l10.2 5l8 5l5.5 2.5l8.3 7.4zM1055.9 169l2.9 3.5l0-137.6l-37.7 0l2.9 24.9l4.4 19.8l5.9 19.9l5.8 14.9l3.3 9.9l2.5 10l2.4 14.9l1.9 9.9l2.5 5z" clip-path="url(#p21d3d19bf5)" style="fill: #b1ff46"/></g><g id="patch_60"><path d="M65.2 432.3l993.6 0l0-32l-20.7-1.2l-20.7-0.2l-66.5-6.3l-13.2-2.5l4.4-2.5l1.8-2.5l1-2.5l0-5l-10.3-5.7l-20.7-4.2l-41.4-4.4l-20.7-5.5l-20.7 0l-3.2 4.9l-2.5 5l-3.4 5l-6.2 4.9l-5.4 3.4l-10.4 1.6l-10.3 1.2l-20.7 0.2l-20.7-1.4l-20.7-2.7l-20.7-1.4l-5.2 4.1l-7.9 2.5l-4.8 2.5l-26.4 5l-17.8 4.2l-20.7 2.8l-25.3-2.1l-16.1-2.2l-20.7 0.9l-46.6 3.8l-15.5 0.8l-20.7-0.5l-20.7 0.5l-20.7 1.1l-41.4 3.5l-62.1 4.2l-20.7 0.6l-20.7 0l-20.7-0.7l-20.7-2.1l-20.7-6.6l-20.7-2.7l-9.3-3.1l-10.8-4.9l-12.9-7.5l-6.7-5l-1.7-1.7l-11.3-8.2l-6-5l-3.4-1.8l-2.5-3.1l-3-5l-8.5-9.9l-6.7-3.2l-6-1.8l-14.7-1.6l-20.7-1.3l-8.7-2.1l-12-5.4zM644.8 362.7l20.7 2.9l11.8-2.9l8.9-4.9l0-5l-10.4-5l-10.3-0.4l-20.7 10.4zM168 342.9l0.7 0.3l8-5.3l12.7-3.8l4.5-6.1l2.9-5l-1-5l-2.1-4.9l-2.9-5l-1.4-1.9l-3.1-3.1l-3.1-4.9l-1.7-5l-0.9-5l-0.4-4.9l0.1-5l2.8-14.9l1.9-5l4.4-18.6l4.1-6.2l16.6-11l20.7-7.6l20.7 0l9.3 8.7l8.4 9.9l5.1 5l7.8 4.9l10.8 5l3.7 5l4.5 4.9l5.6 5l6.9 3.4l20.7 14.1l1.8 2.4l5.8 4.9l7.1 5l6 3l3 2l11.3 9.9l6.4 3.3l20.7 3.4l8.1 3.2l9 5l3.6 1.6l10.5 3.4l10.2 5.6l13.3-5.6l7.4-2.4l5.1-2.6l5.7-5l9.9-5.7l5.1-4.2l3.8-5l4.4-4.9l7.4-5.2l5-4.8l10-14.9l8.8-9.9l5.3-9.9l8.4-19.9l3.9-10.2l2.6-9.7l0.7-4.9l-0.6-5l-2.7-5.2l-6.7-4.7l-9.2-10l-4.8-7.7l-4.8-2.2l-15.9-8.4l-4.3-1.5l-16.4-4.8l-4-5.2l-3.2-4.9l-5.8-10l-2.5-4.9l-3.8-10l-1.4-2.8l-6-7.1l-6.5-9.9l-2.2-5l-4.8-14.9l-1.2-2.3l-2.7-2.7l-18-13l-4.3-1.9l-8.3-4.9l-4.6-5l-3.5-5.1l-5.9-4.8l-4.7-5l-3.5-5l-317.1 0l0 239.7l10.6 23.6l2.9 4.9l5.6 5l1.6 0.8l41.4 8.5l11.7 5.6l9 5l4.9 4.9l6.3 5zM1057.5 169l1.3 1.6l0-135.7l-36.7 0l2.7 24.9l4.6 19.8l4.4 14.9l3.5 10l4.1 9.9l3.1 9.9l2.4 10l2.5 14.9l2.1 9.9l2.6 5z" clip-path="url(#p21d3d19bf5)" style="fill: #baff3c"/></g><g id="patch_61"><path d="M65.2 432.3l993.6 0l0-30.9l-20.7-0.8l-20.7-0.1l-7.9-0.5l-29.4-2.5l-50.7-4.9l-9.9-2.5l15.1-3.3l2.6-1.7l2.5-2.5l1.8-5l-6.9-3.8l-20.7-4.4l-41.4-3.3l-20.7-5.6l-20.7 1.4l-6.6 10.8l-6 4.9l-8.1 5l-20.7 2.4l-20.7 0.4l-20.7-1.1l-20.7-1.7l-20.7 0l-9.2 2.5l-5.9 2.5l-26.3 5l-20.7 4.7l-20.7 2.7l-29.9-2.5l-11.5-1.5l-20.7 0.9l-41.4 3.4l-20.7 1.1l-20.7-0.5l-20.7 0.5l-20.7 1.1l-41.4 3.3l-62.1 4l-20.7 0.6l-20.7 0l-20.7-0.7l-20.7-2l-20.7-6.5l-20.7-2.7l-10.4-3.5l-10.7-4.9l-12.9-7.5l-13-9.9l-15.1-10.8l-3.3-4.1l-3.2-5l-10.1-9.9l-4.1-2l-10.2-3l-10.5-1.2l-20.7-1.3l-10.4-2.5l-10.3-4.6zM655.1 357.8l10.4 4.1l10.3-4.1l-4.4-5l-5.9-1.6l-3.2 1.6zM162.2 337.9l6.5 3.6l5.4-3.6l15.3-4.6l4.1-5.3l3-5l-1-5l-2.1-4.9l-3-5l-4.7-5l-3-4.9l-1.6-5l-1.3-9.9l0.1-5l1.5-9.9l1.1-5l1.7-5l5.2-24.8l6.9-5l13.8-8.8l20.7-7.9l20.7 0l7.8 6.8l4.8 5l8.1 9.9l5.7 5l8.7 4.9l6.3 2.9l5.6 7.1l4.7 4.9l5.8 5l4.6 2.3l3.4 2.7l17.3 11.3l2.7 3.6l5.8 4.9l7.2 5l5 2.5l3.8 2.5l11.1 9.9l5.8 3l20.7 3.3l8.9 3.6l8.9 5l2.9 1.3l11.4 3.7l9.3 5.2l12.1-5.2l8.6-2.8l4.3-2.2l5.6-5l7.9-4.9l2.9-1.3l4.5-3.7l3.6-5l4.4-4.9l8.2-5.8l4.4-4.2l9.8-14.9l8.9-9.9l5.3-9.9l8.4-19.9l4.6-12.2l2-7.7l0.8-4.9l-0.6-5l-2.2-4.3l-7.6-5.6l-4.8-5l-4.2-5l-4.1-6.6l-7.3-3.3l-13.4-7.2l-7.5-2.7l-13.2-3.8l-4.7-6.2l-3.2-4.9l-5.6-10l-2.4-4.9l-4.8-11.9l-6.7-8l-6.3-9.9l-2.1-5l-3.1-9.9l-1.7-5l-0.8-1.5l-3.4-3.5l-17.3-12.6l-5.4-2.3l-8-4.9l-4.4-5l-2.9-4.3l-6.8-5.6l-4.6-5l-3.4-5l-316.4 0l0 238.4l2.5 5l4 9.9l4.9 10l3.2 4.9l6.1 5l20.7 4.1l6.3 0.9l14.4 2.8l16.2 7.1l4.5 2.5l2.1 2.5l5.3 4.9zM1055.4 164.1l3.4 4.5l0-133.7l-35.8 0l2.6 24.9l3.4 14.9l5.9 19.8l3.2 8.7l2.7 6.2l3.4 10l3.7 14.9l2.6 14.9l2.2 9.9z" clip-path="url(#p21d3d19bf5)" style="fill: #c1ff36"/></g><g id="patch_62"><path d="M65.2 432.3l993.6 0l0-29.8l-41.4-0.7l-20.7-1.2l-62.1-5.3l-26.8-2.7l-10-2.5l19-2.5l10.5-2.5l7.3-2.5l3.4-5l-3.4-1.9l-20.7-4.7l-20.7-1.6l-20.7-0.6l-20.7-5.4l-20.7 2.7l-4.1 6.6l-5.7 4.9l-8 5l-2.9 1.3l-20.7 2.3l-20.7 0.6l-20.7-0.9l-20.7-1.6l-20.7-0.6l-5.4 1.4l-6.9 2.5l-29.1 5.4l-19.7 4.5l-21.7 2.8l-34.5-2.8l-6.9-0.9l-20.7 0.9l-41.4 3.3l-20.7 1.1l-20.7-0.4l-20.7 0.4l-20.7 1l-58.9 4.6l-44.6 2.6l-20.7 0.5l-20.7 0l-20.7-0.6l-20.7-2l-8.9-3l-11.8-3.5l-20.7-2.6l-11.5-3.9l-10.7-4.9l-8.9-5l-3.9-2.5l-13.2-9.9l-13.9-9.8l-7.5-10.1l-5.3-5l-6.4-4.9l-1.5-0.8l-14.4-4.2l-6.3-0.7l-20.7-1.4l-12.1-2.9l-8.6-3.8zM165.2 337.9l3.5 2l2.9-2l15.4-5l2.4-0.2l3.7-4.7l3.1-5l-1-5l-2.2-4.9l-3.6-5.8l-4.3-4.2l-2.9-4.9l-1.5-5l-0.9-5l-0.4-4.9l0-5l2.4-14.9l1.5-5l2-9.9l2.2-14.9l1.9-3.1l9.9-6.8l10.8-6.7l8.8-3.3l11.9-4.9l20.7 0l6.1 4.9l5.3 5l4.6 5l7.6 9.9l6.3 5l11.5 5.8l7.5 9.1l4.9 4.9l6 5l2.3 1.1l4.8 3.9l15.9 10.1l3.6 4.8l5.9 4.9l7.2 5l4 2l4.6 3l11 9.9l5.1 2.7l20.7 3.3l9.8 3.9l10.9 5.9l12.4 4.1l8.3 4.7l10.8-4.7l9.9-3.1l3.5-1.9l5.6-5l7.6-4.9l4-1.8l3.9-3.2l3.5-5l4.3-4.9l6.6-5l2.4-1.3l3.8-3.7l9.7-14.9l4.1-4.9l4.8-5l5.4-9.9l8.2-19.9l5.4-14.1l1.5-5.8l0.8-4.9l-0.6-5l-1.7-3.4l-8.4-6.5l-4.7-5l-4.2-5l-3.4-5.5l-9.7-4.4l-11-6l-10.7-3.9l-10-2.9l-5.4-7.1l-3.1-4.9l-5.6-10l-2.3-4.9l-4.3-11l-7.3-8.9l-6.1-9.9l-2.1-5l-3.1-9.9l-2.1-5.7l-4.1-4.3l-16.6-12.1l-6.5-2.8l-7.6-4.9l-4.3-5l-2.3-3.4l-7.7-6.5l-4.5-5l-3.4-5l-315.6 0l0 237.2l3.1 6.2l4.1 9.9l5 10l3.4 4.9l5.1 4.1l20.7 4l14.3 1.9l6.4 1.2l20.7 8.7l4.2 5l5.7 4.9zM1056.8 164.1l2 2.6l0-131.8l-34.9 0l2.6 24.9l2.2 9.9l2.7 9.9l4.6 14.9l2.1 5.6l4.1 9.3l3.2 10l2.5 9.9l3.7 19.9l2.3 9.9z" clip-path="url(#p21d3d19bf5)" style="fill: #caff2c"/></g><g id="patch_63"><path d="M65.2 432.3l993.6 0l0-28.7l-41.4-0.5l-20.7-1.2l-41.4-3.3l-20.7-1.1l-20.7-2.2l-20.7-1.6l-2.8-1.1l-3.4-2.5l3.9-2.5l2.3-0.8l21.9-1.7l9.1-2.5l10.4-5l-20.7-4.9l-20.7-1.7l-20.7 0.6l-20.7-5.1l-8.3 1.2l-12.4 2.5l-1.6 2.5l-5.5 4.9l-7.7 5l-5.9 2.5l-20.7 2.2l-20.7 0.8l-20.7-0.5l-32.2-2.5l-9.2-0.4l-9.4 2.9l-32 5.8l-18 4.1l-23.4 3.2l-20.7-1.5l-20.7-2l-20.7 0.9l-41.4 3.3l-20.7 1.1l-20.7-0.5l-41.4 1.3l-53.1 4.2l-50.4 2.9l-20.7 0.5l-20.7-0.1l-20.7-0.5l-20.7-2l-9.8-3.3l-10.9-3.2l-20.7-2.5l-12.5-4.3l-10.8-4.9l-8.9-5l-29.9-21.2l-8.6-11.1l-5.6-5l-7.2-4.9l-17.9-5l-22.8-1.6l-13.8-3.4l-6.9-3.1zM168.1 337.9l0.6 0.3l14.1-5.3l6.6-0.8l3.3-4.1l3.2-5l-1-5l-2.3-4.9l-3.2-5.2l-4.8-4.8l-2.8-4.9l-1.5-5l-0.8-5l-0.5-4.9l0-5l2.1-14.9l1.4-5l1.7-9.9l1.4-14.9l3.8-6.2l5.4-3.7l15.3-9.4l13.8-5.5l6.9-5l20.7 0l4.1 5l5.8 4.9l5 5l5.8 6.6l5.9 8.3l6.9 5l7.9 3.9l9.4 11l5.1 4.9l12.5 10l14.4 9.1l4.5 5.8l5.9 4.9l7.4 5l2.9 1.5l5.4 3.5l10.8 9.9l4.5 2.3l20.7 3.4l10.6 4.2l10.1 5.6l13.3 4.4l7.4 4.2l9.6-4.2l11.1-3.5l2.8-1.5l5.4-5l7.4-4.9l5.1-2.3l3.3-2.7l3.4-5l4.2-4.9l6.4-5l3.4-1.9l3.2-3.1l9.5-14.9l4.1-4.9l4.9-5l5.4-9.9l8.2-19.9l6.1-16.1l1.8-8.7l-0.6-5l-1.2-2.4l-2.8-2.6l-6.5-4.9l-4.6-5l-4.1-5l-2.7-4.4l-12.2-5.5l-8.5-4.7l-13.9-5.2l-6.8-2l-2.7-3l-3.3-5l-3.1-4.9l-5.5-10l-2.3-4.9l-3.8-10.1l-4.3-4.8l-3.7-5l-5.9-9.9l-2.1-5l-4.8-14.9l-4.8-5l-15.8-11.6l-7.6-3.3l-7.3-4.9l-5.8-7.5l-8.6-7.4l-4.4-5l-3.3-5l-314.9 0l0 236l3.7 7.4l4.1 9.9l5.2 10l3.7 4.9l4 3.2l20.7 3.9l20.7 2.6l20.7 8.8l1.8 1.4l4.6 5l6 4.9zM1058.2 164.1l0.6 0.7l0-129.9l-33.9 0l2.4 24.9l2.3 9.9l2.7 9.9l4.9 14.9l0.9 2.5l3.7 7.5l3.4 9.9l2.7 9.9l4.9 24.9l2.3 9.9z" clip-path="url(#p21d3d19bf5)" style="fill: #d1ff26"/></g><g id="patch_64"><path d="M65.2 432.3l993.6 0l0-27.6l-41.4-0.3l-20.7-1.1l-20.7-2l-41.4-3l-41.4-1.9l-9.7-3.8l-4.1-2.5l0-5l-6.9-2.5l0-5l-10.4-4.9l-10.3-2.5l-12.5 2.5l-8.2 1l-4.4 3.9l-7.5 5l-8.8 3.7l-20.7 2.2l-20.7 1l-20.7-0.3l-41.4-3.6l-6.6 2l-34.8 6.2l-16.2 3.7l-25.2 3.5l-41.4-3.3l-20.7 1l-41.4 3.2l-20.7 1.1l-20.7-0.5l-20.7 0.4l-20.7 0.8l-47.3 3.8l-56.2 3.2l-20.7 0.4l-20.7 0l-20.7-0.6l-20.7-1.9l-10.7-3.6l-10-2.8l-20.7-2.6l-13.6-4.6l-10.8-4.9l-8.8-5l-17.4-12.4l-11.5-7.8l-9.6-12.1l-6.1-5l-7.4-4.9l-18.3-4.8l-20.7-1.4l-15.6-3.8l-5.1-2.3zM872.5 377.6l20.7 5l20.7 0l13.8-5l-13.8-3.3l-20.7-1.6zM162.9 332.9l5.8 3.7l9.8-3.7l10.9-1.3l6.2-8.6l-1-5l-2.3-4.9l-2.9-4.7l-5.4-5.3l-2.7-4.9l-1.5-5l-0.7-5l-0.5-9.9l1.8-14.9l1.2-5l1.5-9.9l0.5-5l0.1-9.9l2.8-5l2.9-4.3l16.7-10.6l4-2.2l6.9-2.7l6.4-5l7.4-5l20.7 0l3.7 5l4.5 5l5.6 4.9l6.9 7.5l8.8 12.4l7.6 5l4.3 2.1l3.1 2.8l8.2 10l5.2 4.9l4.2 3.4l1.3 1.6l6.4 5l13 8l5.4 6.9l6 4.9l15.5 10l10.6 9.9l3.9 2l20.7 3.3l11.4 4.6l9.3 5.3l14.3 4.7l6.4 3.6l8.3-3.6l12.4-3.9l2-1.1l5.3-5l7.2-4.9l6.2-2.8l2.7-2.2l3.3-5l4.1-4.9l6.1-5l4.5-2.4l2.6-2.6l9.3-14.9l4-4.9l5.1-5l5.4-9.9l8.1-19.9l3.5-9.9l3.4-8.2l1.3-6.7l-0.6-5l-0.7-1.5l-3.8-3.5l-6.3-4.9l-4.6-5l-4-5l-2-3.2l-14.6-6.7l-6.1-3.4l-17.1-6.5l-3.6-1.1l-3.5-3.9l-6.3-9.9l-5.3-10l-2.3-4.9l-3.3-8.9l-5.1-6l-3.6-5l-5.7-9.9l-2-5l-4.3-13.7l-0.8-1.2l-4.8-5l-15.1-11.2l-8.7-3.7l-6.9-4.9l-5.1-6.6l-9.5-8.3l-4.3-5l-3.2-5l-314.2 0l0 234.7l4.3 8.7l4.1 9.9l5.5 10l3.9 4.9l2.9 2.3l20.7 3.7l20.7 2.1l3.3 1.9l17.4 7l3.7 2.9l4.8 5zM1056.3 159.1l2.5 3.8l0-128l-33 0l2.3 24.9l1.2 4.9l2.5 10l4.8 14.9l1.5 4.3l3.1 5.6l2.1 5l3.2 9.9l2.5 9.9l3.8 19.9z" clip-path="url(#p21d3d19bf5)" style="fill: #dbff1c"/></g><g id="patch_65"><path d="M65.2 432.3l993.6 0l0-26.7l-20.7 0.5l-20.7-0.4l-20.7-1l-19.4-2.2l-42.7-3.3l-20.7-1l-20.7 0.2l-4.2-0.9l-12.4-4.9l-4.1-2.2l-5.2-7.8l-4.2-5l-11.3-3.7l-20.7 2.3l-1.7 1.4l-7.2 5l-5.2 2.5l-6.6 2.5l-20.7 2.1l-20.7 1.1l-20.7-0.1l-20.7-1.9l-8.9-1.2l-11.8-1.1l-3.8 1.1l-12.8 2.5l-24.8 4.1l-20.7 4.5l-20.7 2.7l-20.7-1.4l-20.7-1.8l-20.7 1l-41.4 3.3l-20.7 1l-20.7-0.6l-20.7 0.4l-20.7 0.8l-41.4 3.4l-62.1 3.4l-41.4 0.4l-20.7-0.5l-20.7-1.9l-11.6-3.9l-9.1-2.5l-20.7-2.5l-14.7-5l-10.8-4.9l-8.8-5l-17.5-12.4l-10.3-6.9l-10.6-13l-6.6-5l-7.5-4.9l-16.7-4.3l-20.7-1.5l-17.3-4.2l-3.4-1.5zM886.3 377.6l6.9 1.7l20.7 0.8l6.9-2.5l-6.9-1.6l-20.7 0zM165.4 332.9l3.3 2.1l5.5-2.1l15.2-1.8l5.9-8.1l-1.1-5l-2.3-4.9l-2.5-4.1l-1.3-0.9l-4.7-5l-2.6-4.9l-1.4-5l-0.7-5l-0.5-9.9l1.6-14.9l0.9-5l1.3-9.9l0.4-5l-0.6-9.9l2.6-5l5-7.4l11.8-7.5l8.9-4.9l5.9-5l6.8-5l8-4.9l20.7 0l3.3 4.9l4.1 5l13.3 13.2l11.8 16.6l8.9 5.3l5 4.6l3.7 5l4.4 5l7.6 6.6l2.7 3.3l6.5 5l11.5 7l6.3 7.9l6 4.9l15.4 10l10.5 9.9l3.2 1.7l20.7 3.3l12.3 4.9l8.4 5l15.2 5l5.5 3.1l7.1-3.1l13.6-4.3l1.2-0.7l5.3-5l7-4.9l7.2-3.3l2.1-1.7l3.2-5l4-4.9l5.9-5l5.5-3l2-2l9.2-14.9l3.8-4.9l5.7-5.5l5.1-9.4l4.1-10l7.3-19.8l4.2-10.3l0.8-4.6l-0.6-5l-5.1-5l-6.1-4.9l-4.5-5l-5.2-7.1l-6.8-2.8l-13.9-7l-20.7-8.1l-4.3-4.8l-6.1-9.9l-5.3-10l-5-12.7l-5.8-7.1l-3.5-5l-5.6-9.9l-1.9-5l-3.9-12.5l-1.6-2.4l-4.7-5l-14.4-10.7l-9.8-4.2l-6.6-4.9l-4.3-5.8l-10.3-9.1l-4.3-5l-3.2-5l-81.1 0l-2.2 5l-2.4 7.4l-4.2-12.4l-223.5 0l0 233.5l2.7 4.9l6.3 14.9l2.7 5l3 5l4.2 4.9l1.8 1.5l20.7 3.5l20.7 1.6l6.1 3.4l14.6 5.5l5.6 4.4l5.1 5zM1057.5 159.1l1.3 1.9l0-126.1l-32 0l2.2 24.9l1.1 4.9l2.7 10l5.3 16.1l2.4 3.7l2.5 5l3.3 9.9l2.7 10l4.9 24.8z" clip-path="url(#p21d3d19bf5)" style="fill: #e4ff13"/></g><g id="patch_66"><path d="M65.2 432.3l993.6 0l0-26l-20.7 1.2l-20.7-0.5l-20.7-0.9l-20.7-2.7l-41.4-3.4l-20.7-1.1l-20.7 1.1l-11.1-2.5l-9.6-3.8l-4.7-3.6l-5.7-7.5l-8.5-5l-1.8-0.6l-20.7 1.5l-6 4.1l-4.7 2.5l-10 3.7l-20.7 2.4l-20.7 0.9l-20.7-0.3l-20.7-1.7l-20.7-2.8l-13.8 2.8l-27.6 4.5l-12.6 2.9l-8.1 1.5l-20.7 2.7l-41.4-3.1l-20.7 1.2l-41.4 3.3l-20.7 0.9l-20.7-0.7l-20.7 0.4l-20.7 0.9l-41.4 3.3l-62.1 3.3l-41.4 0.3l-20.7-0.5l-20.7-1.8l-12.4-4.2l-8.3-2.3l-20.7-2.3l-9.2-2.9l-6.5-2.5l-10.9-4.9l-8.7-5l-10.4-7.5l-16.4-10.8l-11.6-14l-9.1-6.4l-5.7-3.5l-15-3.9l-20.7-1.5l-19-4.6l-1.7-0.7zM167.9 332.9l0.8 0.5l1.3-0.5l19.4-2.3l5.6-7.6l-1.1-5l-2.3-4.9l-2.2-3.5l-2.1-1.5l-4.4-5l-2.5-4.9l-1.4-5l-1.1-9.9l-0.1-5l1.3-14.9l1.9-14.9l0.1-5l-1.1-9.9l2.3-5l2.9-4.9l4.2-5.6l15.5-9.3l5.2-6.2l4.7-3.8l7.3-4.9l8.7-5l20.7 0l3 5l3.6 4.9l4.4 5l9.7 9.1l7.2 10.8l7.5 9.9l6 3.6l7 6.3l3.5 5l4.5 5l5.7 4.9l4 5l6.6 5l10.1 6l3.5 3.9l3.7 5l6.1 4.9l15.2 10l10.3 9.9l2.6 1.3l20.7 3.2l13.1 5.4l7.6 4.5l16.2 5.5l4.5 2.5l5.8-2.5l15.4-5l5.1-5l6.8-4.9l8.3-3.8l1.4-1.2l3.2-5l3.9-4.9l5.7-5l6.5-3.6l1.4-1.4l9-14.9l3.8-4.9l6.5-6.7l4.4-8.2l4.1-10l12.2-32.7l0.4-2l-0.9-5l-11.3-9.9l-4.5-5l-4.4-6l-9.5-3.9l-11.2-5.7l-20.7-8l-5.1-6.2l-6-9.9l-5.1-10l-4.5-11.5l-6.6-8.3l-3.4-5l-2.7-5l-2.6-4.9l-2-5l-3.4-11.3l-2.4-3.6l-4.7-5l-13.6-10.2l-10.9-4.7l-6.2-4.9l-3.8-5l-11-9.9l-4.2-5l-3.1-5l-75.8 0l-4.7 10l-1.8 4.9l-2.7 10l-4.6-14.9l-3.7-10l-219.4 0l0 232.2l3.4 6.2l6.3 14.9l2.7 5l3.1 5l5.2 5.5l20.7 3.5l20.7 0.9l8.9 5l12.9 4.9l6.4 5l5.3 5zM1058.8 159.1l0-124.2l-31.1 0l2.1 24.9l1.2 4.9l2.7 10l4.4 13l4.4 6.8l2.2 5l1.7 5l3.8 14.9l4.7 24.8z" clip-path="url(#p21d3d19bf5)" style="fill: #ebff0c"/></g><g id="patch_67"><path d="M65.2 432.3l993.6 0l0-25.2l-20.7 1.3l-41.4-0.9l-20.7-3l-41.4-3.7l-20.7-1.2l-20.7 1.2l-6.9-0.8l-11.1-2.5l-2.7-1.1l-6-3.8l-2.9-2.5l-4.1-5l-2.6-2.5l-5.1-2.7l-20.7 0.6l-7.4 4.6l-5.7 2.5l-7.6 2.5l-20.7 2.7l-20.7 0.6l-20.7-0.4l-20.7-2.1l-4.2-0.8l-16.5-2.2l-11.1 2.2l-30.3 4.9l-10.8 2.5l-9.9 1.8l-20.7 2.7l-41.4-2.9l-20.7 1.3l-41.4 3.3l-20.7 0.8l-20.7-0.8l-41.4 1.3l-41.4 3.3l-62.1 3.2l-41.4 0.2l-20.7-0.4l-20.7-1.8l-13.3-4.5l-7.4-2l-6.9-0.5l-13.8-1.7l-10.4-3.3l-11.9-4.9l-9.9-5l-7.9-5l-6.6-5l-7.4-4.9l-8-5l-12.6-14.9l-15.5-9.9l-13.3-3.5l-20.7-1.5l-20.7-5zM163 328l5.7 3.9l20.7-1.9l5.3-7l-1.1-5l-2.4-4.9l-1.8-3l-2.9-2l-4.2-5l-2.4-4.9l-1.3-5l-0.7-5l-0.5-9.9l2.5-29.8l0-5l-1.8-9.9l2.2-5l2.6-4.9l3.4-5l3.1-3.7l10.3-6.2l4.4-5l6-7.4l11.3-7.5l9.4-5l20.7 0l6 10l4 4.9l4.7 5l6 5l10 14.9l7.7 9.9l3 1.8l8.9 8.1l3.3 5l4.7 5l3.8 3.3l5.4 6.6l6.6 5l8.7 4.9l4.4 5l3.7 5l6.1 4.9l15.1 10l10.1 9.9l2 1l20.7 3l13.9 5.9l6.8 4l3.7 1l13.4 5l3.6 2l4.6-2l16.1-5.3l4.7-4.7l6.6-4.9l9.4-4.3l0.8-0.7l3.1-5l3.8-4.9l5.5-5l7.5-4.1l0.9-0.9l8.8-14.9l3.6-4.9l7.4-7.9l3.7-7l6-14.9l10.7-29.8l-1.4-5l-11-9.9l-4.4-5l-3.6-4.9l-12.2-5l-8.5-4.4l-20.7-7.8l-5.9-7.7l-5.8-9.9l-5-10l-4-10.3l-7.4-9.5l-3.2-5l-5.2-9.9l-1.9-5l-3-10.1l-3.2-4.8l-4.6-5l-12.9-9.7l-12-5.2l-5.9-4.9l-4-5l-10.9-9.9l-4.1-5l-3.1-5l-70.4 0l-3.1 5l-2.5 5l-2 4.9l-3.3 10l-2.9 3.5l-3.5-3.5l-5-14.9l-4-10l-215.2 0l0 231l4 7.4l6.3 14.9l6.1 10l4.3 4.6l20.7 3.5l20.7 0.7l11.7 6.1l9 3.3l2.9 1.6l6.5 5zM1058.5 154.1l0.3 0.9l0-120.1l-30.1 0l1.9 24.9l1.2 4.9l2.9 10l3.4 9.9l3.8 5l2.7 4.9l1.9 5l3.8 14.9l2 9.9l1.5 10z" clip-path="url(#p21d3d19bf5)" style="fill: #f4f802"/></g><g id="patch_68"><path d="M65.2 432.3l993.6 0l0-24.4l-20.7 1.5l-41.4-1.3l-20.7-2.7l-20.7-2.1l-41.4-2.9l-20.7 1.3l-13.8-1.7l-6.9-1.6l-2.7-0.9l-7.5-4.9l-2.9-2.5l-4.8-5l-2.8-2.5l-20.7 0l-4 2.5l-5.2 2.5l-7 2.5l-4.5 1.2l-9.7 1.3l-11 2.2l-20.7-0.2l-20.7-0.6l-20.7-2.3l-8.3-1.6l-12.4-1.6l-41.4 6.9l-9 2.1l-11.7 2.2l-20.7 2.7l-41.4-2.8l-20.7 1.3l-41.4 3.4l-20.7 0.7l-20.7-0.9l-20.7 0.5l-20.7 0.8l-41.4 3.3l-62.1 3l-41.4 0.3l-20.7-0.5l-20.7-1.7l-14.2-4.8l-6.5-1.8l-10.4-0.7l-10.3-1.3l-11.6-3.7l-11.8-4.9l-9.9-5l-7.8-5l-6.7-5l-14.3-9.1l-9-10.7l-4.6-5l-16.2-9.9l-11.6-3l-20.7-1.6l-20.7-5zM165.1 328l3.6 2.4l20.7-0.9l4.9-6.5l-1-5l-2.4-4.9l-1.5-2.4l-3.7-2.6l-4-5l-2.3-4.9l-1.2-5l-0.7-5l-0.5-9.9l1.8-29.8l-0.2-5l-0.9-4.9l-1.5-5l4.4-9.9l3.1-5l3.9-5l1.8-1.8l5.1-3.1l9-10l6.6-8.7l10.3-6.2l2.6-9.9l1.8-5l2.5-4.9l3.5-5l2.5 5l4.4 4.9l8.6 5l5.2 1.7l2.5 8.2l3.1 5l3.5 5l4.2 4.9l7.4 6.9l2.5 3.1l10.3 14.9l7.9 9.9l5.8 5l5.1 4.9l3.1 5l6.7 6.6l2.4 3.3l4.4 5l6.7 5l8.2 4.9l4.3 5l3.7 5l6.2 4.9l14.9 10l10 9.9l1.3 0.7l20.7 2.9l14.8 6.3l5.9 3.5l5.5 1.5l12.6 5l2.6 1.4l3.3-1.4l17.4-6.1l3.8-3.9l6.4-4.9l10.5-4.8l3.2-5.2l3.7-4.9l5.3-5l8.8-5l8.6-14.9l3.5-4.9l8.3-9.1l3.1-5.8l5.9-14.9l10.4-29.8l-1.5-5l-10.7-9.9l-7.2-8.9l-14.8-6l-5.9-3l-20.7-7.7l-6.7-9.2l-5.6-9.9l-5-10l-3.4-9l-8.2-10.8l-3.1-5l-5-9.9l-4.4-13.7l-3.9-6.2l-4.6-5l-12.2-9.2l-2.4-0.7l-10.7-5l-5.6-4.9l-2-2.9l-2.2-2.1l-10.8-9.9l-4-5l-3-5l-65.1 0l-3.5 5l-2.9 5l-2.4 4.9l-3.7 10l-5.9 7.1l-2.4-2.2l-4.5-4.9l-5.4-14.9l-4.3-10l-211.1 0l0 229.7l4.7 8.7l3.9 10l2.3 4.9l2.9 5l3.4 5l3.5 3.7l20.7 3.5l20.7 0.5l14.5 7.2l6.2 2.3l4.7 2.6l6.6 5zM1058.3 149.2l0.5 1.6l0-115.9l-29.2 0l1.8 24.9l2.7 9.9l4 12.1l2.9 2.8l3.3 5l2.3 4.9l1.6 5l4.4 19.9l2.2 14.9z" clip-path="url(#p21d3d19bf5)" style="fill: #fbf100"/></g><g id="patch_69"><path d="M65.2 432.3l993.6 0l0-23.7l-20.7 1.8l-41.4-1.6l-20.7-2.6l-20.7-2.1l-41.4-3l-20.7 1.4l-20.6-2.5l-7.3-2.5l-7.2-4.9l-6.3-5.8l-13.9-1.7l-6.8-0.4l-5.4 2.9l-6.3 2.5l-9 2.5l-11.2 2.4l-9.5 1l-41.4-1l-20.7-2.4l-12.5-2.5l-8.2-1.1l-41.4 6.9l-7.2 1.6l-13.5 2.5l-20.7 2.7l-41.4-2.7l-20.7 1.4l-41.4 3.6l-20.7 0.4l-20.7-0.9l-20.7 0.5l-20.7 0.8l-41.4 3.3l-62.1 2.9l-41.4 0.2l-20.7-0.4l-20.7-1.6l-15.1-5.2l-5.6-1.6l-13.8-0.9l-6.9-0.8l-12.8-4.2l-11.8-4.9l-9.7-5l-7.1-4.5l-7.4-5.5l-13.3-8.4l-1.8-1.5l-8-9.9l-4.9-5l-6-3.9l-10.7-6l-10-2.6l-20.7-1.7l-20.7-5zM167.3 328l1.4 1l20.7 0l4.6-6l-1-5l-3.6-6.8l-4.5-3.1l-3.7-5l-2.2-4.9l-1.2-5l-0.7-5l-0.6-9.9l1.2-29.8l-0.3-5l-1.2-4.9l-1.9-5l4-9.9l2.8-5l3.5-5l14.2-14.9l4.1-4.9l7.2-10l0-24.8l-3-24.8l3-24.9l2.3 5l2.8 5l3.7 4.9l5 5l6.9 5l1.8 9.9l1.6 5l2.5 4.9l4.4 5l5.2 5l5.2 3.3l5.1 16.5l3.3 5l3.7 5l4.6 4.9l5.1 5l4 5l6.8 9.9l8.8 11.4l1.9 3.5l5.9 5l5 4.9l2.9 5l5 5l3.6 4.9l4.5 5l6.8 5l5.8 3.3l2 1.6l4.2 5l3.7 5l6.2 4.9l7.9 5l6.9 5l9.8 9.9l0.7 0.3l20.7 2.8l15.6 6.8l5.1 3l7.4 2l13.3 5.9l20.7-7.9l3-3l6.1-4.9l10.6-5l1-0.7l2.5-4.3l3.7-4.9l5-5l9.5-5.5l8.2-14.4l3.3-4.9l9.2-10.3l2.4-4.6l5.9-14.9l10-29.8l-1.5-5l-10.5-9.9l-6.3-7.8l-6.2-2.2l-14.5-6.6l-20.7-7.5l-7.5-10.7l-5.5-9.9l-4.8-10l-2.9-7.7l-9-12.1l-2.9-5l-4.8-9.9l-4-12.4l-4.7-7.5l-4.6-5l-11.4-8.7l-4.2-1.2l-10-5l-5.2-4.9l-4.4-5l-10.8-9.9l-3.9-5l-2.9-5l-60.9 0l-1.2 2.8l-4.9 7.2l-2.7 4.9l-4.3 10l-3.7 4.9l-5.1 5.7l-6.4-5.7l-4-4.9l-5.7-14.9l-4.6-10l-20.7 5l0 19.9l0-24.9l-186.3 0l0 228.5l3 5l2.4 4.9l3.8 10l2.4 4.9l2.9 5l3.5 5l2.7 2.8l20.7 3.6l20.7 0.1l17.3 8.4l3.4 1.2l6.5 3.7zM1058.1 144.2l0.7 2.5l0-111.8l-28.3 0l1.8 24.9l2.7 9.9l3.1 9.4l5.9 5.5l2.7 5l1.9 4.9l2.4 10l2.8 14.9l2 14.9z" clip-path="url(#p21d3d19bf5)" style="fill: #ffe600"/></g><g id="patch_70"><path d="M65.2 432.3l993.6 0l0-23.1l-20.7 2.2l-41.4-1.9l-20.7-2.5l-41.4-4.1l-20.7-1.1l-20.7 1.3l-6.9-0.6l-13.8-1.7l-3.9-0.8l-7.8-2.5l-9-6.7l-13.9-3.2l-6.8-0.8l-7.2 3.3l-13.5 4.9l-20.7 2.1l-41.4-1.4l-20.7-2.5l-20.7-3.7l-41.4 6.8l-19 3.7l-22.4 2.9l-41.4-2.5l-62.1 5l-20.7 0.4l-20.7-0.9l-20.7 0.5l-20.7 0.8l-41.4 3.3l-62.1 2.8l-41.4 0.1l-20.7-0.4l-20.7-1.5l-15.9-5.5l-4.8-1.3l-20.7-1.6l-14-4.6l-16.9-7.4l-8.6-5l-10.4-7.5l-12.2-7.6l-2.6-2.3l-8-9.9l-5.1-5l-5-3.3l-12.4-6.6l-8.3-2.2l-20.7-1.7l-20.7-5.1zM174.1 328l15.3 0.5l4.3-5.5l-1-5l-2.5-4.9l-0.8-1.3l-5.4-3.7l-3.4-5l-2.1-4.9l-1.2-5l-0.6-5l-0.6-9.9l0.5-29.8l-0.5-5l-1.4-4.9l-2.3-5l3.6-9.9l2.5-5l3.2-5l4.2-4.9l3.5-5l9-9.9l7.5-10l1.2-24.8l-3-24.8l3.4-24.9l2.6-12.4l6.9 7.5l6.9 9.9l6.9 7.4l2.3 7.5l2.4 9.9l1.8 5l2.7 5l4.1 4.9l7.4 5l3.3 9.9l4.4 14.9l3.4 5l4.1 5l9.5 9.9l16.7 22.7l3.9 7.1l6 5l4.9 4.9l2.7 5l3.2 3.2l4.8 6.7l4.7 5l6.8 5l4.4 2.5l3 2.4l4.2 5l3.6 5l6.3 4.9l7.9 5l6.6 5l9.8 9.9l20.7 2.6l16.5 7.3l4.2 2.5l9.2 2.5l11.5 5.4l20.7-8.2l8-7.1l10.1-5l2.6-1.9l5.4-8l4.8-5l8.3-5l2.2-1.6l4.9-8.3l2.5-5l3.3-4.9l10-11.6l1.8-3.3l4-10l10-29.8l1.4-4.9l-1.6-5l-10.1-9.9l-5.5-6.8l-9.2-3.2l-11.5-5.2l-20.7-7.4l-8.3-12.2l-7.8-14.9l-2.3-5l-2.3-6.3l-6.5-8.6l-6.1-9.9l-4.6-9.9l-3.5-11.1l-2.7-3.8l-2.8-5l-4.5-5l-10.7-8.1l-6-1.8l-9.3-5l-9.5-9.9l-10.6-9.9l-3.9-5l-2.1-3.6l-2.3-1.4l-56.2 0l-3.6 8.3l-4.2 6.6l-4.7 10l-3.4 4.9l-4.2 5l-4.2 4.2l-5.7-4.2l-4.7-5l-3.4-4.9l-6.9-16.6l-3.5 1.7l-5.7 4.9l-2.9 5l-5.4 14.9l-3.2 14.9l-10.4-24.8l-2.6-10l-1.8-4.9l-2.5-5l-3.4-5l-164 0l-0.2 24.9l-1.4 12.4l0 190l3.8 6.2l2.3 4.9l3.6 10l2.5 4.9l3 5l3.6 5l1.9 1.9l20.7 3.6l20.7-0.1l20.7 9.7l8.3 4.7l12.4 9.5zM1057.9 139.2l0.9 3.3l0-107.6l-27.3 0l1.6 24.9l5 16.5l5.1 3.3l3.7 5l2.2 5l2.6 9.9l3.3 19.9l1.8 14.9z" clip-path="url(#p21d3d19bf5)" style="fill: #ffde00"/></g><g id="patch_71"><path d="M65.2 432.3l993.6 0l0-22.4l-20.7 2.5l-20.7-1.4l-20.7-0.9l-41.4-4.8l-20.7-1.9l-20.7-0.9l-20.7 1.2l-13.8-1.2l-6.9-0.8l-7.9-1.7l-8.3-2.5l-4.5-3.3l-13.9-4.1l-6.8-1.3l-13.1 6.2l-7.6 2.5l-20.7 0.4l-41.4-1.6l-20.7-2.5l-5.6-1.2l-15.1-2.5l-41.4 6.6l-20.7 3.9l-20.7 2.6l-41.4-2.4l-62.1 5l-20.7 0.4l-20.7-0.8l-20.7 0.4l-20.7 0.8l-41.4 3.3l-62.1 2.7l-20.7 0.2l-41.4-0.5l-20.7-1.5l-16.8-5.8l-3.9-1.1l-20.7-1.4l-15.2-5l-16.8-7.4l-8.6-5l-10.3-7.5l-11.2-6.9l-3.5-3l-7.9-9.9l-5.3-5l-8.2-5l-9.9-4.9l-6.6-1.7l-20.7-1.9l-20.7-5.1zM164.9 323l3.8 3l20.7 2l4-5l-1-5l-2.6-4.9l-0.4-0.7l-6.2-4.3l-3.2-5l-2-4.9l-1.1-5l-1-9.9l-0.3-34.8l-0.7-5l-1.7-4.9l-2.7-5l3.2-9.9l2.2-5l2.8-5l10.7-14.9l4.5-4.9l7.9-10l2.3-24.8l-2.9-24.8l4.5-29.8l1.9-10l2.5-9.9l6.9 5l4.9 4.9l3.7 5l2.9 5l2.3 4.9l2.9 5l1.7 5l1 4.9l1.3 10l1.8 4.9l2.6 5l3.6 5l5.8 4.9l2.9 5l3.2 9.9l4.2 14.9l3.6 5l13.7 14.9l14.2 19.9l3 4.9l2.5 5l6.1 5l4.8 4.9l2.5 5l1.4 1.4l6 8.5l4.9 5l6.9 5l2.9 1.6l4 3.3l7.7 10l6.3 4.9l8 5l6.4 5l9 9.2l20.7 2.9l6.9 2.8l10.4 4.9l3.4 2l11 3l9.7 4.7l20.7-8.4l7-6.2l9.5-5l4.2-3.1l4.6-6.8l4.5-5l8-5l3.6-2.7l4.2-7.2l2.4-5l3.2-4.9l7.9-10l3-2.8l1.1-2.1l5.8-14.9l8-24.9l1.2-4.9l-1.6-5l-9.9-9.9l-4.6-5.7l-12.2-4.3l-8.5-3.9l-20.7-7.2l-2.9-3.8l-6.2-9.9l-7.5-14.9l-4.1-9.9l-4-5l-3.4-5l-5.8-9.9l-4.5-9.9l-3-9.7l-3.7-5.2l-2.5-5l-4.5-5l-10-7.6l-7.8-2.3l-8.6-5l-9.4-9.9l-10.5-9.9l-3.9-5l-1.2-2.2l-4.6-2.8l-51.5 0l-4 10l-8 14.9l-3.1 4.9l-3.8 5l-4.7 5l-3.1 2.8l-4.6-2.8l-5.8-5l-4-5l-2.9-4.9l-3.4-8.3l-3.5 3.3l-3.4 5l-2.9 4.9l-4 10l-2.8 9.9l-4.1 8.3l-6.9-3.3l-3.5-5l-10.3-24.8l-1.8-5l-2.1-9.9l-1.3-10l-157.3 0l-0.2 24.9l-2.9 24.8l0 176.3l4.5 7.5l2.3 4.9l3.5 10l2.5 4.9l3.1 5l4.8 6l20.7 3.6l20.7-0.3l20.7 9.7l10.2 5.8zM1057.8 134.3l1 4.1l0-103.5l-26.4 0l1.5 24.9l4.2 13.8l3.1 1.1l6.3 4.9l2.4 5l1.6 5l2 9.9z" clip-path="url(#p21d3d19bf5)" style="fill: #ffd300"/></g><g id="patch_72"><path d="M65.2 432.3l993.6 0l0-22.1l-20.7 2.4l-10.4-0.2l-31-1.9l-41.4-4.8l-20.7-1.9l-20.7-0.9l-20.7 1.4l-20.7-1.8l-11.8-2.5l-19.6-5l-10-3.5l-5.5 3.5l-8.3 2.5l-6.9 0.6l-20.7 0.3l-41.4-1.5l-20.7-2.5l-8.3-1.8l-12.4-2.1l-41.4 6.6l-20.7 3.7l-20.7 2.7l-41.4-2.3l-62.1 5l-20.7 0.4l-20.7-0.8l-20.7 0.4l-20.7 0.8l-41.4 3.3l-62.1 2.6l-20.7 0.2l-41.4-0.5l-20.7-1.5l-20.7-7l-20.7-1.3l-1.5-0.3l-14.9-5l-11.6-4.9l-5.1-2.5l-8.5-5l-10.4-7.5l-10.1-6.2l-4.3-3.7l-7.9-9.9l-5.5-5l-8.4-5l-10.3-4.9l-5-1.3l-20.7-1.9l-20.7-5.2zM166.8 323l1.9 1.5l20.7 3.1l3.7-4.6l-1-5l-2.6-4.9l-7.1-5l-2.9-5l-1.9-4.9l-1.1-5l-0.9-9.9l-1.1-34.8l-0.9-5l-1.9-4.9l-3-5l2.7-9.9l1.9-5l2.5-5l9.9-14.9l3.7-4.9l8.2-10l1.8-9.9l1.8-14.9l-3-24.8l6.4-39.8l3.2-14.9l1.4-4.9l0.9-2.5l5.1-2.5l3.7-5l1.5-4.9l0-24.9l-150.5 0l-0.3 24.9l-4.4 37.2l0 162.7l2.6 3.7l2.7 5l2.2 4.9l3.4 10l2.6 4.9l3.1 5l4.1 5.2l20.7 3.5l20.7-0.6l3.2 1.8l17.5 8.1l12 6.8zM430 323l7.8 3.8l20.7-8.4l5.9-5.3l8.9-5l5.9-4.2l3.8-5.7l4.3-5l7.6-5l5-3.8l3.5-6.1l2.4-5l3-4.9l7.6-10l4.2-4l0.4-0.9l5.8-14.9l7.8-24.9l1.1-4.9l-1.7-5l-9.6-9.9l-3.8-4.7l-15.1-5.3l-5.6-2.5l-21-7.4l-3.8-5l-5.8-9.9l-7.3-14.9l-3.5-8.4l-5.1-6.5l-6.2-9.9l-2.6-5l-4.3-9.9l-2.5-8.2l-4.6-6.7l-2.4-5l-4.5-5l-9.2-7l-9.6-2.9l-7.9-5l-9.3-9.9l-10.4-9.9l-4.2-5.8l-6.9-4.2l-46.7 0l-3.6 10l-2.4 4.9l-8.4 14.9l-3.4 5l-4.3 5l-7.1 6.3l-3-1.4l-7.4-4.9l-4.7-5l-3.3-5l-2.3-4.9l-3.7 4.9l-2.9 5l-2.3 5l-3.6 9.9l-8.2 16.5l-6.9 3.4l-3.5 4.9l0 24.9l2.4 4.9l3.3 5l4.7 5l3.2 4.9l2.7 5l3 9.9l4 14.9l3.8 5l4 4.3l5.8 5.6l3.9 5l3.2 5l10.6 14.9l5 9.9l6.2 5l4.7 4.9l2.2 5l7.1 9.9l4.9 5l8.5 5.8l5 4.1l7.6 10l6.4 4.9l8.1 5l6.1 5l8.2 8.5l7.3 1.4l13.4 1.7l8 3.3l12.7 6.4zM1058.8 134.3l0-99.4l-25.4 0l1.3 24.9l3.4 11l11.1 3.9l2.7 4.9l2.8 14.9l1.3 14.9l1.3 10z" clip-path="url(#p21d3d19bf5)" style="fill: #ffcc00"/></g><g id="patch_73"><path d="M65.2 432.3l993.6 0l0-21.9l-20.7 2.4l-20.7-0.4l-20.7-1.4l-41.4-5l-20.7-1.7l-20.7-1.1l-20.7 1.6l-20.7-1.8l-15.8-3l-4.9-1.4l-10.4-1.1l-10.3-1.9l-6.9 1.9l-13.8 1.3l-20.7 0.1l-41.4-1.4l-20.7-2.5l-11.1-2.4l-9.6-1.6l-62.1 10.1l-20.7 2.6l-41.4-2l-62.1 4.9l-20.7 0.4l-20.7-0.7l-20.7 0.3l-20.7 0.9l-41.4 3.3l-62.1 2.4l-20.7 0.2l-41.4-0.5l-20.7-1.5l-20.7-7l-20.7-1.3l-3-0.6l-14.6-5l-11.6-4.9l-5-2.5l-8.5-5l-10.3-7.5l-9.1-5.4l-5.2-4.5l-3.6-5l-4.2-4.9l-5.7-5l-8.5-5l-10.9-4.9l-3.3-0.9l-20.7-2l-20.7-5.2zM168.7 323l20.7 4.2l3.4-4.2l-1.1-5l-2.3-4.5l-1.4-0.4l-6.4-5l-2.7-5l-1.8-4.9l-1.6-10l-0.6-9.9l-0.2-9.9l-0.9-10l-0.4-9.9l-1-5l-4.8-9.9l1.1-8.3l2-6.6l2.1-5l2.8-4.9l6.4-10l7.4-9.9l4.1-5l1.2-4.9l2-10l1.5-9.9l-2.9-24.8l3.6-19.9l2.6-19.9l3.4-19.8l2.9-10l2.3-4.9l1.7-5l2.1-9.9l1.3-10l-143.7 0l-0.4 24.9l-2.8 24.8l-3.1 24.8l0 149l3.5 5l2.5 5l3.9 9.9l1.6 5l2.6 4.9l3.2 5l3.4 4.3l20.7 3.5l20.7-0.8l5.2 2.9l15.5 7.1l4.5 2.9l9.3 4.9zM431.8 323l6 2.9l20.7-8.4l4.8-4.4l8.4-5l7.5-5.4l3-4.5l4.1-5l13.6-9.9l2.8-5l2.3-5l3-4.9l7.1-10l5.5-5.4l5.5-14.4l7.5-24.9l1-4.9l-1.7-5l-9.4-9.9l-2.9-3.6l-4.7-1.4l-16-6.2l-20.7-7.1l-1.6-1.6l-3.6-5l-5.5-9.9l-7.1-14.9l-2.9-7l-2.7-2.9l-3.5-5l-5.9-9.9l-2.5-5l-4-9.9l-2.1-6.7l-2.6-3.3l-2.9-4.9l-2.3-5l-4.4-5l-8.5-6.5l-11.3-3.4l-7.3-5l-5.2-4.9l-4-5l-10.3-9.9l-3.3-4.5l-1.5-0.5l-7.7-5l-42 0l-3.1 10l-2 4.9l-2.6 5l-3.2 5l-2.6 4.9l-3.2 5l-3.8 5l-4.8 4.9l-6.3 5l-10.4-5l-5.7-4.9l-4.6-6.7l-4 6.7l-4.3 9.9l-12.4 24.8l-3 5l-1.6 5l-1.1 4.9l-1.2 10l2.9 4.9l7.5 10l2.9 4.9l2.4 5l6.7 24.8l5.2 6.2l4.4 3.8l4.6 4.9l3.6 5l2.9 5l7.3 9.9l3.1 5l4.6 9.9l6.3 5l4.6 4.9l1.6 5l6.9 9.9l5.1 5l7.1 5l6 4.9l7.5 10l6.4 4.9l8.2 5l5.9 5l7.4 7.8l10.9 2.1l9.8 1.3l9.2 3.7l11.5 5.9zM1058.5 119.4l0.3 2.4l0-49.6l-1.6 2.5l-1 4.9l-0.4 5l0.9 9.9l0.7 14.9zM1037 64.7l1.1 3.3l13.8-3.3l1.7-4.9l5.2-24.9l-24.5 0l1.3 24.9z" clip-path="url(#p21d3d19bf5)" style="fill: #ffc100"/></g><g id="patch_74"><path d="M65.2 432.3l993.6 0l0-21.6l-20.7 2.3l-27-0.6l-14.4-1l-20.7-2.2l-11-1.7l-9.7-1.1l-20.7-1.7l-20.7-1.1l-20.7 1.6l-4.3-0.2l-16.4-1.5l-6.9-1l-13.8-2.8l-20.7-2.2l-20.7 1.9l-20.7 0.1l-41.4-1.6l-20.7-2.5l-20.7-4l-41.4 6.4l-20.7 3.6l-20.7 2.6l-20.7-1.2l-20.7-0.7l-62.1 4.9l-20.7 0.4l-20.7-0.7l-20.7 0.3l-20.7 0.9l-41.4 3.3l-62.1 2.4l-20.7 0.1l-41.4-0.5l-20.7-1.4l-20.7-7.2l-20.7-1.1l-4.5-1l-7.6-2.5l-12.7-5l-5.5-2.4l-9.4-5l-4.1-2.5l-10.3-7.5l-8.4-4.9l-5.6-5l-3.6-5l-4.2-4.9l-5.9-5l-8.7-5l-11.4-4.9l-1.6-0.5l-20.7-2l-20.7-5.3zM170.5 323l18.9 3.8l3.1-3.8l-1.1-5l-2-3.9l-3.3-1l-5.3-5l-2.5-5l-1.7-4.9l-1.5-10l-0.9-19.8l-1.2-10l-0.7-9.9l-1.1-5l-4.7-9.9l2.2-16.6l1.1-3.3l2.3-4.9l6.2-10l7.1-9.9l4-5l4-14.9l1.9-9.9l-3-24.8l4.8-24.9l3.5-34.7l1.4-10l4.6-19.8l3.5-10l-137 0l-0.5 24.9l-2.7 24.8l-4.7 37.2l0 135.8l1 0.8l3.3 5l2.5 5l3.8 9.9l1.4 5l2.7 4.9l6 8.4l20.7 3.5l20.7-1l7.3 4l13.4 6l6.1 4l9.5 4.9zM433.7 323l4.1 2l20.7-8.5l3.7-3.4l7.9-5l9.1-6.6l6.1-8.3l14.6-11.1l2.2-3.8l2.2-5l6.1-9.9l3.4-5l6.8-7l4.8-12.8l7.3-24.9l0.8-4.9l-1.8-5l-11.1-12.5l-8.2-2.4l-12.5-4.8l-20.7-7.1l-3-3l-3.4-5l-5.1-9.9l-9.2-20.5l-4-4.3l-3.3-5l-5.6-9.9l-2.3-5l-3.9-9.9l-1.6-5.2l-3.7-4.8l-2.8-4.9l-2.1-5l-4.3-5l-7.8-6l-13.1-3.9l-6.6-5l-5.4-4.9l-3.7-5l-10.2-9.9l-2.4-3.4l-5.1-1.6l-6.4-5l-37.2 0l-2.7 10l-1.7 4.9l-2.1 5l-2.8 5l-9.7 14.9l-4.3 4.9l-5.7 5l-5.1 8.3l-10.4-8.3l-7.4-5l-2.9-3.3l-16.6 33.1l-5.1 14.9l-2.5 10l7.4 9.9l3.2 5l2.6 4.9l2.1 5l6.3 24.8l2.6 3.1l2.5 1.9l5.6 5l4.2 4.9l3.2 5l2.6 5l7.3 9.9l2.9 5l4.2 9.9l6.4 5l2.5 2.7l1.5 2.2l1.5 5l6.7 9.9l5.2 5l7.1 5l5.8 4.9l7.3 10l6.3 4.8l8.4 5.1l5.7 5l6.6 7.1l14.6 2.8l6.1 0.8l10.3 4.2l10.4 5.4zM1037.9 64.7l0.2 0.6l2.3-0.6l8-4.9l5.2-24.9l-18.4 0l1.2 24.9z" clip-path="url(#p21d3d19bf5)" style="fill: #ffb600"/></g><g id="patch_75"><path d="M65.2 432.3l993.6 0l0-21.4l-20.7 2.3l-33.2-0.8l-27.2-2.5l-22.4-3.2l-20.7-1.6l-20.7-1.1l-20.7 1.6l-9.8-0.6l-10.9-1l-10.4-1.5l-10.3-2l-20.7-2.2l-20.7 1.7l-20.7 0l-41.4-1.7l-20.7-2.4l-20.7-4l-41.4 6.2l-20.7 3.6l-20.7 2.6l-20.7-1.2l-20.7-0.6l-62.1 5l-20.7 0.4l-20.7-0.7l-20.7 0.3l-20.7 0.9l-41.4 3.2l-62.1 2.3l-62.1-0.3l-20.7-1.5l-7-2.2l-13.7-5l-20.7-1.1l-6-1.3l-7.4-2.5l-12.6-5l-5.5-2.4l-9.2-5l-4.1-2.5l-10.3-7.5l-8.6-4.9l-5.3-5l-3.4-5l-4.4-4.9l-6-5l-8.8-5l-11.9-4.9l-20.7-2.1l-20.7-5.4zM172.4 323l17 3.5l2.8-3.5l-1.1-5l-1.7-3.3l-5.3-1.6l-4.1-5l-2.2-5l-1.6-4.9l-1.5-10l-1.1-19.8l-1.5-10l-0.9-9.9l-1.3-5l-4.5-9.9l1.7-14.9l1.6-9.9l9.2-14.9l7.3-10l4.2-12.4l2.9-12.4l-2.9-24.8l5.1-24.9l1.8-24.8l0-24.8l1.7-14.9l1.7-10l-125 0l-0.7 24.9l-0.4 4.9l-2.1 19.9l-6.3 49.7l0 122.4l2 1.7l3.2 5l4.3 9.9l3.1 10l2.8 4.9l5.3 7.5l20.7 3.5l20.7-1.2l9.3 5.1l11.4 5l7.7 5l9.8 4.9zM435.5 323l2.3 1.1l20.7-8.6l2.6-2.4l18.1-12.8l5.1-7.1l12.2-9.9l3.4-2.3l6.3-12.6l6.3-10l8.1-8.7l2.4-6.2l8.7-29.8l0.7-4.9l-1.8-5l-10-11.4l-11.7-3.5l-9-3.5l-20.7-7l-4.4-4.4l-3.1-5l-4.8-9.9l-1.9-5l-2.6-4.9l-3.9-9.1l-5.3-5.8l-3.1-5l-5.3-9.9l-2.2-5l-4.8-13.6l-4.9-6.3l-2.5-4.9l-1.9-5l-4.4-5l-7-5.4l-14.9-4.5l-11.6-9.9l-3.3-5l-10-9.9l-1.6-2.2l-8.6-2.8l-5.2-5l-32.5 0l-2.1 10l-1.4 4.9l-1.8 5l-4.9 9.9l-11 14.9l-5 5l-2.3 5l-2.9 4.9l-5.1 6.6l-20.7-16.5l-12.5 24.8l-4.5 14.9l-3.7 10l4.5 4.9l3.4 5l2.8 5l2.2 4.9l1.8 5l1.4 5l4.6 19.8l6.9 5l4.9 5l3.7 4.9l2.9 5l2.3 5l4.2 4.9l3.2 5l2.6 5l3.8 9.9l6.9 5.4l3.1 4.5l1.3 5l6.5 9.9l5.4 5l7 5l5.5 4.9l7.2 10l5.4 4.1l9.5 5.8l5.4 5l5.8 6.4l20.7 3.8l11.5 4.7l9.2 4.9zM1037.2 59.8l0.9 2.7l5.1-2.7l5.2-24.9l-12.2 0z" clip-path="url(#p21d3d19bf5)" style="fill: #ffae00"/></g><g id="patch_76"><path d="M65.2 432.3l993.6 0l0-21.1l-20.7 2.2l-39.4-1l-22.7-2.3l-20.7-3l-20.7-1.6l-20.7-1.2l-20.7 1.7l-15.3-1l-19.2-2.5l-6.9-1.3l-20.7-2l-20.7 1.2l-20.7 0l-41.4-1.6l-20.7-2.5l-7.8-1.3l-12.9-2.7l-41.4 6.1l-20.7 3.5l-20.7 2.6l-20.7-1.1l-20.7-0.5l-62.1 5l-20.7 0.4l-20.7-0.6l-20.7 0.3l-20.7 0.9l-41.4 3.1l-62.1 2.2l-62.1-0.3l-20.7-1.5l-8-2.5l-12.7-4.8l-20.7-1l-7.4-1.6l-7.3-2.5l-12.5-5l-5.4-2.4l-9.2-5l-4.1-2.5l-10.3-7.5l-8.6-4.9l-5-5l-3.4-5l-4.4-4.9l-5.2-4.3l-10-5.7l-10.7-4.4l-20.7-2.3l-20.7-5.4zM174.2 323l15.2 3.1l2.5-3.1l-1.1-5l-1.4-2.7l-7.2-2.2l-3-5l-2-5l-1.5-4.9l-0.9-5l-1.8-24.8l-1.8-10l-1-9.9l-1.5-5l-4.4-9.9l2.2-19.9l0.7-4.9l1.5-6.2l5.3-8.7l7.1-10l4.5-14.9l3.8-9.9l-1.9-9.9l-2.3-14.9l4.2-12.5l2.5-12.4l0.9-24.8l-1.5-14.9l-1.9-9.9l0-24.9l-113.1 0l-0.8 24.9l-2.4 24.8l-6.3 49.7l-1.6 24.8l0 96.7l3.1 2.6l3 5l4.1 9.9l3 10l2.8 4.9l4.7 6.6l20.7 3.6l20.7-1.4l11.3 6.1l9.4 4.1l9.3 5.9l10 4.9zM437.4 323l0.4 0.2l20.7-8.7l14.8-11.4l5.9-4l4.1-5.9l11.5-9.9l5.1-3.5l5.5-11.4l5.9-10l9.3-10.4l3.4-9.4l4.1-14.9l2.7-10l0.5-4.9l-1.8-5l-8.9-10.4l-15.3-4.5l-26.1-9.1l-5.7-5.8l-3-5l-4.4-9.9l-1.8-5l-5.8-12.6l-2.7-2.3l-3.8-4.9l-3.1-5l-2.5-5l-4.4-9.9l-4.2-12.1l-2.7-2.8l-3.3-5l-2.3-4.9l-1.8-5l-4.3-5l-6.3-4.9l-16.7-5l-6.3-5l-4.9-4.9l-2.8-5l-10.7-10.9l-12.2-4l-3.9-5l-27.8 0l-2.7 14.9l-1.4 5l-3.8 9.9l-2.7 5l-3.8 5l-3.8 3.7l-5.2 6.2l-3.9 9.9l-2.8 5l-3.7 5l-5.1 4.9l-20.7-16.5l-8.3 16.5l-4 14.9l-3.3 10l3.9 4.9l2.9 5l2.3 5l3.5 9.9l3 12.4l5.1 12.4l6.1 5l4.3 5l3.2 4.9l5.4 10l3.8 4.9l2.8 5l2.3 5l3.4 9.9l6.6 5l3.1 4.9l1.1 5l6.3 9.9l5.6 5l6.9 5l5.2 4.9l7.1 10l4.5 3.4l3.2 1.5l7.3 5l5.2 5l5 5.7l20.7 3.9l12.6 5.3l8.1 4.3l3.5 0.6zM1038.1 59.8l5.1-24.9l-6.1 0z" clip-path="url(#p21d3d19bf5)" style="fill: #ffa300"/></g><g id="patch_77"><path d="M65.2 432.3l993.6 0l0-20.9l-20.7 2.2l-41.4-1l-20.7-2.2l-20.7-2.9l-20.7-1.7l-20.7-1.1l-20.7 1.6l-20.7-1.3l-20.7-3.2l-20.7-1.8l-20.7 0.8l-20.7 0l-41.4-1.6l-20.7-2.5l-10.4-1.7l-10.3-2.2l-31.1 4.7l-10.3 1.3l-20.7 3.4l-20.7 2.6l-20.7-1.1l-20.7-0.4l-20.7 1.9l-41.4 3.2l-20.7 0.4l-20.7-0.6l-20.7 0.4l-20.7 0.8l-41.4 3l-20.7 1l-41.4 1.2l-62.1-0.4l-20.7-1.4l-9.1-2.9l-11.6-4.4l-20.7-1l-8.9-2l-13.6-5l-11.3-4.9l-9.1-5l-4.1-2.5l-10.2-7.5l-8.7-4.9l-4.8-5l-3.3-5l-4.4-4.9l-4.4-3.7l-11.2-6.3l-9.5-4l-20.7-2.3l-20.7-5.4zM176.1 323l13.3 2.7l2.2-2.7l-1.1-5l-1.1-2.1l-9.1-2.8l-3.7-10l-1.4-4.9l-0.8-5l-1.9-24.8l-2.1-10l-1.3-9.9l-5.9-14.9l2.5-24.8l3-12.4l8.2-12.5l4-14.9l3.3-9.9l-3.1-24.8l4.5-14.9l3.8-10l0-24.8l-2.9-14.9l-2.3-9.9l-1.7-24.9l-104.6 0l-0.9 24.9l-1.3 14.9l-1 9.9l-6.4 49.7l-1.3 24.8l-1.8 12.4l0 83.4l4.1 3.5l2.9 5l3.9 9.9l2.9 10l2.8 4.9l4.1 5.7l20.7 3.5l20.7-1.4l13.4 7.1l7.3 3.2l10.9 6.8l9.8 4.8l1.3 0.1zM424.1 318l13.7 4.2l20.7-8.6l13.1-10.5l7.6-5.3l3.1-4.6l10.8-9.9l6.8-4.7l2.1-5.3l8-14.9l8.2-9.9l2.4-2.2l2.7-7.7l4-14.9l2.5-10l0.5-4.9l-1.9-5l-7.8-9.2l-18.8-5.7l-22.6-7.7l-2.9-2.2l-4.2-5l-2.7-5l-4.1-9.9l-1.7-5l-5.1-11.1l-4.3-3.8l-3.5-4.9l-2.9-5l-4.5-9.9l-5.5-15.6l-4.2-4.3l-2.9-5l-2.2-4.9l-1.6-5l-4.2-5l-5.6-4.3l-4.3-0.6l-14.2-5l-6.5-5l-4.2-4.9l-2.5-5l-9.7-9.8l-1.9-0.1l-13.9-5l-2.6-5l-23 0l-1.2 10l-1.7 9.9l-2.8 9.9l-2 5l-2.7 5l-4 4.9l-6.3 5l-2.6 9.9l-1.9 5l-2.4 5l-3.5 4.9l-5.2 5l-5.1 3.3l-5.2-3.3l-5.2-5l-10.3-8.3l-4.2 8.3l-3.4 14.9l-2.8 10l3.2 4.9l2.4 5l1.9 5l2.9 9.9l4.8 9.9l5.5 14.9l5.2 5l7.1 9.9l2.9 5l2.1 5l3.3 4.9l2.5 5l2 5l3 9.9l6.5 5l2.7 4.9l0.9 5l6.3 9.9l5.6 5l7 5l4.8 4.9l7 10l3.6 2.7l4.7 2.2l6.9 5l4.9 5l4.2 4.9l20.7 4l13.8 6l6.9 3.7z" clip-path="url(#p21d3d19bf5)" style="fill: #ff9c00"/></g><g id="patch_78"><path d="M65.2 432.3l993.6 0l0-20.6l-20.7 2.1l-41.4-1l-20.7-2.1l-20.7-3l-20.7-1.6l-20.7-1l-20.7 1.6l-24.2-1.7l-17.2-2.5l-20.7-1.9l-20.7 0.6l-20.7 0l-41.4-1.6l-20.7-2.5l-13-2.1l-7.7-1.6l-10.4 1.6l-31 4.1l-20.7 3.4l-20.7 2.6l-20.7-1.1l-20.7-0.3l-20.7 2.1l-41.4 3.1l-20.7 0.4l-20.7-0.5l-20.7 0.3l-20.7 0.8l-41.4 3.2l-20.7 0.8l-41.4 1l-62.1-0.3l-20.7-1.4l-10.1-3.3l-10.6-4.1l-20.7-1l-10.4-2.3l-13.4-5l-11.1-4.9l-9.2-5l-3.9-2.5l-10.3-7.5l-8.8-4.9l-4.4-5l-3.3-5l-4.4-4.9l-3.6-3l-12.3-7l-8.4-3.5l-20.7-2.5l-20.7-5.4zM177.9 323l11.5 2.3l1.9-2.3l-1.1-5l-0.8-1.5l-11-3.4l-0.8-5l-2.9-9.9l-0.7-5l-1.5-19.9l-1.5-9.9l-1.5-5l-1.7-9.9l-5.7-14.9l2.1-24.8l2-10l2.5-8.7l4.1-6.2l3.4-14.9l2.8-9.9l-2.1-24.8l4-14.9l3.3-10l1-24.8l-3.4-14.9l-2.8-9.9l-1.8-14.9l-1.6-10l-96.1 0l-1 24.9l-2.2 24.8l-6.4 49.7l-1 24.8l-3.7 24.8l0 70.1l5.1 4.4l2.8 5l3.6 9.9l2.8 10l3 4.9l3.4 4.8l20.7 3.4l20.7-1.4l15.4 8.1l5.3 2.3l12.5 7.7l8.2 4l6.7 0.9zM427.7 318l10.1 3.1l20.7-8.7l17.7-14.2l3-1.9l2.1-3.1l10.1-9.9l8.5-6.4l1.3-3.6l7.5-14.9l7.7-9.9l4.2-3.9l1.9-6l5.2-19.9l1.2-5l0.3-4.9l-2-5l-6.6-7.9l-22.9-7l-18.5-6.3l-4.6-3.6l-3.8-5l-2.5-5l-5.4-14.9l-4.4-9.7l-5.9-5.2l-3.2-4.9l-2.7-5l-4.2-9.9l-4.7-14.1l-5.6-5.8l-2.7-5l-1.9-4.9l-1.4-5l-4.3-5l-4.8-3.7l-8.1-1.2l-12.2-5l-6.8-5l-3.5-4.9l-2.1-5l-8.7-8.9l-12.4-1l-6.9-5l-1.4-5l-6.9 5l-5 5l-3.7 4.9l-2.8 5l-2.3 5l-2.2 9.9l-1.7 5l-2.5 4.9l-4 5l-2.6 9.9l-1.8 5l-2.5 5l-3.4 4.9l-2.6 5l-4.3 5l-8.7 4.9l-5.1 1.7l-5.2-1.7l-8.6-4.9l-4.4-5l-2.5-5l-2.9 14.9l-2.3 10l2.5 4.9l2.7 7.5l2.3 2.5l2.8 4.9l5.8 14.9l4.6 14.9l5.2 6.2l3.7 3.8l3.2 4.9l2 5l1.4 5l2.9 4.9l2.2 5l1.7 5l2.6 9.9l6.5 5l2.3 4.9l0.7 5l6.1 9.9l5.8 5l6.9 5l4.5 4.9l6.9 10l2.7 2l6.2 2.9l6.4 5l8.1 9l20.7 4.1l4.6 1.8l16.1 8.1z" clip-path="url(#p21d3d19bf5)" style="fill: #ff9100"/></g><g id="patch_79"><path d="M65.2 432.3l993.6 0l0-20.4l-20.7 2.1l-41.4-0.9l-20.7-2.1l-20.7-3.1l-20.7-1.5l-20.7-1l-20.7 1.6l-20.7-1.4l-20.7-2.6l-20.7-1.9l-20.7 0.6l-20.7-0.1l-41.4-1.6l-20.7-2.5l-20.7-3.6l-41.4 5.5l-20.7 3.4l-20.7 2.6l-20.7-1.1l-20.7-0.2l-20.7 2.2l-41.4 3.1l-20.7 0.4l-20.7-0.5l-20.7 0.4l-41.4 2.2l-20.7 1.9l-62.1 1.7l-62.1-0.6l-20.7-1.3l-11.2-3.7l-9.5-3.7l-20.7-1l-11.9-2.7l-13.3-5l-10.9-4.9l-9.1-5l-3.9-2.5l-10.2-7.5l-8.9-4.9l-4.2-5l-3.2-5l-4.4-4.9l-2.8-2.3l-13.5-7.7l-7.2-3l-20.7-2.6l-20.7-5.5zM179.8 323l9.6 2l1.6-2l-1.1-5l-0.5-0.9l-8.6 0.9zM431.2 318l6.6 2l20.7-9l15.4-12.8l5.3-3.4l1-1.6l9.5-9.9l10.2-8.4l7.5-16.5l7.2-9.9l6-5.8l6.3-24l1.1-5l0.1-4.9l-2-5l-5.5-6.6l-27.8-8.3l-13.6-4.9l-6.4-5l-3.4-5l-2.3-5l-4.9-14.9l-3.7-8.2l-2.6-1.7l-5-5l-2.8-4.9l-2.5-5l-3.9-9.9l-3.9-12.6l-3-2.3l-4-5l-2.4-5l-1.8-4.9l-1.2-5l-4.2-5l-4.1-3.2l-11.9-1.7l-11.2-5l-6-5l-2.9-4.9l-1.7-5l-7.7-8l-20.7 0.5l-6.9 7.5l-3.5 5l-2.6 9.9l-1.8 5l-2.5 4.9l-3.4 5l0 24.8l3.4 10l3.5 14.9l-6.9 24.8l-6.9-5l-5-4.9l-3.7-5l-2.8-5l-2.3-4.9l-20.7 0l-6.9 4.9l0 14.9l0 5l3.2 9.9l3.7 14.9l6.9 5l3.1 5l1.8 4.9l2 10l2.4 4.9l1.8 5l4.3 14.9l5.9 5l1.9 4.9l0.5 5l2.7 5l3.2 4.9l4.9 4.2l1.5 0.8l6.4 5l4.2 4.9l6.8 10l1.8 1.4l7.6 3.5l6 5l7.1 8l20.7 4.3l6.6 2.6l14.1 7.5zM162.1 313.1l6.6 3.2l7.8-3.2l0.3-5l-2.5-9.9l-0.7-5l-1.6-19.9l-0.6-4.9l-5-19.9l-5.4-14.9l1.3-19.9l1.3-9.9l2-9.9l3.1-10l2.8-14.9l2.3-9.9l-1-24.8l3.4-14.9l2.8-10l2.1-24.8l-4-14.9l-3.3-9.9l-2.7-14.9l-2.4-10l-87.6 0l-1.2 24.9l-2 24.8l-6.4 49.7l-0.7 24.8l-3.6 24.8l-2 8.3l0 60.9l6.2 5.3l2.5 5l1.9 5l4.3 14.9l5.8 8.8l20.7 3.3l20.7-1.4l7.6 4.2l13.1 6.4z" clip-path="url(#p21d3d19bf5)" style="fill: #ff8900"/></g><g id="patch_80"><path d="M65.2 432.3l993.6 0l0-20.1l-20.7 2l-41.4-0.9l-20.7-2l-20.7-3.1l-41.4-2.5l-20.7 1.7l-20.7-1.4l-10.4-1l-10.3-1.5l-20.7-1.8l-20.7 0.4l-20.7-0.1l-41.4-1.6l-24.1-2.9l-17.3-3l-41.4 5.2l-20.7 3.4l-20.7 2.6l-20.7-1l-20.7-0.1l-20.7 2.3l-20.7 1.7l-20.7 1.3l-20.7 0.7l-20.7-0.7l-20.7 0.5l-41.4 2l-20.7 2l-62.1 1.7l-41.4-0.7l-20.7 0l-20.7-1.4l-5.4-1.6l-15.3-5.9l-20.7-0.9l-13.3-3.1l-13.2-5l-10.7-4.9l-9.1-5l-14.1-10l-9-4.9l-3.9-5l-3-5l-4.5-4.9l-2-1.7l-14.6-8.3l-6.1-2.5l-20.7-2.8l-20.7-5.5zM181.6 323l7.8 1.6l1.3-1.6l-1.3-5.3l-3.2 0.3zM434.7 318l3.1 1l20.7-9.3l8-6.6l5-4.9l7.7-4.9l8.9-10l11.8-10.4l6.2-14.5l3.1-4.9l3.5-5l7.9-8.1l5.4-21.7l1-5l0-4.9l-2-5l-4.4-5.3l-32.6-9.6l-8.8-3.1l-2.6-1.9l-5.5-4.9l-3.1-5l-2-5l-4.5-14.9l-3-6.7l-4.9-3.2l-4.3-5l-4.8-9.9l-3.6-9.9l-3.1-11.1l-4.9-3.8l-3.6-5l-2.1-5l-2.6-9.9l-4.1-5l-3.4-2.6l-15.7-2.3l-10.6-5l-4.9-5l-2.1-4.9l-1.4-5l-6.7-7.1l-15.5 2.1l-4.1 5l-1.1 5l0 24.8l-3.5 5l-2.5 4.9l-1.8 5l-2.6 9.9l1.7 10l1.8 14.9l-6.9 24.8l-6.9 8.3l-13.8 1.6l-6.9 2.5l-3 2.5l-2.7 5l-1.2 4.9l1.7 5l0.8 5l0.9 14.9l5.3 14.9l2.9 9.9l4.8 5l1.4 4.9l0.4 5l2.5 5l3.2 4.9l3.7 3.1l3.4 1.9l5.8 5l4 4.9l6.6 10l0.9 0.7l9.1 4.2l5.6 5l6 7.1l20.7 4.4l8.6 3.4l12.1 6.8zM163.7 313.1l5 2.4l5.8-2.4l1.5-5l-2.2-9.9l-2.2-24.9l-0.8-4.9l-2.1-7.9l-1.6-2.1l-2.1-9.9l-5.1-14.9l1.4-24.8l2.5-14.9l2.6-10l1-14.9l1.3-9.9l0-24.8l2.8-14.9l2.3-10l3.1-24.8l-4.5-14.9l-3.7-9.9l-1.2-10l-2.2-9.9l-1.8-5l-80.8 0l-1.3 24.9l-1.9 24.8l-6.4 49.7l-0.4 24.8l-3.4 24.8l-4.1 16.6l0 51.7l1.9 1.3l5.3 4.9l2.4 5l1.8 5l4.1 14.9l5.2 8l20.7 3.1l20.7-1.4l9.4 5.2l11.3 5.5z" clip-path="url(#p21d3d19bf5)" style="fill: #ff7e00"/></g><g id="patch_81"><path d="M65.2 432.3l993.6 0l0-19.9l-20.7 2l-41.4-0.8l-20.7-2l-20.7-3.2l-41.4-2.4l-20.7 1.7l-20.7-1.4l-20.7-2.3l-20.7-1.8l-41.4 0.2l-41.4-1.7l-27.4-3.2l-14-2.5l-41.4 5l-20.7 3.4l-20.7 2.6l-20.7-1l-20.7 0l-20.7 2.5l-41.4 3.6l-20.7 0.4l-20.7-0.5l-20.7 0.4l-27.1 1l-35 2.8l-62.1 1.5l-41.4-0.8l-20.7 0l-20.7-1.5l-6.8-2l-13.9-5.5l-20.7-0.9l-14.8-3.5l-13-5l-10.6-4.9l-9.1-5l-13.9-10l-9.1-4.9l-3.6-5l-3-5l-4.5-4.9l-1.2-1l-15.8-9l-4.9-2l-20.7-2.9l-20.7-5.6zM183.5 323l5.9 1.2l0.9-1.2l-0.9-4.4zM165.4 313.1l3.3 1.6l3.9-1.6l2.6-5l-1.9-9.9l-2.2-24.9l-0.9-4.9l-1.5-5.8l-3.2-4.2l-1.9-9.9l-4.7-14.9l0.9-24.8l2.1-14.9l2.2-10l0.4-24.8l-1.3-14.9l-1.4-9.9l3.2-10l2.6-9.9l2.9-14.9l2.3-14.9l-4.1-12.4l-3.1-17.4l-2.5-9.9l-1.9-5l-2.9-5l-31 0l0 24.9l0-24.9l-43 0l-1.4 24.9l-1.8 24.8l-6.4 49.7l-0.1 24.8l-3.2 24.8l-3.4 14.9l-2.8 10l0 42.5l3.2 2.2l5 4.9l2.3 5l1.6 5l4 14.9l4.6 7.1l20.7 3l20.7-1.3l2.5 1.1l8.7 5l10.3 4.9zM414.8 313.1l2.3 1.2l20.7 3.6l20.7-9.6l6.2-5.2l4.4-4.9l6.8-5l3.3-1.6l7.2-8.3l4.7-5l5.3-5l3.5-2.3l5-12.6l2.8-4.9l3.2-5l4.1-5l5.6-5.6l3.5-14.2l2-10l-0.2-4.9l-2-5l-3.3-3.9l-37.5-11l-3.9-1.4l-5.1-3.6l-4.8-4.9l-2.6-5l-1.9-5l-3.9-14.9l-2.4-5.3l-7.2-4.6l-3.7-5l-4.2-9.9l-3.3-9.9l-2.3-9.2l-6.8-5.7l-3.1-5l-1.8-5l-2.2-9.9l-4.1-5l-2.7-2.1l-19.6-2.8l-9.9-5l-3.7-5l-1.5-4.9l-1-5l-5.7-6.2l-8.9 1.2l-7.8 5l-0.6 5l0.7 4.9l1 19.9l-2.5 14.9l-2.6 9.9l0 24.9l-6.9 24.8l-7.5 9.9l-6.3 6.7l-7.6 3.3l-6.2 4.9l-2.8 5l-1.7 5l-1.1 4.9l-1.3 10l4.1 9.9l1.5 5l2.3 9.9l3.6 5l1 4.9l0.2 5l2.4 5l3.1 4.9l2.5 2.1l5.3 2.9l5.3 5l10.1 14.9l10.6 4.9l5.1 5l5 6.1l20.7 4.6l10.6 4.2z" clip-path="url(#p21d3d19bf5)" style="fill: #ff7700"/></g><g id="patch_82"><path d="M65.2 432.3l993.6 0l0-19.6l-20.7 1.9l-41.4-0.8l-20.7-1.9l-20.7-3.2l-41.4-2.4l-20.7 1.7l-20.7-1.3l-20.7-2.2l-20.7-1.7l-41.4 0l-41.4-1.7l-20.7-2.2l-20.7-3.3l-41.4 4.7l-20.7 3.4l-20.7 2.6l-20.7-0.9l-20.7 0l-17.3 2.1l-3.4 1.1l-18.3 1.3l-23.1 2.3l-62.1 0.2l-62.1 3.7l-62.1 1.2l-41.4-0.8l-20.7 0l-20.7-1.7l-8.1-2.4l-12.6-5.2l-20.7-0.7l-7.1-1.5l-9.2-2.5l-6.6-2.5l-11.6-5l-9.7-4.9l-8.1-5l-9.8-7.2l-9.6-5.2l-6.2-10l-4.5-4.9l-17.3-10l-3.8-1.5l-20.7-2.8l-20.7-5.9zM185.3 323l4.1 0.8l0.6-0.8l-0.6-3zM167 313.1l1.7 0.8l2-0.8l3.6-5l-1.4-9.9l-2.3-24.9l-0.9-4.9l-1-3.8l-4.8-6.2l-1.8-9.9l-4.3-14.9l0.5-24.8l1.7-14.9l1.8-10l-1.4-24.8l-2.6-14.9l-2.9-9.9l4-10l3.2-9.9l3.7-14.9l2.9-14.9l-2.5-9.9l-2.1-14.9l-2.5-10l-1.9-4.9l-2.6-5l-4-5l-15.5 0l-3.9 5l-1.7 5l-1 4.9l-1.2 10l-2.5 6.2l-12.5 3.7l-2 5l-1.1 9.9l-2.3 9.9l-2.8 14.9l-3.7-14.9l-3.2-9.9l1.2-9.9l1.1-5l1.6-5l3-4.9l5.9-5l3.3-5l2.1-4.9l2.5-10l-34.5 0l-3.2 49.7l-6.4 49.7l0.2 24.8l-3.1 24.8l-1.9 10l-3.8 14.9l-2.5 12.4l0 29.3l4.6 3l4.7 4.9l2.1 5l1.5 5l3.7 14.9l4.1 6.2l20.7 2.8l20.7-1l4.7 1.9l8.3 5l10.4 4.9l7.6 5zM415.9 313.1l1.2 0.6l20.7 2.8l7.6-3.4l9.2-5l3.9-1.2l4.5-3.8l3.7-4.9l5.7-5l6.8-3.3l9.6-11.6l4.7-5l6.4-4.3l3.7-10.6l5.5-9.9l3.5-5l8-8.9l2.7-10.9l1.8-10l-0.2-4.9l-2.2-5l-2.1-2.6l-26.6-7.3l-14.8-4.7l-7.6-5.3l-4.1-4.9l-2.2-5l-1.6-5l-3.5-14.9l-1.7-3.8l-2.9-1.1l-6.5-5l-3.1-5l-3.7-9.9l-4.5-16.2l-8.8-8.6l-2.5-5l-1.6-5l-1.8-9.9l-4.1-5l-1.9-1.5l-20.7-1.6l-4.5-1.8l-7.5-5l-2.6-5l-1.4-9.9l-4.7-5.3l-2.3 0.3l-11.6 5l0.1 5l1.3 4.9l2.1 19.9l-1 14.9l-1.1 9.9l2.1 24.9l-10.3 24.8l-3 5l-3.4 4.9l-4 5l-4.7 5l-11.8 9.9l-3.8 5l-2.5 4.9l-3.1 10l3.1 9.9l2.9 14.9l2.4 5l0.6 4.9l-0.1 5l2.4 5l3 4.9l1.3 1.1l7.2 3.9l4.7 5l8.8 13.5l12.1 6.3l4.6 5l4 5.2l20.7 4.7l12.6 5z" clip-path="url(#p21d3d19bf5)" style="fill: #ff6c00"/></g><g id="patch_83"><path d="M65.2 432.3l993.6 0l0-19.4l-20.7 2l-41.4-0.8l-20.7-1.9l-20.7-3.3l-41.4-2.3l-20.7 1.7l-20.7-1.3l-41.4-3.7l-41.4-0.2l-41.4-1.6l-20.7-2.2l-20.7-3.1l-41.4 4.5l-20.7 3.3l-20.7 2.6l-20.7-0.8l-20.7 0l-13.8 1.7l-6.9 2.2l-29.5 2.7l-11.9 1.5l-62.1 0.2l-41.4 2.3l-20.7 0.7l-62.1 0.9l-41.4-1l-20.7 0l-20.7-1.7l-9.5-2.9l-11.2-4.8l-20.7-0.7l-9.1-1.9l-8.7-2.5l-6.6-2.5l-11.4-5l-9.6-4.9l-8-5l-3-2.5l-5.7-4l-2.7-1l-8-4.9l-5.9-10l-4.1-4.5l-18.1-10.4l-2.6-1.1l-20.7-2.5l-5.7-1.3l-15-5zM187.1 323l2.3 0.5l0.3-0.5l-0.3-1.6zM168.6 313.1l4.9-5l-1.6-14.9l-0.6-9.9l-1.2-10l-1.4-6.6l-3.2-3.3l-3.2-5l-1.6-9.9l-4-14.9l0.1-24.8l1.3-14.9l1.4-10l-0.4-4.9l-1.9-14.9l-2-10l-2.9-9.9l-1.9-5l-2.4-4.9l4.8-10l3.9-9.9l4.4-14.9l3.4-14.9l-1.5-9.9l-1.2-14.9l-1.4-5l-1.8-5l-2.4-4.9l-3.3-5l-4.9-5l-7.8 5l-3.5 5l-2 4.9l-2.3 10l-1.5 4.9l-2.2 5l-1.4 2.5l-4.2 2.5l-4.1 4.9l-2.1 5l-1.5 5l-4.7 19.8l-4.1 8.3l-5.2-8.3l-4.6-14.9l-4-9.9l-1.3-9.9l-1-5l-1.7-5l-2.9-4.9l-1.6 24.8l-6.4 49.7l0.4 24.8l-0.5 5l-2.3 19.8l-0.9 5l-9.4 44.7l0 16l6 3.9l4.3 4.9l1.9 5l1.5 5l3.5 14.9l3.5 5.3l20.7 2.6l20.7-0.8l6.9 2.8l7.9 5l10.6 4.9l7.1 5zM417.1 313.1l20.7 2.1l4.6-2.1l7.7-5l8.4-2.6l2.8-2.4l3-4.9l4.6-5l10.3-5l7.2-9.9l4.2-5l9.3-7.2l2.4-7.7l5-9.9l2.9-5l3.8-4.9l4.1-5l2.5-2.3l1.8-7.6l1.8-10l-0.4-4.9l-2.2-5l-1-1.2l-14.6-3.8l-26.8-7.8l-4.4-2.1l-5.7-5l-3.3-4.9l-1.9-5l-1.4-5l-3-14.9l-1-2.3l-6.4-2.6l-5.3-5l-2.5-5l-3.1-9.9l-3.4-13.2l-2.2-1.7l-8.5-9.9l-2.1-5l-1.2-5l-1.5-9.9l-4-5l-1.2-0.9l-20.7 0.5l-11-4.5l-4.2-5l-1.4-5l-0.3-9.9l-3.8-4.3l-11 4.3l0.7 5l1.9 4.9l3.2 19.9l1 24.8l2.3 14.9l1.9 10l-10.4 24.8l-3.4 5l-6.9 7.4l-5.7 7.5l-4.7 4.9l-10.3 8.3l-1.7 1.7l-3.9 4.9l-2.7 5l-2.1 5l2.1 9.9l1.9 14.9l1.2 5l-0.1 9.9l2.2 5l3.1 4.9l9.2 5l4 5l7.5 12.1l13.6 7.7l7.1 8.9l20.7 4.7l3.9 1.3l10.8 5zM101.4 44.9l5.2 2.4l1.8-2.4l2.9-5l2.2-5l-17.3 0l1.5 5z" clip-path="url(#p21d3d19bf5)" style="fill: #ff6000"/></g><g id="patch_84"><path d="M65.2 432.3l993.6 0l0-19.1l-20.7 1.9l-41.4-0.8l-20.7-1.8l-20.7-3.3l-41.4-2.3l-20.7 1.7l-20.7-1.3l-20.7-1.9l-20.7-1.5l-41.4-0.4l-41.4-1.7l-20.7-2l-20.7-3l-41.4 4.2l-20.7 3.3l-20.7 2.6l-20.7-0.7l-20.7 0l-10.4 1.3l-10.3 3.3l-16.5 1.6l-24.9 3.2l-62.1 0.1l-20.7 1.5l-20.7 0.6l-62.1 0.8l-20.7 0.1l-41.4-1.2l-20.7 0l-20.7-1.6l-10.8-3.5l-9.9-4.3l-20.7-0.8l-11.1-2.3l-8.2-2.5l-6.6-2.5l-5.9-2.5l-14.8-7.4l-7.9-5l-2.9-2.5l-4.7-3.3l-4.7-1.7l-7.1-4.9l-5.6-10l-3.3-3.6l-19.3-11.3l-1.4-0.6l-20.7-2.3l-8.5-2l-12.2-4.1zM189 323l0.4 0.1l0-0.4zM429.9 313.1l7.9 0.8l1.7-0.8l6.1-5l12.9-4l1.1-1l2.3-4.9l3.5-5l7.8-5l6-2.2l2.1-2.7l2.8-5l3.6-5l12.2-10.8l1.1-4.1l2-4.9l4.8-10l6.6-9.9l6.2-5.6l1-4.3l1.7-10l-0.6-4.9l-2.1-4.8l-37.7-10.1l-3.7-1.2l-8.1-3.8l-4.5-5l-2.6-4.9l-2.6-10l-2.9-15.7l-10-4.1l-3.9-5l-1.9-5l-4.9-19.9l-6-4.9l-6.6-9.9l-1.6-5l-1-5l-1.1-9.9l-4.4-5.4l-9.2 0.4l-11.5 2.3l-16-2.3l-1.5-4.9l-0.8-5l-0.4-5l0.8-9.9l-2.8-3.2l-8.2 3.2l1.4 5l2.6 4.9l4.2 20l3.4 9.8l2.5 10l2.6 14.9l1.8 14.9l-1.1 4.9l-3.3 10l-2.5 4.9l-3.4 5l-2.3 5l-2.9 4.9l-3.7 5l-4.9 5l-6.9 4.9l-20.7 16.6l-2.4 3.3l-2.8 5l1 9.9l1 14.9l0 5l-0.7 9.9l2.1 5l1.8 2.9l11.1 7l3.5 5l6.1 10.7l7.7 4.2l7.3 4.9l5.7 7.5l20.7 4.7l7.9 2.7l8.8 5l4 3.3zM161.2 308.1l7.5 4.2l4-4.2l-0.1-5l-1.1-9.9l-0.6-9.9l-1.3-10l-0.9-4.5l-5.1-5.4l-2.9-5l-1.4-9.9l-3.7-14.9l-0.2-24.8l1.8-24.9l-2.3-14.9l-4.2-14.9l-2.7-7.4l-2.6-12.4l0.7-5l1.9-7.5l3.2-7.4l3.7-9.9l3-10l2.5-9.9l-0.9-24.8l-1.7-5l-2.2-5l-2.8-4.9l-4.8-5.8l-1.3 0.8l-5.3 5l-3.1 4.9l-1.9 5l-4 14.9l-2.3 5l-8 9.9l-3.3 9.9l-4 14.9l-5.2 10l-3 6.6l-4.6-6.6l-5.8-10l-5.5-14.9l-4.8-9.9l-6.4 49.7l0.7 24.8l-2.6 24.8l-2.6 14.9l-7.3 34.8l-2.5 3.1l0 12l7.3 4.8l4 4.9l1.8 5l1.3 5l3.4 14.9l2.9 4.4l20.7 2.3l20.7-0.5l9 3.7l7.7 5l10.7 4.9z" clip-path="url(#p21d3d19bf5)" style="fill: #ff5900"/></g><g id="patch_85"><path d="M65.2 429.8l0 2.5l20.7 0l20.7-1.8l20.7 1.8l931.5 0l0-18.9l-20.7 1.9l-41.4-0.7l-20.7-1.8l-20.7-3.4l-41.4-2.2l-20.7 1.7l-20.7-1.2l-20.7-1.9l-20.7-1.4l-41.4-0.5l-41.4-1.7l-20.7-1.9l-20.7-2.9l-41.4 3.9l-20.7 3.3l-20.7 2.6l-20.7-0.6l-20.7 0l-6.9 0.9l-13.8 4.4l-25.4 3l-16 2.4l-62.1 0.1l-20.7 2.1l-20.7 0.1l-82.8-0.1l-41.4-1.3l-20.7 0l-20.7-1.6l-12.2-4.2l-8.5-3.9l-20.7-0.7l-2.1-0.3l-11.1-2.5l-14.1-5l-5.8-2.5l-14.7-7.4l-7.7-5l-2.9-2.5l-3.7-2.6l-6.7-2.4l-6.3-4.9l-5.1-10l-2.6-2.8l-20.4-12.1l-21-2.3l-11.3-2.6l-9.4-3.1zM162.7 308.1l6 3.4l3.2-3.4l0.2-5l-1-9.9l-0.5-9.9l-1.9-12.2l-3.1-2.7l-4-5l-2.5-5l-1.2-9.9l-3.4-14.9l-0.6-24.8l1-24.9l-1.9-9.9l-1.3-5l-1.6-4.9l-2.1-5l-5.2-24.8l0.7-10l0.7-4.9l1.2-5l2.6-5l5.4-14.9l2.8-9.9l0.3-5l0.7-19.8l-2-5l-2.5-5l-4.7-6.6l-1.9 1.7l-4.1 4.9l-2.6 5l-1.8 5l-1.5 9.9l-1.3 5l-2.4 4.9l-5.1 5l-3.8 9.9l-4.5 14.9l-5.5 10l-6.9 14.9l-3.9-5l-6.5-9.9l-5.2-10l-5.1-12.4l-4.8 37.3l1 24.8l-2.4 24.8l-3.2 19.9l-6.2 29.8l-5.1 6.2l0 6.7l1.6 2l7.1 5l3.7 4.9l1.6 5l4.4 19.9l2.3 3.5l20.7 2.1l20.7-0.3l11.2 4.6l7.3 5l10.9 4.9zM415.1 308.1l2 1.7l20.7 1.6l3.3-3.3l13.7-5l3.7-2.1l3.4-7.8l5.4-5l11.9-4.4l2.5-5.5l3.1-5l15.1-15.2l5.6-14.6l5.3-9.9l3.9-5l5.9-3.9l1.7-11l-0.7-4.9l-1-2.4l-7.5-2.6l-13.2-3.5l-7.3-1.5l-13.4-4l-2.4-0.9l-9.4-5l-3.2-5l-1.9-4.9l-2-10l-1.8-12.4l-4-2.5l-9.6-4.9l-2.6-5l-4.5-21.1l-5.7-3.7l-4.2-5l-4.6-9.9l-1.1-5l-0.7-5l-0.7-9.9l-3.7-4.7l-20.7 4.7l0 74.5l-20.7 24.8l-20.7 8.3l-20.7 16.6l0 24.8l-1.2 5l-1.3 9.9l2.5 5.8l6.9 4.1l6.1 5l7.7 14.2l1.7 0.7l8.6 5l6.2 4.9l4.2 6.1l20.7 4.7l11.9 4.1zM437.8 258.4l-4.5-4.9l-1.7-5l3.9-5l2.3-1.6l8.2 6.6l-1.3 5zM375.6 64.7l1.3-4.9l0.6-5l-1.8-2.1l-5.3 2.1l2 5z" clip-path="url(#p21d3d19bf5)" style="fill: #ff4e00"/></g><g id="patch_86"><path d="M65.2 429.8l0 0.7l20.7-0.5l20.7-1.2l41.4 3.5l910.8 0l0-18.6l-20.7 1.9l-41.4-0.8l-20.7-1.7l-20.7-3.4l-41.4-2.2l-20.7 1.7l-20.7-1.2l-20.7-1.8l-20.7-1.2l-41.4-0.8l-41.4-1.6l-20.7-1.8l-20.7-2.8l-41.4 3.7l-20.7 3.2l-20.7 2.6l-41.4-0.5l-3.5 0.5l-17.2 5.6l-14.1 1.8l-6.6 1.5l-20.7 3.1l-62.1 0l-3.5 0.4l-10.3 2.5l-6.9 0.8l-20.7 0l-20.7-1.7l-41.4 0l-41.4-2.1l-20.7-0.6l-20.7 0l-20.7-1.6l-13.5-4.8l-7.2-3.4l-20.7-0.7l-5.2-0.8l-10-2.5l-5.5-1.9l-13.8-5.6l-10.1-4.9l-8.5-5l-9-6.9l-8.7-3.1l-5.4-4.9l-4.8-10l-1.8-1.9l-20.7-12.5l-20.7-2.1l-14.2-3.3l-6.5-2.2zM164.2 308.1l4.5 2.5l2.4-2.5l0.4-5l-1.3-19.8l-1.5-9.9l-5.6-5l-3.4-5l-2.2-5l-1-9.9l-3.1-14.9l-1-24.8l0.2-24.9l-2.4-9.9l-4.8-14.9l-5.2-24.8l-0.7-14.9l-0.6-5l-1.3-5l0-9.9l-10.3-2.5l-4.2 12.4l-5.8 10l-7.3 14.9l-3.4 6.2l-2.1-1.3l-4.8-4.9l-3.5-5l-5.7-9.9l-4.6-10l-3.2 24.9l1.3 24.8l-2.3 24.8l-2 14.9l-1.6 10l-5.2 24.8l-7.7 9.3l0 1.1l3.5 4.5l6.5 5l3.4 4.9l1.5 5l4 19.9l1.8 2.6l20.7 1.9l20.7-0.1l2.5 0.5l10.8 5l7 5l11.1 4.9zM417.1 308.1l20.7-1.5l6.3-3.5l7.7-4.9l6.7-5.2l2.8-4.8l17.9-9.3l2.7-5.6l4-4.9l8.8-10l5.2-4.8l5-15l4.9-10l5.8-4.9l5-3.5l0.8-6.5l-1-4.9l-14.3-5l-6.2-1.6l-16.1-3.4l-4.6-1.4l-9.5-3.5l-5.9-5l-2.1-5l-1.2-4.9l-2-15.2l-7.2-4.7l-10-9.9l-1.3-5l-1-9.9l-1.2-5.9l-6.8-4.1l-4.6-4.9l-2.3-5l-2.7-9.9l-0.7-5l-0.7-14.9l-2.9-3.7l-16.4 3.7l3.6 34.8l2.4 14.9l2.6 9.9l1.8 5l2.5 4.9l3.5 5l0 19.9l20.7 4.9l0 49.7l18.6 14.9l-0.2 5l-4.6 4.9l-6.9 5l-6.9 3.3l-3.8-3.3l-4.5-5l-3.6-4.9l-1.9-5l0-9.9l-6.9-5l0-44.7l-20.7-5l-41.4 16.6l-10.4 8.3l-1.7 9.9l-1.7 14.9l-6.9 8.3l-1.1 6.6l1.1 2.8l10.3 7.1l4.6 5l4.3 9.9l1.5 2.5l6.1 2.5l6.8 5l5.1 4.9l2.7 4.5l20.7 4.4l3.3 1.1l12.6 4.9zM137.6 94.5l10.4 2.5l4.1-12.4l1.5-9.9l1.3-14.9l-2.3-5l-4.6-7.5l-2.3 2.5l-3.2 5l-2.3 5l-0.7 14.9l-0.6 4.9l-1.3 5zM373.2 54.8l2.5 4.6l0.8-4.6l-0.8-1z" clip-path="url(#p21d3d19bf5)" style="fill: #ff4700"/></g><g id="patch_87"><path d="M140.3 429.8l28.4 2.5l890.1 0l0-18.4l-20.7 1.9l-41.4-0.7l-20.7-1.7l-20.7-3.5l-41.4-2.1l-20.7 1.7l-62.1-4l-41.4-0.9l-41.4-1.6l-20.7-1.7l-20.7-2.7l-41.4 3.4l-18.3 3l-23.1 2.9l-20.7-0.4l-20.7 0l-20.7 7l-2.8 0.4l-10.2 2.5l-7.7 2.5l-20.7 3.6l-62.1 0l-10.4 1.3l-10.3 0.6l-20.7 0l-20.7-1.7l-41.4-0.2l-20.7-1.1l-27.6-2.5l-13.8-0.5l-20.7 0l-20.7-1.5l-8.8-3l-6.1-2.5l-5.8-3l-20.7-0.6l-8.3-1.3l-12.4-3.7l-9.6-3.8l-15.6-7.4l-8.3-5l-7.9-6.2l-10.7-3.8l-4.6-4.9l-1.8-5l-2.6-5l-1-1.1l-20.7-12.6l-20.7-2.1l-17-4l-3.7-1.3l0 87.3l41.4-1.7zM165.7 308.1l3 1.7l1.6-1.7l0.6-5l-1.1-19.8l-0.7-5l-0.4-2.4l-3.6-2.6l-4.5-4.9l-2.9-5l-1.8-5l-0.9-9.9l-2.7-14.9l-1.4-24.8l-0.6-24.9l-2.3-8.2l-2.6-6.7l-1.5-4.9l-6.3-29.8l-1.5-10l-1.3-4.9l-2.4-5l-5.1-5l-6.2 10l-10.1 19.8l-4.4 7.5l-8.3-2.5l-4.2-5l-1.3-4.9l-3.1-5l-3.8-7.5l-1.6 12.5l1.6 24.8l-2.6 29.8l-2.6 19.9l-5.2 24.8l-8.3 9.9l3.5 5l5.9 5l3.1 4.9l1.2 5l3.8 19.9l1.2 1.7l20.7 1.7l20.7 0.1l6.9 1.4l8.6 5l5.2 3.7l3.4 1.3l9.3 4.9zM416.3 303.1l0.8 0.9l6.7-0.9l14-3.6l1.7-1.3l4.4-5l5.9-5l8.6-4.9l0.1-5l-20.7-3.3l-2.6-1.7l-6.2-4.9l-4.4-5l-3.4-5l-7.6-14.9l-3.4-9.9l0-24.8l-1.8-5l-2.8-5l-5.8-4.9l-3.4-1.7l-41.4 16.6l-3.5 9.9l-3.4 14.9l-12.5 14.9l12.5 9.9l3 5l3.9 10.7l10.5 4.2l5 5l4 4.9l1.2 2l20.7 4.1l11.6 3.9zM458.5 268.4l20.7 4.5l2.9-4.5l7.8-10l4.5-4.9l5.5-4.8l2-10.1l2.9-10l3.6-4.9l10.6-10l-5.5-4.9l-13.6-4.7l-29-5.3l-8.3-4.9l-2.5-5l-0.9-5l-0.7-10.2l-1.1 0.3l-2.6 5l-2.7 9.9l-3.2 14.9l-0.8 5l0 4.9l0 19.9l10.4 8.3l1.4 1.6l3 5l0.3 5l-1 4.9l-1.4 5zM417 134.3l4.1 0l0-10l-1.8-24.8l-0.1-14.9l-2.1-2.7l-12.1 2.7l7.2 34.8l2.9 9.9zM148 84.6l2.5-9.9l2.1-14.9l-4.6-8.3l-2.5 3.3l-2.7 5l1.4 14.9l1.2 4.9z" clip-path="url(#p21d3d19bf5)" style="fill: #ff3b00"/></g><g id="patch_88"><path d="M161 429.8l7.7 0.7l10.3 1.8l879.8 0l0-18.1l-20.7 1.9l-41.4-0.7l-20.7-1.7l-20.7-3.5l-41.4-2.1l-20.7 1.6l-62.1-3.7l-41.4-1l-41.4-1.5l-20.7-1.7l-20.7-2.6l-41.4 3.1l-15.2 2.7l-26.2 3.3l-20.7-0.1l-20.7 0.6l-17.7 6.1l-3 2.5l-20.7 6.2l-8.3 1.2l-12.4 1.3l-62.1 0l-20.7 0.7l-20.7 0l-20.7-1.4l-41.4-0.4l-20.7-1.3l-20.7-2.2l-20.7-1.2l-20.7 0l-20.7-1.6l-4.9-1.3l-5.8-2.5l-5.5-2.5l-4.5-2.5l-20.7-0.6l-11.4-1.8l-9.3-3l-11-4.5l-15.6-7.4l-8.1-5l-6.7-5.5l-12.7-4.5l-3.7-4.9l-1.6-5l-2.7-5.2l-20.7-12.8l-20.7-2.2l-20.7-4.9l0 84.7l20.7-1.3l20.7-0.4zM167.1 308.1l1.6 0.9l0.8-0.9l0.9-5l-1-19.8l-0.7-4.9l-7.2-5.1l-3.4-4.9l-2.3-5l-1.5-5l-0.7-9.9l-2.4-14.9l-3.2-49.7l-2.6-4.9l-1.9-5l-1.4-5l-8.1-39.7l-1.6-5l-2.3-4.9l-2.8-3.8l-5.2 8.7l-10 19.9l-3 5l-2.5 3.7l-4.2 1.2l-6.2 5l-5.2 9.9l-2 5l-3.1 9.9l-2.6 24.9l-5.2 24.8l-8.3 9.9l2.9 5l5.3 5l2.7 4.9l1.1 5l3.5 19.9l0.6 0.9l20.7 1.3l20.7 0.4l11.2 2.3l9.5 7.2l7.7 2.8l7 4.9zM416.2 298.2l0.9 0.5l2.1-0.5l18.5-14.9l-9.5-5l-6-5l-5.1-6.6l-3.5-3.3l-3.4-5l-2.3-4.9l-1.7-5l-1.2-5l-1.7-9.9l0-24.8l-3.5-5l-3.4-3.3l-20.7 8.3l-33.2 39.7l9 9.9l3.5 12.5l5.6 2.4l9.3 5l5.8 9.1l20.7 2.8l12.4 3zM472.2 263.4l7 3.6l9.5-13.5l4.2-5l1.1-5l1.8-4.9l4.1-5l0-5l1.2-4.9l3.1-5l3.7-5l-1.4-4.9l-6.6-2.3l-20.7-3.4l-13.2 0.7l-7.5 5l0 24.8l6.5 5l2.3 4.9l1.2 5l1.3 9.9zM416.9 109.4l0.2 0.6l0.5-5.5l0.9-19.9l-1.4-1.8l-7.8 1.8zM147.2 69.7l0.8 2.5l2.3-12.4l-2.3-4.2l-2.6 4.2z" clip-path="url(#p21d3d19bf5)" style="fill: #ff3400"/></g><g id="patch_89"><path d="M175.1 429.8l14.3 2.5l869.4 0l0-17.9l-20.7 1.9l-41.4-0.6l-20.7-1.8l-20.7-3.4l-10.1-0.6l-31.3-1.5l-20.7 1.6l-62.1-3.5l-41.4-1.1l-41.4-1.5l-20.7-1.6l-20.7-2.5l-41.4 3l-12.2 2.2l-29.2 3.8l-20.7 0.1l-20.7 1.3l-13.7 4.7l-7 5.8l-13.8 4.1l-6.9 1.3l-12.5 1.2l-8.2 0.5l-103.5 0l-41.4-1.7l-20.7 0l-20.7-1.1l-20.7-2.2l-20.7-1.3l-20.7 0l-20.7-2l-7.7-2.1l-13-6.8l-20.7-0.8l-14.5-2.3l-6.2-2.3l-12.5-5.2l-15.4-7.4l-7.9-5l-5.6-4.7l-2.1-0.3l-12.6-5l-2.8-4.9l-1.4-5l-1.8-3.8l-16.6-11.1l-4.1-2.4l-20.7-1.9l-20.7-4.8l0 82l20.7-1.5l20.7-0.1l62.1 4.7zM168.6 308.1l1.2-5l-0.8-19.8l-0.3-2.4l-6.2-2.6l-4.6-5l-2.4-4.9l-1.7-5l-1.1-5l-0.5-9.9l-2.1-14.9l-2.1-24.8l-1.8-5l-1.2-5l-2.2-14.9l-1.7-4.9l-1.3-5l-2.2-14.9l-5.2-24.8l-1.5-5l-2.2-5l-1.4-2.5l-6.9 12.5l-4.3 9.9l-2.6 5l-3.2 4.9l-7.5 10l-3.1 4.9l-5 10l-3.7 9.9l-2.8 9.9l-7.5 34.8l-8.3 9.9l2.3 5l4.6 5l2.4 4.9l4.2 24.9l20.7 1.1l20.7 0.6l15.5 3.2l5.2 5.6l12 4.4l4.7 4.9zM374.3 278.3l1.4 5l20.7-5l0-39.7l-20.7-5l-8.9 5l-11.8 3.3l-5.6 6.6l5.6 9.9l0 5l6.3 5l8.7 4.9zM477.3 258.4l1.9 1.9l6.5-11.8l-1-5l-1.7-4.9l-3.8-5l-3.3 5l-1.2 4.9l-0.6 5l0.9 5zM476 223.7l3.2 4.9l3.6-4.9l11.4-10l4.9-4.9l-19.9-2.8l-10.2 2.8l1.4 4.9l2.3 5zM415.8 89.6l1.3 3.1l0.6-8.1l-0.6-0.8l-3.5 0.8z" clip-path="url(#p21d3d19bf5)" style="fill: #ff2900"/></g><g id="patch_90"><path d="M185.3 429.8l4.1 0.7l5.1 1.8l864.3 0l0-17.6l-20.7 1.8l-41.4-0.4l-20.7-1.9l-20.7-3.4l-20.7-1.2l-20.7-0.9l-20.7 1.6l-62.1-3.3l-41.4-1.1l-41.4-1.6l-20.7-1.5l-20.7-2.4l-41.4 2.9l-9.1 1.7l-32.3 4.2l-25.2 0.7l-16.2 1.7l-9.7 3.3l-5.6 5l-5.4 4.2l-13.8 3.2l-6.9 0.6l-20.7 1l-103.5-0.3l-41.4-1.5l-20.7 0l-20.7-1l-20.7-2l-20.7-1.3l-20.7 0l-20.7-2.1l-3.2-0.8l-7.4-2.5l-10.1-6l-20.7-0.9l-17.6-3l-3.1-1.2l-2.4-1.3l-11.6-5l-15.3-7.4l-7.6-5l-4.5-3.7l-8.3-1.3l-8.4-5l-2-4.9l-1-5l-1-2.1l-17.8-12.8l-2.9-1.7l-20.7-1.4l-20.7-4.8l0 79.1l20.7-1.3l20.7-0.1l20.7 2l41.4 2.6zM166.7 303.1l2 2.6l0.5-2.6l-0.5-19.3l-12.3-5.5l-2-5l-2.5-9.9l-0.8-5l-0.3-9.9l-2.8-27.3l-10.4-12.4l0-24.9l-1.5-9.9l-1.1-14.9l-5.2-24.8l-2.5-6.2l-3.5 6.2l-3.7 9.9l-2.3 5l-2.8 4.9l-3.3 5l-1.5 5l-2.2 4.9l-5.9 10l-4.6 9.9l-3.6 9.9l-4.6 14.9l-3.4 7.5l-2.6 12.4l-8.3 9.9l1.7 5l4 5l2.1 4.9l3.1 20.7l20.7 4.2l20.7 0.9l19.8 4l0.9 1.3l8.7 3.7l7.6 5z" clip-path="url(#p21d3d19bf5)" style="fill: #ff1e00"/></g><g id="patch_91"><path d="M199.7 432.3l859.1 0l0-17.4l-20.7 1.9l-41.4-0.4l-20.7-1.9l-20.7-3.4l-20.7-1.2l-20.7-0.9l-20.7 1.6l-41.4-2.3l-62.1-1.9l-41.4-1.6l-20.7-1.4l-20.7-2.5l-41.4 3l-6.1 1.1l-20.6 2.5l-14.7 2.2l-10.1 0.2l-10.6 0.9l-20.7 2.2l-5.7 1.9l-3.1 2.5l-4.7 5l-7.2 5.4l-20.7 1.6l-20.7 0.7l-41.4 0l-62.1-0.8l-41.4-1.5l-20.7 0l-16.6-0.5l-45.5-3.2l-20.7 0l-20.7-1.7l-9.6-2.5l-3.9-2.5l-2.8-2.5l-4.4-2.7l-20.7-0.9l-8.8-1.4l-11.9-2.4l-4.4-2.5l-21.7-10l-4.5-2.4l-10.8-7.7l-14.5-2.3l-4.2-5l-2-10.2l-12.2-9.6l-8.5-6l-20.7-0.9l-20.7-4.8l0 46.5l20.7-1.3l2.9 1.3l2.2 2.4l1.2 2.5l-0.1 2.5l-1.3 2.5l-1.5 5l-3.4 1.6l-10.4-1.6l-3.4-7.5l-1.8-5l-5.1-2.4l0 29.8l20.7-1.2l20.7 0l20.7 2.3l41.4 2.1l28.1 4.2zM113.5 278.3l13.8 5l20.7 0l2.4-5l0.4-5l-1.2-14.9l-0.2-9.9l-1.4-14.9l-20.7-24.8l1.7-5l1.2-5l1.7-9.9l0.5-5l0-19.8l0-5l-5.1-24.8l-3.2 9.9l-2 5l-5.2 9.9l-1.5 9.9l-1.3 5l-2.4 5l-5.1 4.9l-4.9 10l-3.9 9.9l-1.6 5l-2.6 9.9l-1.8 5l-2.5 4.9l-3.4 5l-8.3 9.9l1.1 5l3.3 5l1.8 4.9l2.1 16.6l20.7 2.1z" clip-path="url(#p21d3d19bf5)" style="fill: #ff1600"/></g><g id="patch_92"><path d="M204.9 432.3l853.9 0l0-16.8l-20.7 1.5l-41.4-0.3l-20.7-1.9l-20.7-3.5l-20.7-1.1l-20.7-0.9l-20.7 1.6l-62.1-3l-41.4-1l-46.4-1.9l-15.7-1l-20.7-2.5l-41.4 2.9l-23.7 3.1l-17.7 2.9l-20.7 1.6l-20.7 2.4l-1.6 0.5l-3.2 2.5l-3.9 5l-3 2.4l-3.6 2.5l-5.4 2.8l-41.4 1.1l-41.4 0l-20.7-0.7l-20.7 0l-20.7-0.4l-41.4-1.6l-41.4-0.7l-13.8-0.5l-27.6-1.9l-20.7 0l-20.7-1.3l-20.7-1.7l4.7-2.5l-0.4-2.5l-1.8-2.5l-2.5-1.7l-20.7-1.1l-14.1-2.2l-6.6-1.3l-11.2-6.1l-16.5-7.5l-4.3-2.4l-9.4-6.8l-10-0.7l-10.7-2.5l0-5l-0.7-4.9l-1.9-5l-5.9-5l-5.1-4.9l-7.1-5.3l-20.7-0.4l-20.7-4.7l0 40.2l20.7-0.8l6.9 0.8l11.5 2.5l-0.7 2.5l-2.2 2.4l-1.2 2.5l-1.8 2.5l-2.7 2.5l-1.7 2.5l-1.2 2.5l-4.5 2.4l-2.4 0.9l-6.9-0.9l-13.8-2.4l0 11.5l20.7 0.9l20.7 0l20.7 2.5l41.4 1.6l20.7-1.6l20.7 2.4l10.3 2.5l-11.2 2.5zM85.7 268.4l0.2 1.2l20.7 0.4l20.7 1.7l20.7-3.3l0-19.9l-0.8-5l-2.7-4.9l-6.9-5l-10.3-12.4l-3.5-2.5l-4.3-5l-2.6-4.9l-1.5-5l-3.7-5l-5.1-2.4l-5.2 12.4l-2.2 14.9l-1.3 4.9l-1.7 5l-10.3 3.1l-5.7 6.8l0.5 5l2.7 5l1.4 4.9zM124.7 179l2.6 4.9l1.9-14.9l0.6-9.9l-2.5-12.4l-2.9 7.4l-2.3 5l0.7 9.9l0.7 5z" clip-path="url(#p21d3d19bf5)" style="fill: #f60b00"/></g><g id="patch_93"><path d="M210.1 432.3l269.1 0l-20.7-0.9l-20.7 0l-20.7-0.6l-41.4-1.7l-41.4-0.6l-41.4-1.7l-20.7 0l-20.7-0.7l-20.7 1.2l-15.4 2.5zM562 432.3l496.8 0l0-16.2l-20.7 1.2l-41.4-0.3l-20.7-1.7l-20.7-3.7l-41.4-2l-20.7 1.6l-62.1-2.9l-41.4-1l-62.1-2.7l-20.7-2.5l-41.4 2.9l-20.7 2.5l-10.8 2.4l-9.9 1.9l-20.7 1.4l-14.3 1.7l-6.4 1.9l-0.8 0.6l-3.1 5l-2.8 2.4l-4 2.5l-5.8 2.5zM115.8 419.9l11.5 1.3l41.4 1.2l17.7-2.5l3-0.9l20.7 3.4l20.7-3.4l1.4-1.6l-0.8-2.5l-0.6-0.4l-20.7-1.3l-8.3-0.8l-12.4-2.7l-12.8-7.2l-16.5-7.5l-4-2.4l-8.1-5.9l-20.7-1.3l-11.9 2.2l-1.7 2.5l-5.1 4.9l-2 3.5l-6 4l-2.6 2.5l-1.8 2.5l-2.9 2.4l-7.4 2.5l-20.7-2.5l0 5.8l7.9 1.7l12.8 1.1l20.7 0zM65.2 377.6l0 5l41.4 0l15.5-5l1.1-4.9l-1.8-5l-4.9-5l-4.2-4.9l-5.7-4.4l-20.7 0.2l-20.7-4.7zM120.4 263.4l6.9 1.2l3.4-1.2l6.9-5l4.6-4.9l1.8-5l-0.8-5l-4.4-4.9l-11.5-5l-20.7 5l0 19.8zM85.9 258.4l20.7 0l0-14.9l-20.7-3.7l-3.1 3.7l-0.1 5l2.1 5z" clip-path="url(#p21d3d19bf5)" style="fill: #ed0400"/></g><g id="patch_94"><path d="M214.2 432.3l223.6 0l-62.1-2.5l-41.4-0.7l-41.4-1.4l-41.4 0l-20.7 0.5l-9.7 1.6zM564.5 432.3l494.3 0l0-15.6l-20.7 1.1l-20.7 0l-20.7-0.5l-20.7-1.5l-20.7-3.9l-41.4-2l-20.7 1.6l-62.1-2.8l-20.7-0.1l-20.7-0.8l-62.1-2.6l-20.7-2.4l-41.4 3l-13.8 1.7l-10.5 2.4l-17.1 3.2l-24.3 1.8l-8.9 2.5l-6.2 5l-2 0.9l-1.7 1.5l-4.4 2.5l-6.6 2.5zM125 419.9l2.3 0.2l41.4 0.6l5.9-0.8l10.6-2.5l4.2-2.5l0-2.5l-2.3-2.5l-7.8-4.9l-4.3-2.5l-11.6-5l-5-2.5l-10.4-7.4l-20.7 0.5l-5.6 2l-5.3 2.5l-3.6 2.4l-4.2 5l-2 1.9l-4.5 3.1l-2.4 2.5l-1.5 2.4l-3.7 2.5l-8.6 1.7l-8.3 0.8l8.3 1.8l20.7 0.3zM199.7 417.4l10.4 1.6l10.3-1.6l-3.4-2.5l-6.9-0.4l-20.7 0.4zM65.2 377.6l0 1.9l20.7-1l20.7 2.5l10.3-3.4l2.9-4.9l-1.6-5l-4-5l-3.4-4.9l-4.2-3.3l-20.7 1.2l-20.7-5zM127.3 258.4l9.2-4.9l3.5-5l-0.8-5l-6.2-4.9l-5.7-2.5l-10.4 2.5l-5.2 4.9l-0.2 5l3 5zM84.7 248.5l1.2 3.7l7.7-3.7l-4.3-5l-3.4-0.6l-0.6 0.6z" clip-path="url(#p21d3d19bf5)" style="fill: #df0000"/></g><g id="patch_95"><path d="M218.3 432.3l198.8 0l-41.4-1.9l-62.1-1.1l-20.7-0.9l-41.4 0.1l-20.7 0.7l-3.9 0.6zM567.1 432.3l491.7 0l0-15l-20.7 1.3l-20.7 0l-20.7-0.7l-20.7-1.6l-20.7-4.1l-41.4-1.9l-20.7 1.5l-62.1-2.7l-20.7 0l-82.8-3.2l-20.7-2.3l-20.7 1.8l-20.7 1.2l-6.9 0.9l-10 2.4l-12.1 2.5l-12.4 2l-7.5 0.5l-13.2 1.9l-2.1 0.6l-6.2 5l-5.5 2.4l-6.9 1.7l-1.6 0.8zM115.8 417.4l11.5 1.6l41.4 0l8.2-1.6l6.5-2.5l1.8-2.5l-1.2-2.5l-2.9-2.4l-3.8-2.5l-3.9-2.5l-12-5l-4.6-2.5l-8.8-6.6l-18 1.7l-2.7 0.5l-5.5 2l-4.9 2.4l-3 2.5l-7.3 7.2l-3.5 2.8l0 7.4l3.5 0.2zM95.1 377.6l11.5 1.7l5.1-1.7l4.7-4.9l-1.4-5l-3.1-5l-2.5-4.9l-2.8-2.2l-20.7 2.2l0 14.9zM65.2 372.7l0 3.7l20.7-3.7l0-14.9l-20.7-5.3zM122.5 253.5l4.8 1.8l3.4-1.8l5.3-5l-0.8-5l-7.9-4.9l-10.4 4.9l-0.5 5z" clip-path="url(#p21d3d19bf5)" style="fill: #d60000"/></g><g id="patch_96"><path d="M222.5 432.3l173.9 0l-20.7-1.3l-62.1-0.9l-20.7-1l-41.4 0.2l-13.6 0.5l-7.1 0.3zM569.7 432.3l489.1 0l0-14.2l-20.7 1.2l-20.7 0l-20.7-0.7l-20.7-1.7l-22.2-4.5l-39.9-1.6l-20.7 1.3l-62.1-2.6l-20.7 0.2l-82.8-3.2l-20.7-2l-20.7 1.9l-20.7 1.1l-9.2 2.4l-11.5 2.5l-14.7 2.5l-6 1.9l-4.2 0.6l-12.4 5l-4.1 0.9l-3.5 1.5l-10.3 2.5l-6.9 0.8zM123.4 417.4l3.9 0.5l41.4-0.5l8.8-2.5l3.6-2.5l-0.2-2.5l-1.9-2.4l-7.2-5l-12.3-5l-4.3-2.5l-7.2-5.8l-9 0.9l-11.7 2.5l-6.3 2.4l-3.8 2.5l-10.6 10l2.2 4.9l2.9 2.5zM65.2 372.7l0 0.6l3.4-0.6l9.5-5l2.6-5l-1.7-4.9l-13.8-3.6zM93 372.7l13.6 4.9l6.4-4.9l-1.3-5l-2.1-5l-1.6-4.9l-1.4-1.1l-10.4 1.1l-1.3 4.9zM121.3 248.5l6 3.7l4.7-3.7l-0.8-5l-3.9-2.4l-5.2 2.4z" clip-path="url(#p21d3d19bf5)" style="fill: #c80000"/></g><g id="patch_97"><path d="M226.6 432.3l159.4 0l-10.3-0.6l-20.7-0.5l-41.4-0.4l-20.7-1l-41.4 0.3l-20.7 1.1zM572.3 432.3l486.5 0l0-13.3l-20.7 1.1l-20.7 0l-20.7-0.8l-20.7-1.9l-20.7-4.3l-9.9-0.7l-31.5-1.1l-20.7 1.1l-20.7-0.6l-41.4-1.9l-20.7 0.3l-82.8-3.1l-20.7-1.7l-41.4 4.1l-12.1 2.9l-13.5 2.5l-7.6 2.5l-6.2 5l-2 0.9l-6.9 1.5l-13.8 1.7l-3.5 0.8l-17.2 2zM117.3 414.9l10 1.9l41.4-1.1l2.9-0.8l5.3-2.5l1-2.5l-1-2.4l-6.6-5l-7.5-2.5l-5.2-2.5l-4-2.5l-5.6-4.9l-13.8 2.5l-6.9 1.6l-6.7 3.3l-3.1 2.5l-8 7.5l3 4.9zM100.1 372.7l6.5 2.3l3-2.3l-2.3-10l-0.7-4.9l-2.7 4.9zM65.2 367.7l0 2.3l5.1-2.3l5.2-5l-3.4-4.9l-6.9-1.8zM126.3 248.5l1 0.6l0.8-0.6l-0.8-5z" clip-path="url(#p21d3d19bf5)" style="fill: #bf0000"/></g><g id="patch_98"><path d="M230.8 432.3l144.9 0l-20.7-0.6l-41.4-0.1l-20.7-1.2l-41.4 0.4zM574.9 432.3l483.9 0l0-12.4l-20.7 0.9l-20.7 0l-20.7-0.8l-20.7-1.8l-20.7-4.6l-20.7-1.3l-20.7-0.6l-20.7 1.3l-62.1-2.5l-20.7 0.3l-62.1-2.5l-20.7-0.4l-20.7-1.5l-10.4 1.1l-6.9 2.4l-3.4 1.7l-20.7 0l-15.8 3.3l-7 2.5l-6.2 5l-5.5 2.4l-6.9 1.7l-6.9 0.8l-13.8 1l-13.4 1.5l-7.3 0.4zM123 414.9l4.3 0.8l41.4-1.6l4.1-1.7l2-2.5l0.1-2.4l-6.2-5l-8.4-2.5l-4.6-2.5l-3.7-2.5l-4-3.7l-6.9 1.3l-13.8 3.3l-3.4 1.6l-3.4 2.5l-8 7.5l3.7 4.9zM65.2 362.7l0 3.8l5.1-3.8l-5.1-4.9z" clip-path="url(#p21d3d19bf5)" style="fill: #b20000"/></g><g id="patch_99"><path d="M241.1 432.3l72.5 0l-20.7-1.3l-20.7 0l-20.7 0.6zM577.5 432.3l481.3 0l0-9.9l-20.7-0.8l-20.7 0l-20.7-0.8l-20.7-1.8l-20.7-4.9l-20.7-1.2l-20.7-0.7l-20.7 1.3l-62.1-2.5l-20.7 0.3l-62.1-2.5l-20.7-0.1l-20.7-1.2l-8.7 2.4l-6.1 2.5l-4.2 2.5l-1.7 2.5l0 5l0-5l-5.2-2.5l-15.5-1.2l-6 1.2l-6.5 2.5l-6.2 5l-5.3 2.4l-10.2 2.5l-7.2 1.1l-41.4 2.5zM119.9 412.4l7.4 2.2l20.7-0.9l20.7-1.3l3-2.5l1.1-2.4l-4.1-3.4l-10.9-4.1l-7.4-5l-2.4-2.4l-20.7 4.9l-3.9 2.5l-8 7.5z" clip-path="url(#p21d3d19bf5)" style="fill: #a40000"/></g><g id="patch_100"><path d="M251.5 432.3l51.7 0l-10.3-0.6l-20.7 0zM580.1 432.3l437.3 0l0-9.9l-20.7-0.8l-20.7-1.7l-20.7-5.2l-20.7-1.2l-20.7-0.7l-20.7 1.3l-62.1-2.5l-20.7 0.3l-20.7-0.5l-41.4-2l-41.4 0.5l-7.4 2.5l-3.1 2.5l-1.7 2.5l-1.3 5l-2.7 2.4l-4.5 1.2l-6.8-1.2l-4.7-2.4l-2.3-2.5l-3.5-2.5l-3.4-0.8l-2.1 0.8l-6.2 5l-4.9 2.4l-10.2 2.5l-15.5 2.5l-43.9 1.8zM123.6 412.4l3.7 1.1l20.7-1.1l20.7-2.5l2-2.4l-2-1.7l-3-0.8l-10.3-5l-3.6-2.5l-3.8-3.3l-13.8 3.3l-6.9 1.9l-0.9 0.6l-8 7.5z" clip-path="url(#p21d3d19bf5)" style="fill: #9b0000"/></g><g id="patch_101"><path d="M582.7 432.3l393.3 0l0-9.9l-14-5l-6.7-1.9l-20.7-1.4l-20.7-0.6l-20.7 1.1l-41.4-1.4l-20.7-1.1l-20.7 0.3l-41.4-0.7l-20.7-1.8l-41.4 2.5l-3.7 5l-2.6 5l-2.2 2.4l-8.3 2.5l-3.9 0.7l-6-0.7l-12.3-2.5l-2.4-1.2l-2.3 1.2l-8.6 2.5l-12.7 2.5l-17.8 1.3l-20.7 0.3zM124 409.9l3.3 2.5l27.6-2.5l13.8-2.4l-8.9-2.5l-6.9-5l-4.9-4.1l-6.9 1.6l-13.8 4.4l-6 5.6z" clip-path="url(#p21d3d19bf5)" style="fill: #8d0000"/></g><g id="patch_102"><path d="M644.8 432.3l310.5 0l4.8-5l3.1-4.9l-4.6-5l-3.3-0.9l-20.7-1.7l-20.7-0.6l-13.8 0.7l-6.9 0.8l-6.9-0.8l-13.8-0.5l-20.7-0.3l-20.7-0.9l-20.7 1.7l-20.7-1.2l-41.4-0.9l-20.7 0.7l-9.2 1.4l-4 2.5l-2.1 2.5l-2.9 2.5l-2.5 1.4l-0.8 1l-4.2 2.5l-15.7 2.7l-20.7-2l-7.5 1.8zM124.3 407.5l3 2.4l20.7-0.8l10.3-1.6l-4.4-2.5l-3.5-5l-2.4-2.5l-7.7 2.5l-3.8 2.5l-9.2 2.2z" clip-path="url(#p21d3d19bf5)" style="fill: #840000"/></g><g id="matplotlib.axis_1"><g id="xtick_1"><g id="line2d_1"><path d="M65.2 432.3l0-397.4" clip-path="url(#p21d3d19bf5)" style="fill: none; stroke: #b0b0b0; stroke-width: 0.8; stroke-linecap: square"/></g><g id="line2d_2"><defs><path id="m1504cfccaf" d="M0 0l0 3.5" style="stroke: #000000; stroke-width: 0.8"/></defs><g><use href="#m1504cfccaf" x="65.16" y="432.29" style="stroke: #000000; stroke-width: 0.8"/></g></g><g id="text_1"><text style="font-size: 20px; font-family: 'DejaVu Sans', 'Liberation Sans', sans-serif; text-anchor: middle" x="65.16" y="454.98">0</text></g></g><g id="xtick_2"><g id="line2d_3"><path d="M313.6 432.3l0-397.4" clip-path="url(#p21d3d19bf5)" style="fill: none; stroke: #b0b0b0; stroke-width: 0.8; stroke-linecap: square"/></g><g id="line2d_4"><g><use href="#m1504cfccaf" x="313.56" y="432.29" style="stroke: #000000; stroke-width: 0.8"/></g></g><g id="text_2"><text style="font-size: 20px; font-family: 'DejaVu Sans', 'Liberation Sans', sans-serif; text-anchor: middle" x="313.56" y="454.98">12</text></g></g><g id="xtick_3"><g id="line2d_5"><path d="M562 432.3l0-397.4" clip-path="url(#p21d3d19bf5)" style="fill: none; stroke: #b0b0b0; stroke-width: 0.8; stroke-linecap: square"/></g><g id="line2d_6"><g><use href="#m1504cfccaf" x="561.96" y="432.29" style="stroke: #000000; stroke-width: 0.8"/></g></g><g id="text_3"><text style="font-size: 20px; font-family: 'DejaVu Sans', 'Liberation Sans', sans-serif; text-anchor: middle" x="561.96" y="454.98">24</text></g></g><g id="xtick_4"><g id="line2d_7"><path d="M810.4 432.3l0-397.4" clip-path="url(#p21d3d19bf5)" style="fill: none; stroke: #b0b0b0; stroke-width: 0.8; stroke-linecap: square"/></g><g id="line2d_8"><g><use href="#m1504cfccaf" x="810.36" y="432.29" style="stroke: #000000; stroke-width: 0.8"/></g></g><g id="text_4"><text style="font-size: 20px; font-family: 'DejaVu Sans', 'Liberation Sans', sans-serif; text-anchor: middle" x="810.36" y="454.98">36</text></g></g><g id="xtick_5"><g id="line2d_9"><path d="M1058.8 432.3l0-397.4" clip-path="url(#p21d3d19bf5)" style="fill: none; stroke: #b0b0b0; stroke-width: 0.8; stroke-linecap: square"/></g><g id="line2d_10"><g><use href="#m1504cfccaf" x="1058.76" y="432.29" style="stroke: #000000; stroke-width: 0.8"/></g></g><g id="text_5"><text style="font-size: 20px; font-family: 'DejaVu Sans', 'Liberation Sans', sans-serif; text-anchor: middle" x="1058.76" y="454.98">48</text></g></g><g id="text_6"><text style="font-size: 20px; font-family: 'DejaVu Sans', 'Liberation Sans', sans-serif; text-anchor: middle" x="561.96" y="479.24">Forecast Time (Hour)</text></g></g><g id="matplotlib.axis_2"><g id="ytick_1"><g id="line2d_11"><path d="M65.2 432.3l993.6 0" clip-path="url(#p21d3d19bf5)" style="fill: none; stroke: #b0b0b0; stroke-width: 0.8; stroke-linecap: square"/></g><g id="line2d_12"><defs><path id="m5d545ce8f8" d="M0 0l-3.5 0" style="stroke: #000000; stroke-width: 0.8"/></defs><g><use href="#m5d545ce8f8" x="65.16" y="432.29" style="stroke: #000000; stroke-width: 0.8"/></g></g><g id="text_7"><text style="font-size: 20px; font-family: 'DejaVu Sans', 'Liberation Sans', sans-serif; text-anchor: end" x="58.16" y="439.89">0</text></g></g><g id="ytick_2"><g id="line2d_13"><path d="M65.2 382.6l993.6 0" clip-path="url(#p21d3d19bf5)" style="fill: none; stroke: #b0b0b0; stroke-width: 0.8; stroke-linecap: square"/></g><g id="line2d_14"><g><use href="#m5d545ce8f8" x="65.16" y="382.62" style="stroke: #000000; stroke-width: 0.8"/></g></g><g id="text_8"><text style="font-size: 20px; font-family: 'DejaVu Sans', 'Liberation Sans', sans-serif; text-anchor: end" x="58.16" y="390.22">1</text></g></g><g id="ytick_3"><g id="line2d_15"><path d="M65.2 332.9l993.6 0" clip-path="url(#p21d3d19bf5)" style="fill: none; stroke: #b0b0b0; stroke-width: 0.8; stroke-linecap: square"/></g><g id="line2d_16"><g><use href="#m5d545ce8f8" x="65.16" y="332.95" style="stroke: #000000; stroke-width: 0.8"/></g></g><g id="text_9"><text style="font-size: 20px; font-family: 'DejaVu Sans', 'Liberation Sans', sans-serif; text-anchor: end" x="58.16" y="340.54">2</text></g></g><g id="ytick_4"><g id="line2d_17"><path d="M65.2 283.3l993.6 0" clip-path="url(#p21d3d19bf5)" style="fill: none; stroke: #b0b0b0; stroke-width: 0.8; stroke-linecap: square"/></g><g id="line2d_18"><g><use href="#m5d545ce8f8" x="65.16" y="283.27" style="stroke: #000000; stroke-width: 0.8"/></g></g><g id="text_10"><text style="font-size: 20px; font-family: 'DejaVu Sans', 'Liberation Sans', sans-serif; text-anchor: end" x="58.16" y="290.87">3</text></g></g><g id="ytick_5"><g id="line2d_19"><path d="M65.2 233.6l993.6 0" clip-path="url(#p21d3d19bf5)" style="fill: none; stroke: #b0b0b0; stroke-width: 0.8; stroke-linecap: square"/></g><g id="line2d_20"><g><use href="#m5d545ce8f8" x="65.16" y="233.6" style="stroke: #000000; stroke-width: 0.8"/></g></g><g id="text_11"><text style="font-size: 20px; font-family: 'DejaVu Sans', 'Liberation Sans', sans-serif; text-anchor: end" x="58.16" y="241.2">4</text></g></g><g id="ytick_6"><g id="line2d_21"><path d="M65.2 183.9l993.6 0" clip-path="url(#p21d3d19bf5)" style="fill: none; stroke: #b0b0b0; stroke-width: 0.8; stroke-linecap: square"/></g><g id="line2d_22"><g><use href="#m5d545ce8f8" x="65.16" y="183.93" style="stroke: #000000; stroke-width: 0.8"/></g></g><g id="text_12"><text style="font-size: 20px; font-family: 'DejaVu Sans', 'Liberation Sans', sans-serif; text-anchor: end" x="58.16" y="191.53">5</text></g></g><g id="ytick_7"><g id="line2d_23"><path d="M65.2 134.3l993.6 0" clip-path="url(#p21d3d19bf5)" style="fill: none; stroke: #b0b0b0; stroke-width: 0.8; stroke-linecap: square"/></g><g id="line2d_24"><g><use href="#m5d545ce8f8" x="65.16" y="134.26" style="stroke: #000000; stroke-width: 0.8"/></g></g><g id="text_13"><text style="font-size: 20px; font-family: 'DejaVu Sans', 'Liberation Sans', sans-serif; text-anchor: end" x="58.16" y="141.86">6</text></g></g><g id="ytick_8"><g id="line2d_25"><path d="M65.2 84.6l993.6 0" clip-path="url(#p21d3d19bf5)" style="fill: none; stroke: #b0b0b0; stroke-width: 0.8; stroke-linecap: square"/></g><g id="line2d_26"><g><use href="#m5d545ce8f8" x="65.16" y="84.59" style="stroke: #000000; stroke-width: 0.8"/></g></g><g id="text_14"><text style="font-size: 20px; font-family: 'DejaVu Sans', 'Liberation Sans', sans-serif; text-anchor: end" x="58.16" y="92.19">7</text></g></g><g id="ytick_9"><g id="line2d_27"><path d="M65.2 34.9l993.6 0" clip-path="url(#p21d3d19bf5)" style="fill: none; stroke: #b0b0b0; stroke-width: 0.8; stroke-linecap: square"/></g><g id="line2d_28"><g><use href="#m5d545ce8f8" x="65.16" y="34.92" style="stroke: #000000; stroke-width: 0.8"/></g></g><g id="text_15"><text style="font-size: 20px; font-family: 'DejaVu Sans', 'Liberation Sans', sans-serif; text-anchor: end" x="58.16" y="42.52">8</text></g></g><g id="text_16"><text style="font-size: 20px; font-family: 'DejaVu Sans', 'Liberation Sans', sans-serif; text-anchor: middle" x="35.98" y="233.6" transform="rotate(-90 35.98 233.6)">Alt AGL (km)</text></g></g><g id="patch_103"><path d="M65.2 432.3l0-397.4" style="fill: none; stroke: #000000; stroke-width: 2; stroke-linejoin: miter; stroke-linecap: square"/></g><g id="patch_104"><path d="M1058.8 432.3l0-397.4" style="fill: none; stroke: #000000; stroke-width: 2; stroke-linejoin: miter; stroke-linecap: square"/></g><g id="patch_105"><path d="M65.2 432.3l993.6 0" style="fill: none; stroke: #000000; stroke-width: 2; stroke-linejoin: miter; stroke-linecap: square"/></g><g id="patch_106"><path d="M65.2 34.9l993.6 0" style="fill: none; stroke: #000000; stroke-width: 2; stroke-linejoin: miter; stroke-linecap: square"/></g><g id="text_17"><text style="font-size: 24px; font-family: 'DejaVu Sans', 'Liberation Sans', sans-serif; text-anchor: middle" x="561.96" y="28.92">WRF-Chem Relative Humidity 20251213 00UTC 48h fcst at Chiwaukee lidar site</text></g></g><g id="axes_2"><g id="patch_107"><path d="M65.2 512.5l993.6 0l0-17.1l-993.6 0l0 17.1z" style="fill: none; opacity: 0"/></g><g id="patch_108"><path d="M115 512.5l-49.8-8.6l49.8-8.5z" clip-path="url(#p661e0a8459)" style="fill: #000080"/></g><g id="patch_109"><path d="M110.5 512.5l902.9 0l0-17.1l-902.9 0z" clip-path="url(#p661e0a8459)" style="fill: #000084"/></g><g id="patch_110"><path d="M119.5 512.5l893.9 0l0-17.1l-893.9 0z" clip-path="url(#p661e0a8459)" style="fill: #00008d"/></g><g id="patch_111"><path d="M128.6 512.5l884.8 0l0-17.1l-884.8 0z" clip-path="url(#p661e0a8459)" style="fill: #00009b"/></g><g id="patch_112"><path d="M137.6 512.5l875.8 0l0-17.1l-875.8 0z" clip-path="url(#p661e0a8459)" style="fill: #0000a4"/></g><g id="patch_113"><path d="M146.6 512.5l866.8 0l0-17.1l-866.8 0z" clip-path="url(#p661e0a8459)" style="fill: #0000b2"/></g><g id="patch_114"><path d="M155.7 512.5l857.7 0l0-17.1l-857.7 0z" clip-path="url(#p661e0a8459)" style="fill: #0000bf"/></g><g id="patch_115"><path d="M164.7 512.5l848.7 0l0-17.1l-848.7 0z" clip-path="url(#p661e0a8459)" style="fill: #0000c8"/></g><g id="patch_116"><path d="M173.7 512.5l839.7 0l0-17.1l-839.7 0z" clip-path="url(#p661e0a8459)" style="fill: #0000d6"/></g><g id="patch_117"><path d="M182.8 512.5l830.6 0l0-17.1l-830.6 0z" clip-path="url(#p661e0a8459)" style="fill: #0000df"/></g><g id="patch_118"><path d="M191.8 512.5l821.6 0l0-17.1l-821.6 0z" clip-path="url(#p661e0a8459)" style="fill: #0000ed"/></g><g id="patch_119"><path d="M200.8 512.5l812.6 0l0-17.1l-812.6 0z" clip-path="url(#p661e0a8459)" style="fill: #0000f6"/></g><g id="patch_120"><path d="M209.8 512.5l803.6 0l0-17.1l-803.6 0z" clip-path="url(#p661e0a8459)" style="fill: #0000ff"/></g><g id="patch_121"><path d="M218.9 512.5l794.5 0l0-17.1l-794.5 0z" clip-path="url(#p661e0a8459)" style="fill: #0000ff"/></g><g id="patch_122"><path d="M227.9 512.5l785.5 0l0-17.1l-785.5 0z" clip-path="url(#p661e0a8459)" style="fill: #0008ff"/></g><g id="patch_123"><path d="M236.9 512.5l776.5 0l0-17.1l-776.5 0z" clip-path="url(#p661e0a8459)" style="fill: #0014ff"/></g><g id="patch_124"><path d="M246 512.5l767.4 0l0-17.1l-767.4 0z" clip-path="url(#p661e0a8459)" style="fill: #001cff"/></g><g id="patch_125"><path d="M255 512.5l758.4 0l0-17.1l-758.4 0z" clip-path="url(#p661e0a8459)" style="fill: #0028ff"/></g><g id="patch_126"><path d="M264 512.5l749.4 0l0-17.1l-749.4 0z" clip-path="url(#p661e0a8459)" style="fill: #0030ff"/></g><g id="patch_127"><path d="M273 512.5l740.4 0l0-17.1l-740.4 0z" clip-path="url(#p661e0a8459)" style="fill: #003cff"/></g><g id="patch_128"><path d="M282.1 512.5l731.3 0l0-17.1l-731.3 0z" clip-path="url(#p661e0a8459)" style="fill: #0044ff"/></g><g id="patch_129"><path d="M291.1 512.5l722.3 0l0-17.1l-722.3 0z" clip-path="url(#p661e0a8459)" style="fill: #0050ff"/></g><g id="patch_130"><path d="M300.1 512.5l713.3 0l0-17.1l-713.3 0z" clip-path="url(#p661e0a8459)" style="fill: #005cff"/></g><g id="patch_131"><path d="M309.2 512.5l704.2 0l0-17.1l-704.2 0z" clip-path="url(#p661e0a8459)" style="fill: #0064ff"/></g><g id="patch_132"><path d="M318.2 512.5l695.2 0l0-17.1l-695.2 0z" clip-path="url(#p661e0a8459)" style="fill: #0070ff"/></g><g id="patch_133"><path d="M327.2 512.5l686.2 0l0-17.1l-686.2 0z" clip-path="url(#p661e0a8459)" style="fill: #0078ff"/></g><g id="patch_134"><path d="M336.2 512.5l677.2 0l0-17.1l-677.2 0z" clip-path="url(#p661e0a8459)" style="fill: #0084ff"/></g><g id="patch_135"><path d="M345.3 512.5l668.1 0l0-17.1l-668.1 0z" clip-path="url(#p661e0a8459)" style="fill: #008cff"/></g><g id="patch_136"><path d="M354.3 512.5l659.1 0l0-17.1l-659.1 0z" clip-path="url(#p661e0a8459)" style="fill: #0098ff"/></g><g id="patch_137"><path d="M363.3 512.5l650.1 0l0-17.1l-650.1 0z" clip-path="url(#p661e0a8459)" style="fill: #00a0ff"/></g><g id="patch_138"><path d="M372.4 512.5l641 0l0-17.1l-641 0z" clip-path="url(#p661e0a8459)" style="fill: #00acff"/></g><g id="patch_139"><path d="M381.4 512.5l632 0l0-17.1l-632 0z" clip-path="url(#p661e0a8459)" style="fill: #00b8ff"/></g><g id="patch_140"><path d="M390.4 512.5l623 0l0-17.1l-623 0z" clip-path="url(#p661e0a8459)" style="fill: #00c0ff"/></g><g id="patch_141"><path d="M399.4 512.5l614 0l0-17.1l-614 0z" clip-path="url(#p661e0a8459)" style="fill: #00ccff"/></g><g id="patch_142"><path d="M408.5 512.5l604.9 0l0-17.1l-604.9 0z" clip-path="url(#p661e0a8459)" style="fill: #00d4ff"/></g><g id="patch_143"><path d="M417.5 512.5l595.9 0l0-17.1l-595.9 0z" clip-path="url(#p661e0a8459)" style="fill: #00e0fb"/></g><g id="patch_144"><path d="M426.5 512.5l586.9 0l0-17.1l-586.9 0z" clip-path="url(#p661e0a8459)" style="fill: #02e8f4"/></g><g id="patch_145"><path d="M435.6 512.5l577.8 0l0-17.1l-577.8 0z" clip-path="url(#p661e0a8459)" style="fill: #0cf4eb"/></g><g id="patch_146"><path d="M444.6 512.5l568.8 0l0-17.1l-568.8 0z" clip-path="url(#p661e0a8459)" style="fill: #16ffe1"/></g><g id="patch_147"><path d="M453.6 512.5l559.8 0l0-17.1l-559.8 0z" clip-path="url(#p661e0a8459)" style="fill: #1cffdb"/></g><g id="patch_148"><path d="M462.6 512.5l550.8 0l0-17.1l-550.8 0z" clip-path="url(#p661e0a8459)" style="fill: #26ffd1"/></g><g id="patch_149"><path d="M471.7 512.5l541.7 0l0-17.1l-541.7 0z" clip-path="url(#p661e0a8459)" style="fill: #2cffca"/></g><g id="patch_150"><path d="M480.7 512.5l532.7 0l0-17.1l-532.7 0z" clip-path="url(#p661e0a8459)" style="fill: #36ffc1"/></g><g id="patch_151"><path d="M489.7 512.5l523.7 0l0-17.1l-523.7 0z" clip-path="url(#p661e0a8459)" style="fill: #3cffba"/></g><g id="patch_152"><path d="M498.8 512.5l514.6 0l0-17.1l-514.6 0z" clip-path="url(#p661e0a8459)" style="fill: #46ffb1"/></g><g id="patch_153"><path d="M507.8 512.5l505.6 0l0-17.1l-505.6 0z" clip-path="url(#p661e0a8459)" style="fill: #4dffaa"/></g><g id="patch_154"><path d="M516.8 512.5l496.6 0l0-17.1l-496.6 0z" clip-path="url(#p661e0a8459)" style="fill: #56ffa0"/></g><g id="patch_155"><path d="M525.8 512.5l487.6 0l0-17.1l-487.6 0z" clip-path="url(#p661e0a8459)" style="fill: #60ff97"/></g><g id="patch_156"><path d="M534.9 512.5l478.5 0l0-17.1l-478.5 0z" clip-path="url(#p661e0a8459)" style="fill: #66ff90"/></g><g id="patch_157"><path d="M543.9 512.5l469.5 0l0-17.1l-469.5 0z" clip-path="url(#p661e0a8459)" style="fill: #70ff87"/></g><g id="patch_158"><path d="M552.9 512.5l460.5 0l0-17.1l-460.5 0z" clip-path="url(#p661e0a8459)" style="fill: #77ff80"/></g><g id="patch_159"><path d="M562 512.5l451.4 0l0-17.1l-451.4 0z" clip-path="url(#p661e0a8459)" style="fill: #80ff77"/></g><g id="patch_160"><path d="M571 512.5l442.4 0l0-17.1l-442.4 0z" clip-path="url(#p661e0a8459)" style="fill: #87ff70"/></g><g id="patch_161"><path d="M580 512.5l433.4 0l0-17.1l-433.4 0z" clip-path="url(#p661e0a8459)" style="fill: #90ff66"/></g><g id="patch_162"><path d="M589 512.5l424.4 0l0-17.1l-424.4 0z" clip-path="url(#p661e0a8459)" style="fill: #97ff60"/></g><g id="patch_163"><path d="M598.1 512.5l415.3 0l0-17.1l-415.3 0z" clip-path="url(#p661e0a8459)" style="fill: #a0ff56"/></g><g id="patch_164"><path d="M607.1 512.5l406.3 0l0-17.1l-406.3 0z" clip-path="url(#p661e0a8459)" style="fill: #aaff4d"/></g><g id="patch_165"><path d="M616.1 512.5l397.3 0l0-17.1l-397.3 0z" clip-path="url(#p661e0a8459)" style="fill: #b1ff46"/></g><g id="patch_166"><path d="M625.2 512.5l388.2 0l0-17.1l-388.2 0z" clip-path="url(#p661e0a8459)" style="fill: #baff3c"/></g><g id="patch_167"><path d="M634.2 512.5l379.2 0l0-17.1l-379.2 0z" clip-path="url(#p661e0a8459)" style="fill: #c1ff36"/></g><g id="patch_168"><path d="M643.2 512.5l370.2 0l0-17.1l-370.2 0z" clip-path="url(#p661e0a8459)" style="fill: #caff2c"/></g><g id="patch_169"><path d="M652.2 512.5l361.2 0l0-17.1l-361.2 0z" clip-path="url(#p661e0a8459)" style="fill: #d1ff26"/></g><g id="patch_170"><path d="M661.3 512.5l352.1 0l0-17.1l-352.1 0z" clip-path="url(#p661e0a8459)" style="fill: #dbff1c"/></g><g id="patch_171"><path d="M670.3 512.5l343.1 0l0-17.1l-343.1 0z" clip-path="url(#p661e0a8459)" style="fill: #e4ff13"/></g><g id="patch_172"><path d="M679.3 512.5l334.1 0l0-17.1l-334.1 0z" clip-path="url(#p661e0a8459)" style="fill: #ebff0c"/></g><g id="patch_173"><path d="M688.4 512.5l325 0l0-17.1l-325 0z" clip-path="url(#p661e0a8459)" style="fill: #f4f802"/></g><g id="patch_174"><path d="M697.4 512.5l316 0l0-17.1l-316 0z" clip-path="url(#p661e0a8459)" style="fill: #fbf100"/></g><g id="patch_175"><path d="M706.4 512.5l307 0l0-17.1l-307 0z" clip-path="url(#p661e0a8459)" style="fill: #ffe600"/></g><g id="patch_176"><path d="M715.4 512.5l298 0l0-17.1l-298 0z" clip-path="url(#p661e0a8459)" style="fill: #ffde00"/></g><g id="patch_177"><path d="M724.5 512.5l288.9 0l0-17.1l-288.9 0z" clip-path="url(#p661e0a8459)" style="fill: #ffd300"/></g><g id="patch_178"><path d="M733.5 512.5l279.9 0l0-17.1l-279.9 0z" clip-path="url(#p661e0a8459)" style="fill: #ffcc00"/></g><g id="patch_179"><path d="M742.5 512.5l270.9 0l0-17.1l-270.9 0z" clip-path="url(#p661e0a8459)" style="fill: #ffc100"/></g><g id="patch_180"><path d="M751.6 512.5l261.8 0l0-17.1l-261.8 0z" clip-path="url(#p661e0a8459)" style="fill: #ffb600"/></g><g id="patch_181"><path d="M760.6 512.5l252.8 0l0-17.1l-252.8 0z" clip-path="url(#p661e0a8459)" style="fill: #ffae00"/></g><g id="patch_182"><path d="M769.6 512.5l243.8 0l0-17.1l-243.8 0z" clip-path="url(#p661e0a8459)" style="fill: #ffa300"/></g><g id="patch_183"><path d="M778.7 512.5l234.7 0l0-17.1l-234.7 0z" clip-path="url(#p661e0a8459)" style="fill: #ff9c00"/></g><g id="patch_184"><path d="M787.7 512.5l225.7 0l0-17.1l-225.7 0z" clip-path="url(#p661e0a8459)" style="fill: #ff9100"/></g><g id="patch_185"><path d="M796.7 512.5l216.7 0l0-17.1l-216.7 0z" clip-path="url(#p661e0a8459)" style="fill: #ff8900"/></g><g id="patch_186"><path d="M805.7 512.5l207.7 0l0-17.1l-207.7 0z" clip-path="url(#p661e0a8459)" style="fill: #ff7e00"/></g><g id="patch_187"><path d="M814.8 512.5l198.6 0l0-17.1l-198.6 0z" clip-path="url(#p661e0a8459)" style="fill: #ff7700"/></g><g id="patch_188"><path d="M823.8 512.5l189.6 0l0-17.1l-189.6 0z" clip-path="url(#p661e0a8459)" style="fill: #ff6c00"/></g><g id="patch_189"><path d="M832.8 512.5l180.6 0l0-17.1l-180.6 0z" clip-path="url(#p661e0a8459)" style="fill: #ff6000"/></g><g id="patch_190"><path d="M841.9 512.5l171.5 0l0-17.1l-171.5 0z" clip-path="url(#p661e0a8459)" style="fill: #ff5900"/></g><g id="patch_191"><path d="M850.9 512.5l162.5 0l0-17.1l-162.5 0z" clip-path="url(#p661e0a8459)" style="fill: #ff4e00"/></g><g id="patch_192"><path d="M859.9 512.5l153.5 0l0-17.1l-153.5 0z" clip-path="url(#p661e0a8459)" style="fill: #ff4700"/></g><g id="patch_193"><path d="M868.9 512.5l144.5 0l0-17.1l-144.5 0z" clip-path="url(#p661e0a8459)" style="fill: #ff3b00"/></g><g id="patch_194"><path d="M878 512.5l135.4 0l0-17.1l-135.4 0z" clip-path="url(#p661e0a8459)" style="fill: #ff3400"/></g><g id="patch_195"><path d="M887 512.5l126.4 0l0-17.1l-126.4 0z" clip-path="url(#p661e0a8459)" style="fill: #ff2900"/></g><g id="patch_196"><path d="M896 512.5l117.4 0l0-17.1l-117.4 0z" clip-path="url(#p661e0a8459)" style="fill: #ff1e00"/></g><g id="patch_197"><path d="M905.1 512.5l108.3 0l0-17.1l-108.3 0z" clip-path="url(#p661e0a8459)" style="fill: #ff1600"/></g><g id="patch_198"><path d="M914.1 512.5l99.3 0l0-17.1l-99.3 0z" clip-path="url(#p661e0a8459)" style="fill: #f60b00"/></g><g id="patch_199"><path d="M923.1 512.5l90.3 0l0-17.1l-90.3 0z" clip-path="url(#p661e0a8459)" style="fill: #ed0400"/></g><g id="patch_200"><path d="M932.1 512.5l81.3 0l0-17.1l-81.3 0z" clip-path="url(#p661e0a8459)" style="fill: #df0000"/></g><g id="patch_201"><path d="M941.2 512.5l72.2 0l0-17.1l-72.2 0z" clip-path="url(#p661e0a8459)" style="fill: #d60000"/></g><g id="patch_202"><path d="M950.2 512.5l63.2 0l0-17.1l-63.2 0z" clip-path="url(#p661e0a8459)" style="fill: #c80000"/></g><g id="patch_203"><path d="M959.2 512.5l54.2 0l0-17.1l-54.2 0z" clip-path="url(#p661e0a8459)" style="fill: #bf0000"/></g><g id="patch_204"><path d="M968.3 512.5l45.1 0l0-17.1l-45.1 0z" clip-path="url(#p661e0a8459)" style="fill: #b20000"/></g><g id="patch_205"><path d="M977.3 512.5l36.1 0l0-17.1l-36.1 0z" clip-path="url(#p661e0a8459)" style="fill: #a40000"/></g><g id="patch_206"><path d="M986.3 512.5l27.1 0l0-17.1l-27.1 0z" clip-path="url(#p661e0a8459)" style="fill: #9b0000"/></g><g id="patch_207"><path d="M995.3 512.5l18.1 0l0-17.1l-18.1 0z" clip-path="url(#p661e0a8459)" style="fill: #8d0000"/></g><g id="patch_208"><path d="M1004.4 512.5l9 0l0-17.1l-9 0z" clip-path="url(#p661e0a8459)" style="fill: #840000"/></g><g id="patch_209"><path d="M1008.9 512.5l49.9-8.6l-49.9-8.5z" clip-path="url(#p661e0a8459)" style="fill: #800000"/></g><g id="matplotlib.axis_3"><g id="xtick_6"><g id="line2d_29"><g><use href="#m1504cfccaf" x="110.52" y="512.5" style="stroke: #000000; stroke-width: 0.8"/></g></g><g id="text_18"><text style="font-size: 20px; font-family: 'DejaVu Sans', 'Liberation Sans', sans-serif; text-anchor: middle" x="110.52" y="534.69">0</text></g></g><g id="xtick_7"><g id="line2d_30"><g><use href="#m1504cfccaf" x="200.81" y="512.5" style="stroke: #000000; stroke-width: 0.8"/></g></g><g id="text_19"><text style="font-size: 20px; font-family: 'DejaVu Sans', 'Liberation Sans', sans-serif; text-anchor: middle" x="200.81" y="534.69">10</text></g></g><g id="xtick_8"><g id="line2d_31"><g><use href="#m1504cfccaf" x="291.1" y="512.5" style="stroke: #000000; stroke-width: 0.8"/></g></g><g id="text_20"><text style="font-size: 20px; font-family: 'DejaVu Sans', 'Liberation Sans', sans-serif; text-anchor: middle" x="291.1" y="534.69">20</text></g></g><g id="xtick_9"><g id="line2d_32"><g><use href="#m1504cfccaf" x="381.38" y="512.5" style="stroke: #000000; stroke-width: 0.8"/></g></g><g id="text_21"><text style="font-size: 20px; font-family: 'DejaVu Sans', 'Liberation Sans', sans-serif; text-anchor: middle" x="381.38" y="534.69">30</text></g></g><g id="xtick_10"><g id="line2d_33"><g><use href="#m1504cfccaf" x="471.67" y="512.5" style="stroke: #000000; stroke-width: 0.8"/></g></g><g id="text_22"><text style="font-size: 20px; font-family: 'DejaVu Sans', 'Liberation Sans', sans-serif; text-anchor: middle" x="471.67" y="534.69">40</text></g></g><g id="xtick_11"><g id="line2d_34"><g><use href="#m1504cfccaf" x="561.96" y="512.5" style="stroke: #000000; stroke-width: 0.8"/></g></g><g id="text_23"><text style="font-size: 20px; font-family: 'DejaVu Sans', 'Liberation Sans', sans-serif; text-anchor: middle" x="561.96" y="534.69">50</text></g></g><g id="xtick_12"><g id="line2d_35"><g><use href="#m1504cfccaf" x="652.25" y="512.5" style="stroke: #000000; stroke-width: 0.8"/></g></g><g id="text_24"><text style="font-size: 20px; font-family: 'DejaVu Sans', 'Liberation Sans', sans-serif; text-anchor: middle" x="652.25" y="534.69">60</text></g></g><g id="xtick_13"><g id="line2d_36"><g><use href="#m1504cfccaf" x="742.54" y="512.5" style="stroke: #000000; stroke-width: 0.8"/></g></g><g id="text_25"><text style="font-size: 20px; font-family: 'DejaVu Sans', 'Liberation Sans', sans-serif; text-anchor: middle" x="742.54" y="534.69">70</text></g></g><g id="xtick_14"><g id="line2d_37"><g><use href="#m1504cfccaf" x="832.82" y="512.5" style="stroke: #000000; stroke-width: 0.8"/></g></g><g id="text_26"><text style="font-size: 20px; font-family: 'DejaVu Sans', 'Liberation Sans', sans-serif; text-anchor: middle" x="832.82" y="534.69">80</text></g></g><g id="xtick_15"><g id="line2d_38"><g><use href="#m1504cfccaf" x="923.11" y="512.5" style="stroke: #000000; stroke-width: 0.8"/></g></g><g id="text_27"><text style="font-size: 20px; font-family: 'DejaVu Sans', 'Liberation Sans', sans-serif; text-anchor: middle" x="923.11" y="534.69">90</text></g></g><g id="xtick_16"><g id="line2d_39"><g><use href="#m1504cfccaf" x="1013.4" y="512.5" style="stroke: #000000; stroke-width: 0.8"/></g></g><g id="text_28"><text style="font-size: 20px; font-family: 'DejaVu Sans', 'Liberation Sans', sans-serif; text-anchor: middle" x="1013.4" y="534.69">100</text></g></g><g id="text_29"><text style="font-size: 20px; font-family: 'DejaVu Sans', 'Liberation Sans', sans-serif; text-anchor: middle" x="561.96" y="558.75">Relative Humidity %</text></g></g><g id="matplotlib.axis_4"/><g id="patch_210"><path d="M110.5 512.5l-45.3-8.6l45.3-8.5l902.9 0l45.4 8.5l-45.4 8.6l-902.9 0z" style="fill: none; stroke: #000000; stroke-width: 2; stroke-linejoin: miter"/></g></g></g><defs><clipPath id="p21d3d19bf5"><rect x="65.16" y="34.92" width="993.6" height="397.37"/></clipPath><clipPath id="p661e0a8459"><rect x="65.16" y="495.36" width="993.6" height="17.14"/></clipPath></defs></svg>

</body></html>
